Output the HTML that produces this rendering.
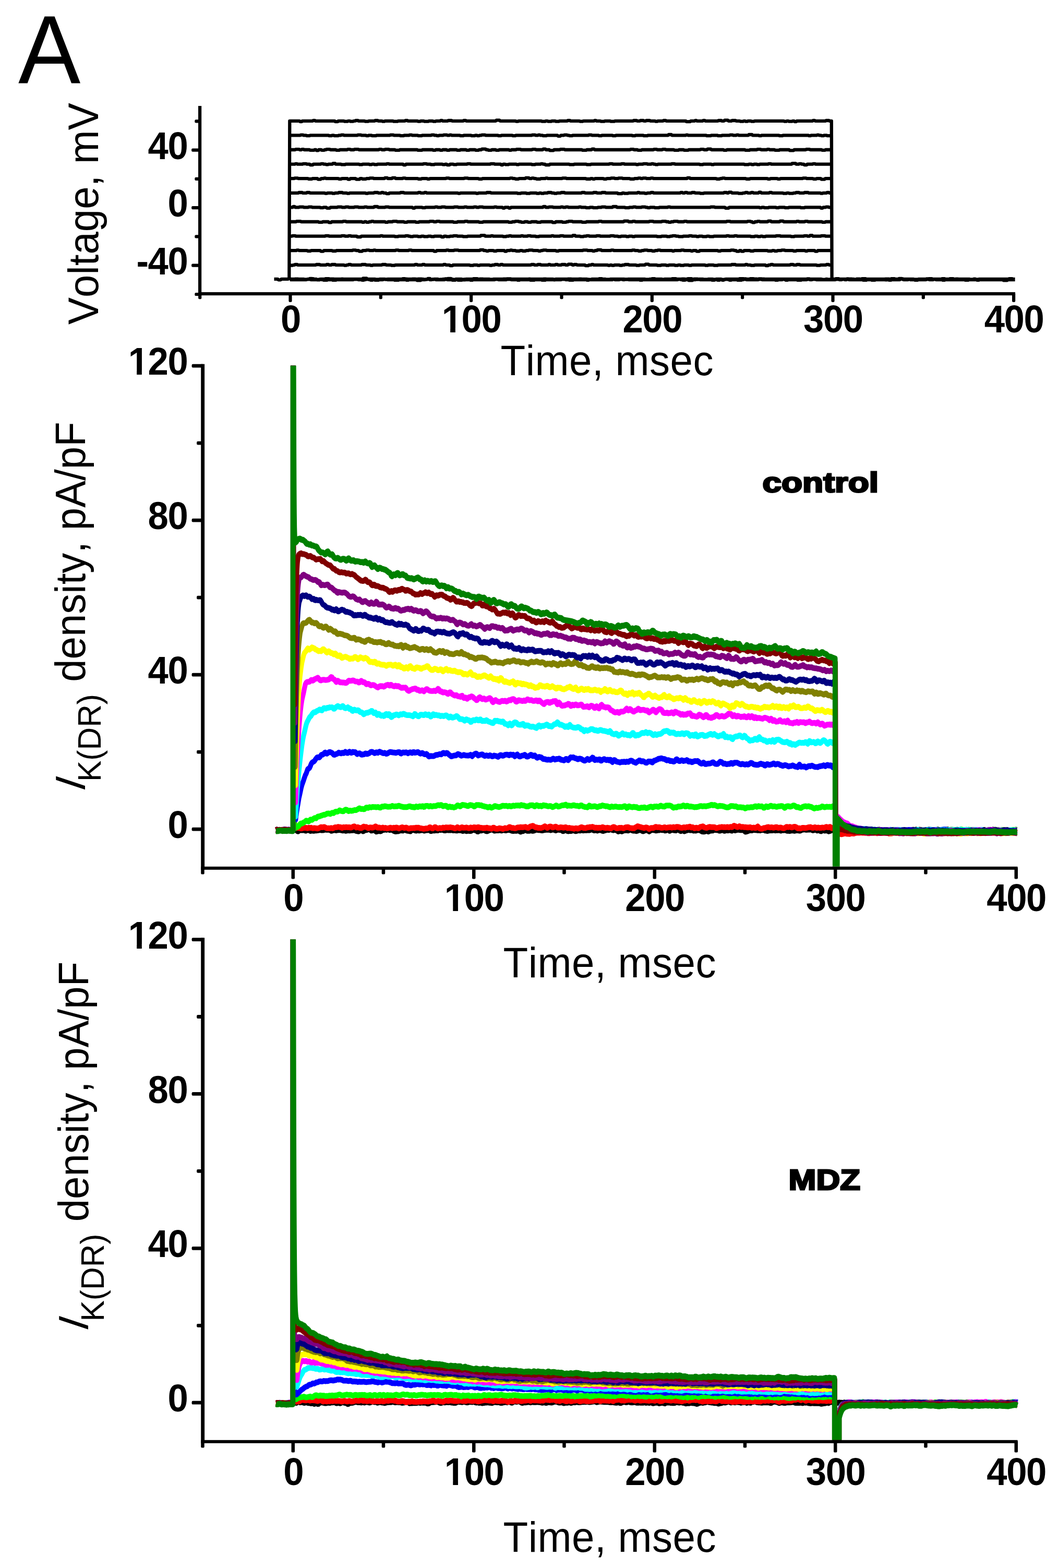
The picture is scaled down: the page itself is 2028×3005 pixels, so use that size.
<!DOCTYPE html>
<html lang="en"><head><meta charset="utf-8"><title>Figure A</title>
<style>
html,body{margin:0;padding:0;background:#fff;}
body{width:2028px;height:3005px;}
svg{display:block;}
text{font-family:"Liberation Sans",Arial,Helvetica,sans-serif;fill:#000;font-kerning:none;}
.tk text{font-weight:bold;font-size:75px;letter-spacing:-1.5px;}
.ti{font-size:78px;letter-spacing:0.55px;}
.tr{font-size:78px;}
.lg{font-weight:bold;stroke:#000;stroke-width:3px;stroke-linejoin:miter;}
</style></head><body>
<svg width="2028" height="3005" viewBox="0 0 2028 3005">
<rect width="2028" height="3005" fill="#fff"/>
<text transform="translate(35 159) scale(1 1.041)" font-size="179">A</text>
<g transform="scale(.1)"><path fill="none" stroke="#000" stroke-width="63" stroke-linejoin="round" d="M5255 5349l69 0 12 14 45 0 12-14 125 0 12-8 30 0 12 8 253 0 12 8 47 0 12-8 38 0 12-8 61 0 12 8 46 0 12 14 53 0 12-14 84 0 12-8 70 0 12 8 627 0 12-15 69 0 12 15 151 0 12 8 60 0 12-8 103 0 12 8 26 0 12-8 280 0 12-8 42 0 12 8 339 0 12 8 57 0 12-8 32 0 12 8 69 0 12-8 76 0 12 8 70 0 12-8 184 0 12 8 38 0 12-8 113 0 12 14 61 0 12-14 130 0 12-8 75 0 12 8 220 0 12 8 49 0 12-8 1146 0 12 14 27 0 12-14 601 0 12 8 66 0 12-8 131 0 12-8 51 0 12 8 57 0 12 8 67 0 12-8 272 0 12 8 44 0 12-8 326 0 12 8 65 0 12-8 35 0 12-8 51 0 12 8 125 0 12 8 27 0 12-8 134 0 12-8 72 0 12 8 93 0 12 8 57 0 12-8 30 0 12-8 72 0 12 8 58 0 12 8 47 0 12-8 80 0 12 8 73 0 12-8 90 0 12 8 39 0 12-8 98 0 12 8 60 0 12-8 254 0 12-8 70 0 12 8 111 0 12-8 63 0 12 8 1290 0 12 8 62 0 12-8 26 0 12 8 57 0 12-8 71 0 12-8 57 0 12 8 280 0 12 8 31 0 12-8 84 0 12-8 72 0 12 8 349 0 12 14 44 0 12-14 50 0 12-8 63 0 12 8 58 0 12-8 55 0 12 8 217 0 12 8 67 0 12-8 186 0 12-8 61 0 12 8 170 0 12-8 50 0 12 8 76 0 12-8 65 0 12 8 303 0 12 8 55 0 12-8 22 0 12 8 52 0 12-8 565 0 12-8 62 0 12 8 41 0M5560 5354l82 0 12-8 62 0 12 8 197 0 12-14 44 0 12 14 72 0 12 8 26 0 12-8 207 0 12-8 64 0 12 8 121 0 12-8 33 0 12 8 503 0 12 14 39 0 12-14 280 0 12 8 30 0 12-8 102 0 12 8 42 0 12-8 106 0 12-8 29 0 12 8 76 0 12-8 61 0 12 8 27 0 12-8 69 0 12 8 93 0 12-14 42 0 12 14 105 0 12 8 55 0 12-8 133 0 12-14 61 0 12 14 29 0 12 8 48 0 12-8 58 0 12 8 35 0 12-8 21 0 12 8 49 0 12-8 217 0 12-8 60 0 12 8 279 0 12 8 26 0 12-8 35 0 12-8 60 0 12 8 405 0 12-8 29 0 12 8 35 0 12 8 51 0 12-8 120 0 12-8 51 0 12 8 391 0 12-8 66 0 12 8 124 0 12-8 46 0 12 8 137 0 12 8 70 0 12-8 54 0 12 8 73 0 12-8 154 0 12 8 31 0 12-8 401 0 12 8 35 0 12-8 265 0 12 8 32 0 12-8 195 0 12 8 71 0 12-8 113 0 12 8 42 0 12-8 59 0 12-8 53 0 12 8 45 0 12 8 62 0 12-8 29 0 12-8 68 0 12 8 444 0 12 14 33 0 12-14 84 0 12 14 36 0 12-14 421 0 12-8 47 0 12 8 71 0 12-8 47 0 12 8 160 0 12 8 25 0 12-8 172 0 12 14 43 0 12-14 657 0 12 8 70 0 12-8 386 0 12-8 70 0 12 8 64 0 12-8 64 0 12 8 32 0 12-8 66 0 12 8 341 0 12-8 73 0 12 8 165 0 12-14 54 0 12 14 59 0 12 8 33 0 12-8 27 0 12 8 57 0 12-8 490 0 12 8 47 0 12-8 225 0 12-8 45 0 12 8 43 0 12 8 70 0 12-8 138 0 12-8 33 0 12 8 537 0 12 8 43 0 12-8 143 0M5560 5360l312 0 12-8 61 0 12 8 151 0 12-8 35 0 12 8 27 0 12 8 62 0 12-8 86 0 12 8 60 0 12-8 323 0 12-8 70 0 12 8 63 0 12 8 28 0 12-8 24 0 12-8 45 0 12 8 103 0 12 8 64 0 12-8 74 0 12-8 62 0 12 8 127 0 12 8 72 0 12-8 132 0 12 8 31 0 12-8 147 0 12 14 67 0 12-14 77 0 12-8 63 0 12 8 37 0 12-8 55 0 12 8 167 0 12-15 31 0 12 15 84 0 12 8 53 0 12-8 32 0 12 8 68 0 12-8 28 0 12-8 54 0 12 8 41 0 12 8 34 0 12-8 417 0 12-8 46 0 12 8 151 0 12-15 73 0 12 15 110 0 12 8 31 0 12-8 190 0 12 8 71 0 12-8 127 0 12 8 61 0 12-8 294 0 12-8 60 0 12 8 62 0 12 8 68 0 12-8 246 0 12 8 28 0 12-8 438 0 12-8 30 0 12 8 87 0 12-8 43 0 12 8 32 0 12-8 55 0 12 8 208 0 12 8 36 0 12-8 637 0 12-8 74 0 12 8 25 0 12 8 39 0 12-8 49 0 12 14 69 0 12-14 49 0 12-8 63 0 12 8 219 0 12 8 40 0 12-8 45 0 12 8 30 0 12-8 79 0 12-8 59 0 12 8 164 0 12 8 71 0 12-8 23 0 12-15 41 0 12 15 224 0 12-15 52 0 12 15 244 0 12 8 40 0 12-8 77 0 12-8 40 0 12 8 216 0 12 8 67 0 12-8 95 0 12-15 41 0 12 15 39 0 12-8 57 0 12 8 365 0 12-15 56 0 12 15 44 0 12-8 33 0 12 8 32 0 12-15 26 0 12 15 261 0 12 8 59 0 12-8 81 0 12 8 59 0 12-8 249 0 12 8 34 0 12-8 158 0 12-15 50 0 12 15 46 0 12-8 72 0 12 8 64 0 12 8 48 0 12-8 149 0 12-15 43 0 12 15 74 0 12-8 27 0 12 8 119 0 12 8 34 0 12-8 374 0 12 8 55 0 12-8 148 0 12 8 31 0 12-8 451 0 12 14 69 0 12-14 139 0M5543 5354l1-276 23 0 12 8 27 0 12-8 23 0 12-8 46 0 12 8 339 0 12-8 67 0 12 8 107 0 12-8 40 0 12 8 35 0 12-8 68 0 12 8 153 0 12 8 30 0 12-8 24 0 12-8 42 0 12 8 187 0 12-8 74 0 12 8 75 0 12 8 29 0 12-8 166 0 12-8 67 0 12 8 87 0 12 8 59 0 12-8 367 0 12-8 40 0 12 8 79 0 12-8 38 0 12 8 343 0 12-8 37 0 12 8 64 0 12 14 44 0 12-14 316 0 12 8 56 0 12-8 68 0 12 8 31 0 12-8 177 0 12 8 32 0 12-8 39 0 12-8 55 0 12 8 31 0 12-8 36 0 12 8 528 0 12-8 51 0 12 8 49 0 12-8 52 0 12 8 131 0 12-8 26 0 12 8 82 0 12-8 39 0 12 8 56 0 12-8 67 0 12 8 39 0 12-14 62 0 12 14 22 0 12-8 48 0 12 8 146 0 12 14 54 0 12-14 40 0 12-8 29 0 12 8 266 0 12 8 27 0 12-8 21 0 12 8 34 0 12-8 93 0 12 8 37 0 12-8 35 0 12-8 70 0 12 8 129 0 12 8 48 0 12-8 102 0 12-14 53 0 12 14 149 0 12 8 63 0 12-8 85 0 12 8 39 0 12-8 103 0 12 8 49 0 12-8 35 0 12 8 56 0 12-8 82 0 12 8 37 0 12-8 253 0 12 8 42 0 12-8 98 0 12 8 65 0 12-8 247 0 12-8 73 0 12 8 169 0 12-8 31 0 12 8 53 0 12 8 56 0 12-8 204 0 12 14 37 0 12-14 32 0 12-8 38 0 12 8 315 0 12-8 53 0 12 8 45 0 12-8 55 0 12 8 306 0 12 8 56 0 12-8 102 0 12-8 45 0 12 8 47 0 1 276M5543 5354l2-552 133 0 12-8 32 0 12 8 152 0 12 8 54 0 12-8 176 0 12 14 44 0 12-14 155 0 12 8 62 0 12-8 302 0 12-8 54 0 12 8 46 0 12 14 53 0 12-14 60 0 12-8 50 0 12 8 67 0 12-8 26 0 12 8 373 0 12-8 47 0 12 8 180 0 12-8 46 0 12 8 414 0 12 14 36 0 12-14 175 0 12-8 35 0 12 8 92 0 12-8 73 0 12 8 401 0 12-14 55 0 12 14 39 0 12 8 32 0 12-8 86 0 12 8 46 0 12-8 141 0 12 14 28 0 12-14 54 0 12-8 26 0 12 8 59 0 12 8 66 0 12-8 37 0 12 8 53 0 12-8 42 0 12-8 69 0 12 8 93 0 12 8 35 0 12-8 28 0 12-8 59 0 12 8 168 0 12 8 41 0 12-8 451 0 12-8 75 0 12 8 85 0 12 8 32 0 12-8 34 0 12-14 67 0 12 14 173 0 12-8 39 0 12 8 341 0 12-8 42 0 12 8 55 0 12 8 49 0 12-8 33 0 12-8 60 0 12 8 72 0 12 8 44 0 12-8 38 0 12-8 43 0 12 8 215 0 12 8 25 0 12-8 118 0 12-8 46 0 12 8 120 0 12 8 25 0 12-8 57 0 12 14 47 0 12-14 341 0 12 8 42 0 12-8 178 0 12-8 54 0 12 8 33 0 12 14 43 0 12-14 26 0 12 14 36 0 12-14 112 0 12 8 55 0 12-8 255 0 12 8 73 0 12-8 31 0 12 8 45 0 12-8 65 0 12-8 56 0 12 8 148 0 12 8 46 0 12-8 159 0 12 8 31 0 12-8 133 0 12 14 36 0 12-14 269 0 1 552M5543 5354l3-828 48 0 12-8 54 0 12 8 556 0 12-8 59 0 12 8 227 0 12-8 55 0 12 8 54 0 12-8 38 0 12 8 103 0 12 14 68 0 12-14 357 0 12-8 31 0 12 8 221 0 12 8 54 0 12-8 125 0 12-8 46 0 12 8 25 0 12 8 40 0 12-8 82 0 12 8 50 0 12-8 41 0 12 8 64 0 12-8 50 0 12 8 45 0 12-8 124 0 12 14 41 0 12-14 34 0 12 8 54 0 12-8 54 0 12-8 64 0 12 8 98 0 12 8 73 0 12-8 242 0 12-14 72 0 12 14 102 0 12-8 26 0 12 8 181 0 12 8 50 0 12-8 40 0 12-8 29 0 12 8 178 0 12-8 27 0 12 8 74 0 12-8 49 0 12 8 84 0 12 8 52 0 12-8 225 0 12-8 28 0 12 8 112 0 12-8 55 0 12 8 163 0 12-14 40 0 12 14 83 0 12 8 51 0 12-8 41 0 12-8 44 0 12 8 124 0 12-8 59 0 12 8 183 0 12-8 61 0 12 8 65 0 12 8 42 0 12-8 93 0 12 8 35 0 12-8 58 0 12 8 30 0 12-8 415 0 12 8 72 0 12-8 96 0 12 8 46 0 12-8 32 0 12-8 57 0 12 8 41 0 12 8 72 0 12-8 102 0 12-8 44 0 12 8 79 0 12 8 29 0 12-8 61 0 12 8 65 0 12-8 41 0 12 8 69 0 12-8 234 0 12-8 38 0 12 8 89 0 12-8 40 0 12 8 250 0 12 8 64 0 12-8 49 0 12 8 38 0 12-8 30 0 12 8 44 0 12-8 187 0 12-8 73 0 12 8 192 0 12 8 52 0 12-8 172 0 12-8 54 0 12 8 35 0 12-14 40 0 12 14 150 0 12-8 70 0 12 8 119 0 2 828M5543 5354l4-1104 127 0 12-8 75 0 12 8 329 0 12 8 60 0 12-8 108 0 12 14 40 0 12-14 209 0 12-8 47 0 12 8 298 0 12 8 26 0 12-8 32 0 12 8 35 0 12-8 34 0 12-8 29 0 12 8 216 0 12 8 35 0 12-8 83 0 12-8 69 0 12 8 125 0 12 8 46 0 12-8 153 0 12 8 49 0 12-8 192 0 12-8 64 0 12 8 45 0 12-8 48 0 12 8 251 0 12 8 62 0 12-8 131 0 12-8 44 0 12 8 207 0 12 8 63 0 12-8 480 0 12 8 54 0 12-8 46 0 12-8 60 0 12 8 34 0 12 8 48 0 12-8 57 0 12 8 47 0 12-8 102 0 12 8 60 0 12-8 211 0 12 14 49 0 12-14 119 0 12 8 61 0 12-8 30 0 12-8 66 0 12 8 170 0 12 8 68 0 12-8 228 0 12-8 46 0 12 8 414 0 12-14 73 0 12 14 70 0 12-8 35 0 12 8 259 0 12-8 66 0 12 8 152 0 12-8 69 0 12 8 38 0 12 8 31 0 12-8 41 0 12-8 69 0 12 8 106 0 12-8 41 0 12 8 750 0 12-8 58 0 12 8 317 0 12-8 49 0 12 8 23 0 12 14 33 0 12-14 37 0 12-8 34 0 12 8 147 0 12-14 46 0 12 14 158 0 12-14 54 0 12 14 243 0 12-8 32 0 12 8 103 0 12-8 43 0 12 8 265 0 12 8 46 0 12-8 118 0 3 1104M5543 5354l5-1380 60 0 12-14 28 0 12 14 67 0 12-8 75 0 12 8 78 0 12-8 59 0 12 8 146 0 12 8 44 0 12-8 52 0 12 14 59 0 12-14 125 0 12-8 74 0 12 8 54 0 12-8 53 0 12 8 94 0 12-8 68 0 12 8 100 0 12-8 40 0 12 8 123 0 12-14 63 0 12 14 127 0 12-8 60 0 12 8 441 0 12 14 33 0 12-14 130 0 12 8 44 0 12-8 174 0 12-8 38 0 12 8 62 0 12-8 62 0 12 8 154 0 12-8 68 0 12 8 104 0 12-8 39 0 12 8 120 0 12-8 42 0 12 8 35 0 12-8 66 0 12 8 201 0 12-8 35 0 12 8 103 0 12 14 28 0 12-14 63 0 12 14 29 0 12-14 607 0 12-14 37 0 12 14 48 0 12-8 71 0 12 8 135 0 12-8 32 0 12 8 38 0 12-8 39 0 12 8 190 0 12-8 31 0 12 8 83 0 12 8 58 0 12-8 54 0 12 8 75 0 12-8 62 0 12-8 67 0 12 8 122 0 12-14 66 0 12 14 149 0 12 8 65 0 12-8 63 0 12-8 43 0 12 8 97 0 12-8 65 0 12 8 27 0 12 8 30 0 12-8 81 0 12 8 73 0 12-8 154 0 12-8 36 0 12 8 757 0 12-8 71 0 12 8 187 0 12 14 63 0 12-14 573 0 12 8 28 0 12-8 37 0 12 8 72 0 12-8 134 0 12 8 38 0 12-8 105 0 12 8 60 0 12-8 219 0 12 8 63 0 12-8 295 0 12 14 32 0 12-14 41 0 12-8 47 0 12 8 50 0 4 1380M5543 5354l5-1656 167 0 12-8 67 0 12 8 64 0 12-8 51 0 12 8 278 0 12 8 30 0 12-8 88 0 12 8 35 0 12-8 57 0 12-8 69 0 12 8 73 0 12 8 32 0 12-8 301 0 12 8 32 0 12-8 102 0 12-8 70 0 12 8 45 0 12-8 30 0 12 8 42 0 12 14 45 0 12-14 199 0 12-8 62 0 12 8 255 0 12-8 39 0 12 8 56 0 12-8 33 0 12 8 593 0 12 8 26 0 12-8 295 0 12 8 28 0 12-8 146 0 12-8 74 0 12 8 495 0 12 8 56 0 12-8 91 0 12 8 58 0 12-8 116 0 12 8 39 0 12-8 25 0 12 8 37 0 12-8 62 0 12-8 65 0 12 8 38 0 12 8 37 0 12-8 65 0 12-8 64 0 12 8 310 0 12-8 52 0 12 8 146 0 12-8 59 0 12 8 79 0 12-8 64 0 12 8 220 0 12 14 74 0 12-14 26 0 12 8 65 0 12-8 164 0 12-8 29 0 12 8 89 0 12 8 32 0 12-8 56 0 12-8 43 0 12 8 502 0 12-8 35 0 12 8 24 0 12-8 40 0 12 8 70 0 12-8 53 0 12 8 85 0 12 8 59 0 12-8 371 0 12-8 51 0 12 8 21 0 12-14 42 0 12 14 118 0 12 8 70 0 12-8 33 0 12-8 40 0 12 8 49 0 12-8 35 0 12 8 94 0 12-14 28 0 12 14 146 0 12-8 42 0 12 8 202 0 12 8 54 0 12-8 34 0 12 8 68 0 12-8 36 0 12-8 59 0 12 8 78 0 12-8 73 0 12 8 220 0 12 8 27 0 12-8 64 0 12-8 40 0 12 8 39 0 4 1656M5543 5354l6-1932 87 0 12-8 58 0 12 8 184 0 12 8 64 0 12-8 95 0 12 14 47 0 12-14 46 0 12-8 25 0 12 8 233 0 12 8 45 0 12-8 107 0 12 14 31 0 12-14 102 0 12 14 62 0 12-14 33 0 12 8 66 0 12-8 51 0 12-8 64 0 12 8 203 0 12-14 42 0 12 14 77 0 12-14 50 0 12 14 128 0 12-8 43 0 12 8 227 0 12 8 54 0 12-8 99 0 12 8 34 0 12-8 301 0 12-8 51 0 12 8 273 0 12-8 63 0 12 8 190 0 12 8 57 0 12-8 518 0 12-8 42 0 12 8 36 0 12 8 57 0 12-8 117 0 12-14 57 0 12 14 36 0 12-8 33 0 12 8 31 0 12 8 71 0 12-8 85 0 12-8 27 0 12 8 267 0 12-8 67 0 12 8 367 0 12 8 73 0 12-8 29 0 12 8 29 0 12-8 156 0 12 8 46 0 12-8 68 0 12-8 63 0 12 8 57 0 12-8 70 0 12 8 130 0 12 8 71 0 12-8 59 0 12-8 40 0 12 8 25 0 12-8 58 0 12 8 70 0 12-8 39 0 12 8 640 0 12-14 40 0 12 14 495 0 12 8 56 0 12-8 29 0 12-8 42 0 12 8 392 0 12 8 64 0 12-8 327 0 12 8 39 0 12-8 127 0 12 8 40 0 12-8 419 0 12-8 59 0 12 8 116 0 12 8 51 0 12-8 78 0 12 14 61 0 12-14 123 0 5 1932M5543 5354l7-2208 101 0 12-8 28 0 12 8 95 0 12-8 60 0 12 8 51 0 12 14 51 0 12-14 135 0 12-8 40 0 12 8 37 0 12 8 28 0 12-8 75 0 12-14 40 0 12 14 100 0 12 8 66 0 12-8 255 0 12 8 47 0 12-8 123 0 12 8 34 0 12-8 36 0 12 8 45 0 12-8 168 0 12-8 35 0 12 8 259 0 12 14 38 0 12-14 321 0 12-8 56 0 12 8 65 0 12 8 59 0 12-8 145 0 12 8 33 0 12-8 22 0 12 14 48 0 12-14 58 0 12 8 46 0 12-8 191 0 12-8 53 0 12 8 368 0 12-8 66 0 12 8 112 0 12 14 28 0 12-14 32 0 12 8 52 0 12-8 140 0 12 8 30 0 12-8 236 0 12 8 55 0 12-8 95 0 12-8 28 0 12 8 32 0 12 14 75 0 12-14 366 0 12 8 75 0 12-8 230 0 12 8 68 0 12-8 342 0 12-8 54 0 12 8 152 0 12-8 48 0 12 8 215 0 12 8 26 0 12-8 82 0 12-8 68 0 12 8 66 0 12-8 29 0 12 8 26 0 12 8 32 0 12-8 250 0 12-8 54 0 12 8 464 0 12 8 51 0 12-8 151 0 12 8 31 0 12-8 575 0 12 8 70 0 12-8 46 0 12 8 28 0 12-8 51 0 12 8 37 0 12-8 155 0 12-8 42 0 12 8 385 0 12-14 67 0 12 14 46 0 12-8 36 0 12 8 36 0 12 14 47 0 12-14 98 0 12-8 37 0 12 8 305 0 6 2208M5543 5354l8-2484 106 0 12-8 64 0 12 8 32 0 12-8 29 0 12 8 104 0 12 8 71 0 12-8 27 0 12 14 30 0 12-14 48 0 12 8 41 0 12-8 25 0 12-8 61 0 12 8 105 0 12 8 53 0 12-8 139 0 12-8 43 0 12 8 63 0 12-8 73 0 12 8 378 0 12-8 37 0 12 8 53 0 12-8 67 0 12 8 106 0 12 8 70 0 12-8 335 0 12 8 74 0 12-8 196 0 12 8 36 0 12-8 77 0 12 8 31 0 12-8 75 0 12 8 37 0 12-8 131 0 12 8 50 0 12-8 108 0 12 8 43 0 12-8 107 0 12 8 50 0 12-8 45 0 12-14 68 0 12 14 33 0 12 8 51 0 12-8 74 0 12 8 45 0 12-8 184 0 12 8 27 0 12-8 85 0 12-8 74 0 12 8 207 0 12-8 56 0 12 8 127 0 12-14 39 0 12 14 64 0 12 14 67 0 12-14 110 0 12-8 74 0 12 8 326 0 12 8 69 0 12-8 92 0 12-14 35 0 12 14 678 0 12-8 53 0 12 8 66 0 12 8 60 0 12-8 221 0 12-8 51 0 12 8 92 0 12-8 50 0 12 8 152 0 12 8 73 0 12-8 90 0 12 8 72 0 12-8 219 0 12-8 53 0 12 8 56 0 12-14 60 0 12 14 230 0 12 8 43 0 12-8 345 0 12 8 75 0 12-8 129 0 12-8 60 0 12 8 108 0 12-8 31 0 12 8 94 0 12 8 74 0 12-8 181 0 12 14 73 0 12-14 221 0 12-8 62 0 12 8 219 0 12 8 50 0 12-8 116 0 7 2484M5543 5354l9-2760 199 0 12-8 47 0 12 8 46 0 12 8 53 0 12-8 353 0 12 8 44 0 12-8 32 0 12 8 70 0 12-8 38 0 12-8 42 0 12 8 250 0 12-8 61 0 12 8 83 0 12 8 29 0 12-8 55 0 12 8 71 0 12-8 253 0 12-8 59 0 12 8 112 0 12 8 58 0 12-8 92 0 12-8 40 0 12 8 104 0 12 8 62 0 12-8 168 0 12-8 46 0 12 8 37 0 12 8 26 0 12-8 73 0 12-8 63 0 12 8 32 0 12-8 26 0 12 8 154 0 12 8 53 0 12-8 137 0 12 8 58 0 12-8 31 0 12 8 27 0 12-8 31 0 12-8 64 0 12 8 233 0 12 8 44 0 12-8 206 0 12 8 47 0 12-8 300 0 12-8 57 0 12 8 38 0 12-8 28 0 12 8 40 0 12 8 59 0 12-8 201 0 12 14 44 0 12-14 53 0 12-8 51 0 12 8 26 0 12 8 48 0 12-8 297 0 12-8 50 0 12 8 123 0 12 8 42 0 12-8 199 0 12 8 47 0 12-8 305 0 12 8 46 0 12-8 146 0 12 8 66 0 12-8 385 0 12-14 53 0 12 14 261 0 12-8 26 0 12 8 343 0 12 8 74 0 12-8 120 0 12 8 64 0 12-8 140 0 12-8 51 0 12 8 53 0 12-8 31 0 12 8 178 0 12-14 61 0 12 14 117 0 12 8 30 0 12-8 332 0 12 8 55 0 12-8 487 0 12 8 27 0 12-8 106 0 12-8 27 0 12 8 33 0 12 8 34 0 12-8 51 0 12 8 53 0 12-8 16 0 7 2760M5543 5354l10-3036 189 0 12 14 29 0 12-14 194 0 12-8 38 0 12 8 364 0 12 14 46 0 12-14 106 0 12 8 57 0 12-8 34 0 12 8 49 0 12-8 25 0 12-8 48 0 12 8 113 0 12 8 55 0 12-8 109 0 12-8 53 0 12 8 68 0 12 8 33 0 12-8 154 0 12 8 74 0 12-8 126 0 12-8 42 0 12 8 180 0 12 8 36 0 12-8 60 0 12 8 73 0 12-8 74 0 12 8 40 0 12-8 76 0 12-8 30 0 12 8 90 0 12-8 68 0 12 8 205 0 12-8 43 0 12 8 562 0 12-14 57 0 12 14 298 0 12 8 33 0 12-8 437 0 12 8 60 0 12-8 34 0 12 8 58 0 12-8 66 0 12 8 57 0 12-8 145 0 12-8 46 0 12 8 169 0 12 8 48 0 12-8 204 0 12-8 28 0 12 8 72 0 12 8 61 0 12-8 103 0 12 8 66 0 12-8 346 0 12-8 61 0 12 8 45 0 12-8 60 0 12 8 29 0 12-8 70 0 12 8 87 0 12 8 29 0 12-8 96 0 12-8 46 0 12 8 370 0 12 14 72 0 12-14 71 0 12-8 26 0 12 8 103 0 12-8 35 0 12 8 233 0 12-8 59 0 12 8 39 0 12-14 59 0 12 14 57 0 12-8 71 0 12 8 66 0 12 8 52 0 12-8 26 0 12 8 30 0 12-8 58 0 12 8 45 0 12-8 561 0 12 8 36 0 12-8 27 0 12 8 59 0 12-8 26 0 12 14 30 0 12-14 297 0 12-8 36 0 12 8 190 0 12-8 58 0 12 8 35 0 8 3036"/></g>
<g fill="#000"><rect x="380.0" y="203.0" width="6.2" height="363.1"/><rect x="380.0" y="559.9" width="1566.0" height="6.2"/><rect x="553.4" y="561.0" width="6.2" height="18.0" rx="2.2"/><rect x="900.0" y="561.0" width="6.2" height="18.0" rx="2.2"/><rect x="1246.7" y="561.0" width="6.2" height="18.0" rx="2.2"/><rect x="1593.4" y="561.0" width="6.2" height="18.0" rx="2.2"/><rect x="1940.0" y="561.0" width="6.2" height="18.0" rx="2.2"/><rect x="380.1" y="561.0" width="6.2" height="12.2" rx="2.2"/><rect x="726.7" y="561.0" width="6.2" height="12.2" rx="2.2"/><rect x="1073.4" y="561.0" width="6.2" height="12.2" rx="2.2"/><rect x="1420.0" y="561.0" width="6.2" height="12.2" rx="2.2"/><rect x="1766.7" y="561.0" width="6.2" height="12.2" rx="2.2"/><rect x="367.1" y="505.6" width="18.0" height="6.2" rx="2.2"/><rect x="367.1" y="395.1" width="18.0" height="6.2" rx="2.2"/><rect x="367.1" y="284.6" width="18.0" height="6.2" rx="2.2"/><rect x="373.3" y="560.9" width="11.8" height="6.2" rx="2.2"/><rect x="373.3" y="450.3" width="11.8" height="6.2" rx="2.2"/><rect x="373.3" y="339.8" width="11.8" height="6.2" rx="2.2"/><rect x="373.3" y="229.3" width="11.8" height="6.2" rx="2.2"/></g>
<g class="tk"><text transform="translate(359.3 525.8) scale(0.942 1)" text-anchor="end">-40</text><text transform="translate(359.3 415.3) scale(0.942 1)" text-anchor="end">0</text><text transform="translate(359.3 304.8) scale(0.942 1)" text-anchor="end">40</text><text transform="translate(556.9 637.3) scale(0.942 1)" text-anchor="middle">0</text><text transform="translate(903.5 637.3) scale(0.942 1)" text-anchor="middle">100</text><g transform="translate(903.5 637.3) scale(0.942 1)" fill="#fff"><rect x="-56.40" y="-8.35" width="13.58" height="9.25"/><rect x="-32.53" y="-8.35" width="12.63" height="9.25"/></g><text transform="translate(1250.2 637.3) scale(0.942 1)" text-anchor="middle">200</text><text transform="translate(1596.9 637.3) scale(0.942 1)" text-anchor="middle">300</text><text transform="translate(1943.5 637.3) scale(0.942 1)" text-anchor="middle">400</text></g>
<text class="ti" transform="translate(959.5 718.8) scale(1 1.04)">Time, msec</text>
<text class="tr" transform="translate(188 622) rotate(-90) scale(1 1.04)">Voltage, mV</text>
<clipPath id="c2"><rect x="380" y="700.7" width="1640" height="960.0"/></clipPath>
<g clip-path="url(#c2)"><g transform="scale(0.085 .1)" fill="none" stroke-width="109" stroke-linejoin="round">
<path stroke="#000" d="M6224 15913l18-2 19-1 19 0 19 0 19 0 18 1 19-5 19 3 19 3 19 0 19 5 18-1 19-10 19 5 19 6 19 3 19-2 18-9 19-2 19 2 7 4 0-9336 4 0 4 3437 4 2638 4 1456 4 803 4 443 4 245 4 136 5 75 4 41 4 23 4 13 4 7 4 4 4 3 4 4 4 3 5 3 4 3 4 3 4 3 4 3 4 4 4 2 4 1 5 1 4 1 4 0 4-1 4-4 4-4 4-4 4-3 4-2 5-2 4-2 4-2 4-1 4 1 4 1 1 0 19 2 18-1 19 1 19-3 19 0 19 12 19 0 18-13 19-5 19 3 19 13 19 8 18-6 19-2 19 3 19 2 19-3 19-4 18 2 19-2 19-2 19-2 19-6 19 0 18 5 19-2 19 2 19-2 19-8 18-4 19 5 19 0 19 0 19 1 19-3 18 9 19 13 19-1 19-7 19-2 19-4 18 3 19 5 19-6 19-2 19 0 18-4 19 5 19 2 19 5 19 2 19-4 18 1 19 7 19 0 19-3 19-4 19 1 18 3 19-2 19-4 19-1 19 0 18-5 19 1 19 9 19 9 19 1 19 4 18 3 19-11 19-16 19-3 19 13 19 13 18-3 19-14 19-8 19 3 19-4 18-9 19 0 19 2 19 9 19 12 19-1 18-11 19 0 19 9 19 12 19 12 19-4 18-10 19 1 19 3 19 1 19-3 18-13 19-9 19 1 19-9 19 0 19 7 18-5 19-7 19 8 19 7 19-4 19-1 18 2 19 10 19 10 19 7 19 4 18-2 19-4 19 2 19-4 19-7 19-3 18-5 19 6 19 1 19-13 19-7 19 8 18 8 19 6 19 1 19-1 19 8 18 2 19-15 19-18 19-1 19 11 19 6 18 4 19 2 19-5 19-3 19 5 19 0 18-4 19-2 19-4 19 0 19 11 18 3 19-8 19-2 19 0 19-2 19-7 18 5 19 18 19 1 19-7 19-2 19 2 18-1 19-6 19 0 19 4 19-1 18-16 19-2 19 9 19-4 19-2 19 8 18 5 19 3 19-1 19-6 19-2 19 3 18 0 19 1 19 0 19-4 19 0 18 8 19-1 19-4 19 5 19 3 19-1 18-5 19-3 19 5 19 0 19-1 19 11 18 2 19-13 19 0 19 9 19 5 18-1 19-5 19 3 19 2 19 0 19-4 18-11 19-6 19 2 19 3 19-2 19 11 18 16 19 1 19-12 19-10 19 3 18 0 19-5 19-9 19 1 19 11 19 10 18 4 19 1 19-8 19-9 19-4 19-8 18 0 19-2 19 3 19 16 19 3 18-6 19-1 19 2 19-1 19-1 19-8 18 1 19 12 19-4 19-13 19 1 19 11 18 1 19-2 19-6 19-5 19 4 18 2 19 4 19 7 19 5 19 2 19-4 18 0 19 1 19 0 19-4 19-5 19 5 18 16 19 5 19-9 19-4 19 2 18-13 19-10 19 1 19 9 19 7 19-1 18 1 19-3 19-6 19 3 19 6 19 0 18-4 19-6 19-8 19-4 19 3 18 4 19 0 19 0 19 3 19 4 19 0 18-3 19-4 19-2 19-3 19 1 19-2 18-1 19 1 19 4 19 5 19-5 18-5 19-1 19 3 19 7 19 6 19-6 18-11 19 0 19 5 19 1 19-2 19 6 18 15 19 4 19-5 19-8 19-5 18 4 19 12 19 4 19-5 19 0 19 1 18-3 19-6 19-4 19 4 19 8 19 4 18-4 19-5 19-5 19 2 19 2 18-5 19-5 19 2 19 6 19-3 19-3 18 2 19 0 19-3 19-3 19 5 19-3 18-12 19-6 19 6 19 13 19 6 18-3 19-5 19 8 19 5 19-11 19-6 18 6 19 0 19 4 19 10 19 1 19-6 18-5 19-3 19-7 19-7 19 9 18 0 19-13 19 2 19 6 19 6 19 4 18-4 19-5 19 4 19 9 19 11 19 10 18-9 19-7 19 8 19 6 19-5 18-9 19-4 19-1 19-4 19 1 19 4 18 2 19-8 19-9 19-1 19 8 19 11 18 1 19-3 19 4 19 5 19 1 18-6 19-7 19-4 19-6 19 1 19 13 18 11 19 1 19-7 19-8 19-4 19-6 18 4 19 16 19 10 19-10 19-17 18-6 19 2 19 5 19-2 19 6 19 6 18-3 19-3 19-5 19 2 19-6 19-7 18 10 19 1 19-3 19 6 19 8 18-2 19-13 19-8 19 10 19 16 19 0 18-14 19-8 19 5 19 5 19 0 19 5 18 1 19-15 19-5 19 6 19 9 18 12 19 5 19-13 19-5 19 11 19 9 18-3 19-10 19-4 19-4 19-4 19-1 18 7 19-1 19-6 19 8 19 8 18-3 19 0 19 3 19-7 19-6 19 2 18 2 19 3 19 8 19 12 19 3 19-1 18 3 19-6 19-9 19-2 19 10 18 5 19-10 19-5 19-2 19-3 19 1 18-7 19-9 19 3 19 2 19-1 19 1 18 7 19 7 19-1 19-6 19-5 18 0 19 5 19 9 19-2 19-12 19 2 18 6 19-2 19-7 19-2 19 11 19 4 18-12 19-7 19 8 19 6 19-5 18-6 19-2 19-2 19 5 19 1 19 0 18 1 19-3 19 0 19 14 19 21 19 0 18-7 19-3 19-8 19-5 19-3 18-1 19 2 19-4 19-8 19 3 19 3 18 0 19 1 19 3 19 0 19 1 19 1 18-6 19-3 19 0 19-1 19 6 18 7 19 1 19 4 19 2 19-7 19 0 18-4 19-1 19 3 19-2 19-5 19 2 18 6 19-4 19-2 19 3 19-3 18-1 19 8 19 2 19-11 19-3 19 6 18-2 19-1 19 5 19 8 19 1 19-1 18 3 19-2 19-7 19 1 19 0 18 2 19 4 19-4 19-3 19 0 19-1 18 2 19 4 19-1 19-9 19-7 19-3 18-3 19 0 19 1 19 4 19 0 18-5 19 2 19 1 19-6 19-1 19 12 18 7 19-2 19-10 19-6 19 13 19 11 18-4 19-4 19 6 19 9 19 4 18-10 19-9 19 1 19 8 19-1 19-3 18 1 19 6 19 9 19-4 19-6 19-5 18-9 19-4 19 6 19 6 21 0 4-7 4 1 4 0 4 0 4 0 4 1 4 0 4 0 4 0 5 0 4-1 4-1 4-1 4-2 4-1 4-1 4-1 5-2 4-1 4 0 4 2 4 1 4 1 4 2 4 1 4 2 5 1 4 2 4 1 4 0 4 1 4 0 4 1 4 0 5-1 4 0 4-1 4 0 4 0 4-1 4 0 4 0 4-1 5 0 4 0 4 0 4 0 4-2 4-1 4-2 4-1 5-1 4-1 4 0 4-1 4 0 4 0 4 1 4 0 4 1 5-1 4 0 4 0 4-1 4 0 4 1 4 2 4 1 5 2 4 1 4 0 2 1 19-2 19-4 19 0 18 2 19 3 19-1 19-2 19 0 19 1 18 2 19 1 19 1 19-3 19-8 18 0 19 7 19 3 19-1 19 0 19-2 18-4 19-4 19 3 19 4 19 2 19 6 18 9 19-2 19-6 19 2 19-2 18-6 19-1 19-4 19-1 19-1 19-2 18 6 19 7 19 0 19 0 19 2 19 0 18-4 19-5 19 2 19 3 19 1 18 2 19 0 19-4 19-1 19-4 19-1 18 3 19 0 19 0 19 1 19-2 19 2 18 2 19 1 19 0 19-1 19-1 18-2 19-2 19 4 19 4 19 1 19-1 18-2 19-1 19 2 19-1 19-4 19-4 18 0 19 3 19-3 19-3 19 3 18 3 19-2 19-1 19 0 19 2 19 4 18 2 19 3 19-3 19-3 19-1 19-1 18-3 19-3 19-1 19 4 19 5 18 0 19 1 19 1 19 2 19-1 19-4 18-6 19-3 19 5 19 4 19 3 19-1 18-3 19 3 19 5 19-2 19-3 18-2 19-8 19-1 19 5 19 2 19 0 18-3 19 0 19 3 19 3 19 4 19-1 18-6 19-3 19 1 19 2 19 3 18-2 19 1 19 6 19 1 19-2 19-2 18-3 19-1 19-1 19 5 19 3 19-5 18-2 19 2 19 2 19-1 19-3 18 3 19 4 19 0 19 0 19 1 19-1 18-3 19-2 19 1 19 3 19-3 19-5 18 1 19 5 19 3 19-2 19-3 18 0 19-3 19-2 19 2 19-2 19-3 18 3 19 1 19-2 19 2 19 5 19 0 18 0 19 2 19 2 19-1 19-1 18-2 19-2 19 0 19 1 19-2 19-1 18 4 19 9 19 4 19-2 19-5 19-4 18-4 19 0 19 0 19-4 19-1 18 2"/>
<path stroke="#f00" d="M6224 15913l18 1 19 1 19 3 19-1 19-4 18 1 19 0 19 0 19-3 19-1 19 0 18 6 19 0 19-2 19-5 19 1 19 3 18 3 19 0 19-1 7-2 0-9336 4 0 4 3418 4 2637 4 1454 4 802 4 442 4 244 4 133 5 73 4 40 4 22 4 12 4 6 4 4 4 2 4 0 4 1 5 0 4 0 4 0 4 0 4 0 4 0 4 0 4-1 5-1 4-1 4-1 4 0 4 1 4 1 4 1 4 1 4 0 5 0 4 0 4 0 4 1 4 3 4 2 1 1 19 4 18-3 19-3 19-7 19-2 19 2 19-1 18 7 19 1 19-10 19 4 19 0 18-4 19 8 19 4 19-5 19 1 19 2 18 2 19 3 19 0 19-4 19-8 19-10 18-4 19 4 19-1 19-4 19-1 18 9 19 9 19 7 19 0 19-3 19 3 18-1 19-5 19 5 19 2 19-7 19-10 18-3 19 1 19-2 19-6 19 0 18 4 19-1 19 8 19 8 19-9 19-6 18 4 19 0 19-5 19 3 19 3 19-2 18-1 19 7 19-1 19-6 19-9 18-6 19-2 19 10 19 13 19-4 19-4 18 8 19 5 19 2 19 4 19-5 19-19 18-8 19 8 19 2 19-2 19 9 18 13 19 1 19-11 19-2 19 2 19 4 18-2 19-6 19-8 19-10 19 6 19 16 18 4 19-4 19 1 19 7 19 2 18-6 19-3 19 9 19 2 19-7 19 7 18 6 19-4 19-3 19-4 19-5 19 4 18 7 19-4 19-5 19 3 19-3 18-3 19 2 19 6 19 10 19-5 19-8 18-5 19-5 19 3 19 8 19 1 19-6 18-1 19 6 19 9 19 5 19-3 18-8 19 0 19 3 19-3 19-1 19 3 18-5 19-5 19 3 19-1 19 0 19 8 18 3 19 1 19 4 19 3 19 1 18-2 19-3 19-1 19 1 19-5 19-7 18-12 19 3 19 13 19 7 19-2 19-11 18-12 19 1 19 9 19 11 19 5 18-5 19-7 19 3 19 6 19-9 19-7 18 6 19 0 19-7 19-1 19 3 19-2 18 2 19-4 19-1 19 4 19 2 18 3 19 6 19 7 19-2 19-13 19-10 18 7 19 12 19 2 19-6 19-11 19-2 18 9 19 1 19 0 19 0 19-6 18 4 19 6 19 4 19-4 19-10 19 4 18 5 19-6 19-6 19 2 19 1 19 2 18-2 19-5 19 1 19 5 19 5 18 1 19 2 19 5 19-5 19 3 19 1 18-8 19 0 19 9 19 2 19-3 19 6 18 7 19-8 19-15 19 0 19 13 18 7 19 2 19 1 19-3 19-6 19-3 18 4 19 2 19 5 19 4 19-7 19-11 18 3 19 2 19-2 19-7 19-13 18-2 19 6 19 8 19 4 19-1 19 4 18 3 19 0 19-6 19-9 19-2 19 2 18-4 19-3 19 2 19 1 19-2 18-2 19-2 19-3 19 11 19 6 19 3 18-7 19-17 19-5 19-3 19-6 19 0 18 9 19 13 19 8 19-3 19 5 18 7 19-2 19 2 19 2 19-5 19-4 18-7 19-9 19-9 19 6 19 18 19 9 18-10 19-13 19-6 19 0 19 9 18 9 19-1 19-4 19-7 19-4 19 7 18 14 19 2 19-2 19-4 19-4 19 2 18 2 19 4 19-1 19-4 19-4 18 6 19 11 19-1 19-4 19 3 19 3 18 3 19 1 19 2 19 6 19-5 19-5 18 1 19 7 19-2 19-7 19-6 18-8 19-6 19 5 19 8 19 3 19 1 18 1 19-7 19-7 19 1 19-3 19-4 18 1 19-2 19-4 19 5 19 8 18 6 19-2 19-1 19 5 19 0 19-4 18 2 19 1 19-8 19-5 19 4 19 7 18 1 19 5 19-3 19-4 19 5 18 0 19 6 19 5 19-9 19-13 19-6 18-1 19 9 19 11 19 4 19 1 19-3 18-6 19 2 19-2 19-2 19 7 18 4 19-3 19-11 19-5 19 1 19-4 18 1 19 9 19 7 19 0 19 3 19-1 18 1 19 2 19-12 19-10 19-6 18-11 19 1 19 9 19 3 19 3 19 8 18 2 19 4 19 5 19-7 19-7 19 3 18 6 19 14 19 9 19-10 19-11 18 0 19 0 19 0 19-6 19-10 19-5 18 4 19 6 19-2 19-1 19 4 19 6 18 2 19-2 19-2 19-6 19 0 18 9 19 0 19-5 19-2 19-1 19-3 18 2 19 7 19-3 19-9 19 6 19 1 18-8 19-2 19 1 19 1 19 4 18 8 19 3 19 2 19-2 19-7 19-2 18 7 19-5 19-8 19 2 19 1 19-10 18 0 19 16 19 2 19-8 19 9 18 13 19-2 19-9 19 0 19 8 19 1 18-10 19-13 19-4 19-1 19-8 19 5 18 15 19 5 19 3 19 1 19-5 18-9 19-3 19 0 19 4 19 0 19-1 18 3 19-2 19 6 19 12 19 0 19-6 18-3 19-6 19-2 19-2 19-3 18 4 19 2 19-4 19 4 19 0 19-5 18 1 19 6 19 0 19-8 19-1 19 5 18-5 19-19 19-4 19 8 19 7 18 10 19 3 19-10 19-10 19 8 19 11 18-3 19-2 19 5 19 3 19-3 19 2 18 4 19 1 19 1 19-4 19-2 18 7 19 6 19-2 19-4 19 1 19 8 18-3 19-16 19-11 19 15 19 20 19 4 18 4 19 2 19-5 19-9 19-3 18 0 19-7 19-7 19-2 19-2 19 8 18 2 19-5 19 1 19 6 19 2 19-4 18-4 19-3 19 1 19 9 19 3 18-4 19-2 19 0 19 8 19 5 19 2 18-3 19-8 19-13 19-3 19 4 19 1 18-4 19-1 19 9 19 4 19-7 18-7 19-1 19 0 19 7 19 15 19 8 18-3 19-1 19 6 19-1 19-9 19-3 18 0 19 4 19 0 19-2 19-2 18-6 19-3 19-1 19-4 19 5 19 8 18 2 19-2 19-8 19 0 19 9 19 4 18-8 19 0 19 7 19-2 19 0 18-6 19 1 19 4 19-4 19-7 19-6 18 3 19 5 19 1 19-9 19 1 19 18 18 8 19-8 19-5 19 1 21 0 4 130 4 1 4 0 4 1 4 1 4 1 4 0 4-1 4 0 5 0 4-1 4-2 4-1 4-2 4-1 4 0 4-1 5 0 4-1 4-1 4-1 4-2 4-1 4-1 4 0 4 1 5 0 4 1 4 1 4 1 4 2 4 1 4 2 4-1 5-1 4-1 4-1 4-1 4-1 4-1 4 0 4-1 4-1 5 0 4-1 4-1 4-1 4-1 4-1 4-1 4-2 5 0 4-1 4 0 4 0 4 0 4 2 4 1 4 2 4 2 5 1 4 0 4 1 4 0 4 1 4 0 4 0 4 0 5 0 4 0 4 0 2 0 19 2 19-2 19-8 18-3 19 3 19 3 19-3 19-5 19-5 18-2 19 0 19 0 19 0 19-2 18-1 19 1 19 2 19-1 19 1 19 2 18-2 19 2 19 5 19 1 19-1 19-4 18-10 19-1 19 5 19 4 19 1 18-2 19 2 19 5 19-1 19-2 19-2 18-3 19 0 19 2 19 1 19 0 19-2 18 3 19 2 19-5 19 1 19 10 18 4 19-1 19-1 19-3 19-4 19-3 18-4 19-5 19-4 19 3 19 8 19 5 18-3 19-4 19-1 19-3 19 0 18 3 19-2 19 5 19 7 19-2 19-3 18-1 19-1 19 2 19 3 19-1 19 1 18 2 19-4 19-5 19-4 19-1 18 3 19 0 19 3 19 3 19-5 19-4 18 2 19 4 19 0 19-4 19-5 19 5 18 10 19-2 19-6 19 2 19 0 18 0 19 4 19 1 19-1 19-5 19-3 18 4 19 0 19-1 19 0 19-2 19-1 18 1 19 6 19 1 19 2 19 1 18-2 19-1 19-3 19-5 19-1 19 2 18 1 19 0 19 4 19 2 19-6 19-3 18 0 19-3 19-1 19 4 19 3 18-2 19 0 19 0 19-1 19 4 19 7 18 0 19-1 19-2 19-7 19-6 19 0 18 4 19 4 19 1 19-2 19-1 18-1 19-2 19 1 19 1 19-1 19 3 18 3 19 1 19-1 19 0 19-1 19-3 18 6 19 4 19-3 19-7 19-5 18 0 19 3 19 3 19 0 19 1 19 2 18-2 19-1 19-2 19 2 19 3 19-2 18-4 19-2 19-1 19 1 19 1 18 0 19 2 19 0 19-1 19-1 19 1 18 2 19 1 19-4 19-2 19 2 19 1 18 4 19 6 19 0 19-6 19-1 18 5"/>
<path stroke="#0f0" d="M6224 15903l18 6 19 2 19-4 19 2 19 3 18-2 19-4 19 0 19 7 19 0 19-3 18 0 19-4 19 3 19-3 19-1 19 1 18 1 19 2 19 3 7-5 0-9330 4 0 4 3395 4 2642 4 1459 4 807 4 445 4 244 4 135 5 73 4 41 4 23 4 13 4 7 4 4 4 2 4-3 4-4 5-4 4-4 4-1 4 0 4 0 4 0 4 0 4-3 5-2 4-3 4-2 4-3 4-2 4-3 4-3 4-2 4-6 5-6 4-6 4-7 4-5 4-4 4-4 1-1 19-10 18 5 19-9 19-14 19-4 19-16 19-13 18 2 19 10 19 4 19-17 19-20 18 3 19 4 19-13 19-14 19-10 19 2 18 3 19-18 19-15 19-1 19-3 19-6 18-7 19-3 19-9 19-5 19 2 18-6 19-8 19-10 19-1 19-3 19 4 18 7 19-13 19-11 19 4 19 3 19-15 18-12 19-2 19 1 19-2 19-10 18-13 19 3 19 10 19 1 19 4 19-3 18-17 19-10 19-1 19 6 19 17 19 5 18-11 19 0 19 6 19-2 19-3 18-6 19-5 19 3 19-2 19-10 19-7 18-12 19-7 19 12 19 5 19-5 19 3 18 5 19-3 19-17 19-13 19 1 18 7 19-5 19-11 19 3 19 1 19-6 18-1 19 1 19 0 19 1 19 3 19-1 18-4 19 5 19 8 19 0 19-12 18-9 19 4 19-2 19-9 19 1 19 4 18 4 19 3 19-1 19-1 19 0 19-6 18-10 19 4 19 7 19 1 19-4 18-1 19 2 19-7 19-4 19 4 19 6 18 5 19 4 19 4 19 3 19 0 19-2 18 1 19 1 19-8 19-7 19-2 18 3 19 9 19 4 19-5 19 10 19 2 18-14 19-5 19 7 19 4 19-7 19-8 18 4 19 4 19-9 19 0 19 15 18-4 19-15 19-2 19 0 19 2 19 10 18-4 19-8 19 8 19 4 19-5 19-4 18 2 19-1 19-4 19-10 19-5 18 3 19 3 19-7 19-1 19 14 19 9 18-3 19-3 19-3 19 3 19 18 19 9 18-9 19-6 19 8 19 4 19-3 18 6 19 5 19-5 19-6 19-13 19-15 18-2 19 8 19 11 19-1 19-18 19-10 18 3 19 0 19 3 19 3 19 6 18 6 19 3 19-8 19-12 19-1 19 4 18 2 19 10 19 11 19-2 19-14 19-12 18 1 19 1 19-2 19 6 19 1 18-1 19 12 19 3 19 2 19 9 19 0 18 2 19 8 19 5 19-7 19-7 19 12 18 8 19-6 19-6 19-12 19-10 18 3 19 7 19 3 19 4 19 5 19-5 18-4 19-6 19-10 19-1 19 2 19 1 18-1 19-1 19 7 19 3 19-8 18 0 19 9 19 0 19-9 19-6 19 4 18 2 19-7 19-1 19 2 19-4 19 4 18 3 19-11 19-4 19 8 19 2 18 0 19 5 19 9 19 4 19-5 19 5 18-7 19-13 19-2 19 0 19-2 19 5 18 14 19 3 19-12 19-11 19 4 18 13 19 3 19-8 19 1 19 9 19-5 18-14 19 0 19 7 19-2 19 3 19 9 18 2 19-1 19-5 19 0 19 12 18 10 19-4 19-6 19-8 19-12 19 0 18 11 19 9 19-3 19-3 19-7 19-7 18-4 19-1 19-1 19-8 19-5 18 16 19 11 19-8 19 1 19 2 19 0 18 1 19-5 19-6 19 1 19 6 19 3 18 2 19 0 19 3 19 7 19-5 18-14 19 1 19 13 19 8 19 3 19 7 18 0 19 1 19 6 19-14 19-21 19 5 18 14 19 1 19-2 19-1 19-4 18-1 19 7 19 7 19 4 19-5 19-11 18-4 19 2 19-9 19-6 19 6 19 3 18 3 19 5 19-3 19 2 19 8 18 7 19 5 19-9 19-7 19 6 19 3 18-3 19-3 19-1 19 4 19 2 19 4 18 2 19-6 19 3 19 1 19-4 18-4 19-8 19-2 19 12 19 23 19-4 18-23 19-6 19 8 19 5 19 4 19 3 18-9 19 1 19 8 19-5 19 1 18 13 19 6 19 1 19-1 19-7 19-2 18 2 19 0 19-7 19 4 19 8 19 2 18-2 19-9 19-8 19-5 19-3 18 3 19 11 19-3 19-13 19 1 19-2 18-1 19 6 19 3 19-6 19-13 19-6 18 11 19 5 19-2 19 7 19-7 18-13 19-2 19 1 19-1 19-2 19 2 18 6 19 8 19 18 19 11 19-7 19-5 18 4 19 0 19-13 19-6 19 4 18-1 19-3 19 0 19-11 19-9 19 8 18 13 19 1 19-14 19-1 19 10 19 7 18 0 19-3 19 4 19 2 19 2 18 8 19-2 19-4 19 3 19-5 19-4 18-5 19-6 19-2 19 5 19 3 19-4 18-2 19 2 19 3 19-4 19-4 18-2 19-5 19-3 19-10 19-2 19 9 18 0 19-6 19 4 19 10 19 7 19 6 18-2 19-7 19-1 19 3 19 0 18 3 19 4 19 5 19 8 19 5 19 1 18 2 19-3 19-5 19-13 19-8 19 4 18-1 19 1 19 6 19 0 19-3 18 10 19 11 19-2 19-1 19-1 19 1 18 5 19-2 19 2 19 11 19 8 19-6 18-13 19-3 19 3 19 1 19-5 18-4 19 3 19 1 19-6 19-8 19-6 18 0 19 12 19-5 19-10 19 5 19 3 18-2 19-1 19 11 19 16 19 1 18-15 19-13 19 4 19 11 19-5 19-9 18-8 19-5 19 8 19 8 19-3 19-3 18 4 19 7 19 1 19-6 19-6 18 1 19-1 19-4 19 0 19 6 19 14 18 16 19-4 19-21 19-6 19-2 19-1 18 7 19 4 19-4 19-6 19-9 18-5 19 3 19 10 19 17 19 4 19-6 18 6 19 11 19 2 19 2 19-11 19-12 18-4 19-4 19-4 19 1 19 7 18-4 19-4 19 6 19 7 19 0 19 8 18 11 19 8 19 6 19-8 19-9 19 4 18 2 19-4 19-5 19-1 19-8 18-13 19 2 19 8 19 7 19-2 19-8 18-1 19 4 19 0 19-3 19 1 19 6 18-7 19-10 19 9 19 4 21 0 4 366 4 1 4 2 4 1 4 1 4 1 4 1 4 1 4 1 5 1 4 0 4 0 4 0 4 0 4 0 4 0 4 0 5 0 4 0 4 1 4 1 4 1 4 1 4 1 4 0 4 0 5-1 4 0 4 2 4 2 4 3 4 2 4 3 4 1 5 0 4 1 4 0 4 1 4 1 4 1 4 1 4 1 4 3 5 3 4 3 4 3 4 3 4 3 4 2 4 3 4 2 5 0 4-1 4-1 4-1 4-1 4 0 4 1 4 1 4 0 5 1 4 1 4 1 4 0 4 1 4 0 4 1 4 0 5 1 4 0 4-1 2 0 19 0 19 1 19 1 18-1 19 2 19 3 19 4 19-3 19-3 18 1 19-2 19 2 19 9 19 4 18 0 19-2 19 1 19 1 19-2 19-2 18-1 19 2 19 0 19-3 19 0 19 3 18 2 19 0 19-4 19-1 19-1 18 1 19 2 19-1 19 0 19 6 19 4 18 1 19 0 19 1 19 0 19 3 19 3 18-1 19-5 19-2 19-1 19-3 18 2 19 1 19 1 19 3 19 0 19-2 18 3 19 5 19 2 19-2 19-1 19 0 18 0 19-1 19-1 19-2 19 0 18 1 19 4 19 4 19 3 19-2 19-1 18 2 19-1 19-2 19 0 19 6 19 1 18-5 19-1 19 4 19 0 19-5 18-6 19-3 19-2 19 1 19 2 19 2 18 0 19-3 19-2 19 0 19 0 19-2 18 1 19 0 19 2 19 2 19 0 18-1 19 0 19 2 19 0 19-3 19-2 18 5 19 4 19-1 19-2 19-1 19-2 18 2 19 1 19-6 19-2 19-1 18 1 19 1 19-8 19-2 19 3 19-1 18 0 19 1 19-3 19 1 19 4 19 3 18 0 19 0 19-2 19 1 19-3 18-7 19-3 19 2 19 5 19 3 19 5 18-4 19-7 19 4 19 0 19-3 19 3 18 3 19 1 19 2 19 1 19 1 18 1 19 1 19-1 19 1 19 5 19 7 18 1 19-3 19-3 19-5 19 0 19 3 18 1 19-1 19 3 19 0 19-5 18-1 19 2 19 2 19 2 19 0 19-2 18 2 19 2 19-4 19-4 19-3 19-5 18 2 19 5 19 1 19-6 19-5 18 4 19 5 19 1 19 1 19 0 19-2 18 0 19 1 19-3 19 0 19 0 19-5 18-2 19 1 19 1 19 0 19-2 18-1"/>
<path stroke="#00f" d="M6224 15906l18-7 19 6 19 5 19 0 19-4 18 5 19-7 19 1 19 4 19 1 19-2 18 1 19-1 19-3 19-7 19 3 19 10 18-2 19-5 19 3 7 0 0-9330 4 0 4 3238 4 2643 4 1462 4 808 4 446 4 244 4 134 5 74 4 40 4 21 4 11 4 5 4 2 4-1 4-29 4-29 5-28 4-29 4-24 4-22 4-21 4-22 4-20 4-22 5-21 4-20 4-20 4-21 4-21 4-21 4-21 4-20 4-16 5-16 4-16 4-15 4-16 4-17 4-16 1-2 19-77 18-59 19-45 19-45 19-50 19-46 19-30 18-44 19-44 19-9 19-11 19-34 18-41 19-27 19-13 19-8 19-12 19-26 18-22 19-18 19-6 19 4 19-1 19-19 18-26 19-9 19 0 19-12 19-22 18-6 19 18 19 5 19-12 19-13 19-7 18 3 19 6 19 7 19 17 19 19 19 2 18-7 19-10 19-1 19-10 19-15 18 4 19 8 19 3 19-12 19 0 19 7 18-9 19-15 19 10 19 11 19 1 19-16 18-10 19 10 19 13 19-5 19-14 18 6 19 0 19 0 19 20 19 17 19-6 18-8 19-2 19 8 19 17 19 3 19-8 18 2 19-5 19-13 19 1 19 9 18-4 19-7 19-7 19-17 19-6 19 0 18 7 19 8 19 10 19-4 19-12 19 6 18 3 19-15 19-8 19 8 19 8 18 6 19 8 19 1 19-8 19 9 19 10 18-2 19-9 19-13 19-8 19-3 19 5 18 1 19 4 19 1 19 0 19 6 18 0 19-8 19-4 19-2 19 3 19 21 18 4 19-14 19-8 19 2 19 1 19-3 18-2 19 10 19 10 19-10 19-9 18-2 19 9 19 5 19-16 19-2 19 13 18-2 19-4 19-3 19-5 19 10 19 15 18 6 19-6 19-8 19 10 19 10 18 7 19-1 19-7 19 9 19 26 19 16 18-4 19-8 19 3 19 0 19 1 19 0 18-10 19-10 19-4 19 1 19-6 18-4 19-5 19 1 19 4 19-15 19-14 18 1 19 11 19-1 19-10 19 1 19 13 18 17 19 12 19 13 19 10 19-4 18-7 19-4 19-3 19 0 19-3 19-17 18-9 19 8 19 6 19 14 19 7 19-6 18-4 19-6 19 5 19 6 19 0 18 1 19-1 19 2 19-8 19-9 19 18 18 11 19-18 19-17 19-7 19-9 19-1 18 19 19 20 19-6 19-8 19-2 18-6 19-2 19 10 19 15 19 6 19-5 18-6 19 4 19 8 19-2 19-11 19 3 18 11 19 7 19-4 19-12 19 3 18 4 19 2 19 10 19 6 19-13 19-17 18-5 19 4 19 9 19 1 19-7 19-11 18-3 19-2 19 0 19 7 19 8 18-12 19-4 19 6 19 1 19-5 19 16 18 18 19-13 19-18 19-7 19 17 19 20 18 4 19-5 19-8 19-5 19-2 18-10 19-5 19 13 19 22 19 2 19-4 18-10 19-12 19-10 19 1 19 19 19 5 18-10 19-2 19 17 19 21 19 7 18-11 19-7 19 5 19 2 19 6 19 14 18 14 19 1 19 0 19 6 19 6 19 1 18-2 19 1 19 2 19 1 19-5 18-11 19-9 19 8 19 12 19-4 19-9 18 3 19-5 19-5 19 7 19 15 19 4 18-2 19 9 19 4 19-14 19-15 18 0 19 17 19 7 19-17 19-24 19-15 18 3 19 2 19-5 19 9 19 8 19 3 18 5 19 12 19 1 19-11 19-2 18 4 19 6 19 11 19 10 19 7 19 3 18-11 19-12 19-13 19 12 19 11 19-12 18-6 19-13 19-17 19 8 19 30 18 12 19-11 19 0 19 5 19-2 19-9 18 3 19 24 19-1 19-16 19-7 19-8 18 7 19 9 19 5 19-8 19 3 18 10 19-13 19 2 19 30 19 16 19-21 18-21 19 4 19 17 19 11 19 3 19 4 18 2 19 6 19-5 19-7 19 3 18 1 19-7 19 7 19 2 19-11 19 4 18 3 19-8 19-12 19-6 19 3 19 7 18 15 19 5 19 6 19 7 19-13 18-11 19-10 19-12 19 2 19 14 19 4 18-7 19 3 19 9 19 10 19 9 19 2 18-14 19-12 19 1 19-1 19 2 18 12 19 6 19-22 19-15 19 0 19-9 18-8 19-5 19-13 19-1 19 1 19-8 18-1 19 8 19 4 19 1 19 4 18 16 19 7 19-6 19 0 19 6 19 14 18-1 19-3 19 9 19 5 19-2 19-14 18-22 19-9 19 11 19 20 19 7 18-2 19-9 19-7 19 7 19 9 19-5 18-1 19-2 19-12 19 8 19 23 19 0 18-7 19 6 19 12 19-2 19-12 18-5 19-3 19 1 19 1 19-5 19 10 18 20 19 11 19 9 19 4 19-11 19-12 18 11 19 19 19 1 19-5 19-3 18-3 19 1 19-2 19-7 19-6 19-10 18 1 19 17 19 12 19 2 19 1 19-2 18-11 19-18 19-14 19 5 19 6 18 13 19 15 19-3 19 2 19 9 19 2 18-4 19-3 19 2 19-4 19-16 19 3 18 16 19-10 19-14 19 1 19-1 18 0 19 5 19 9 19 9 19 5 19 5 18-9 19 0 19 6 19 3 19 5 19-6 18-3 19 7 19-1 19-11 19-14 18-6 19 4 19 10 19 14 19 5 19 0 18 5 19 0 19 1 19-5 19-7 19-9 18-4 19 11 19 0 19 4 19 20 18 3 19-13 19-14 19-1 19 10 19 5 18-3 19-6 19-2 19-11 19-8 19 10 18 13 19-2 19-10 19 0 19 1 18 9 19 13 19 0 19 9 19 6 19-6 18-8 19-2 19 6 19 5 19 10 19 7 18-8 19-1 19-1 19-6 19-6 18 6 19 11 19 8 19-1 19 4 19 6 18-26 19-25 19 22 19 22 19-4 19 0 18 1 19-4 19 9 19 12 19-7 18-12 19-9 19-1 19 5 19-8 19-6 18 9 19 8 19 7 19 4 19 0 19 0 18 3 19-10 19-8 19 2 19-6 18-2 19-3 19-10 19 8 19 12 19-10 18-13 19-2 19 11 19 3 19-8 19 3 18 22 19 14 19-3 19-2 21 0 4 1011 4 2 4 2 4 3 4 2 4 2 4 3 4 3 4 3 5 3 4 2 4 2 4 3 4 2 4 2 4 3 4 4 5 3 4 3 4 2 4 1 4 1 4 1 4 2 4 1 4 2 5 2 4 1 4 1 4 1 4 1 4 1 4 0 4 3 5 3 4 3 4 2 4 3 4 2 4 3 4 2 4 2 4 2 5 2 4 1 4 2 4 2 4 1 4 2 4 1 4 2 5 1 4 0 4 1 4 0 4 1 4-1 4 0 4 0 4 0 5 0 4 2 4 1 4 1 4 1 4 3 4 2 4 2 5 2 4 2 4 2 2 1 19 5 19 2 19 7 18 6 19 2 19 6 19 6 19 3 19 2 18 2 19 2 19 2 19 1 19 2 18 2 19 3 19 1 19 1 19 0 19 5 18 1 19-1 19 0 19 0 19 7 19 5 18-4 19-1 19 5 19 2 19-6 18-1 19 5 19 1 19-2 19 2 19 1 18-1 19 1 19 5 19 1 19-5 19-2 18 5 19 2 19 0 19 0 19-2 18-5 19-4 19 1 19 8 19 5 19 0 18-3 19-4 19-4 19 2 19 2 19-1 18 0 19 4 19 1 19-4 19-1 18 1 19 1 19-1 19-1 19-1 19-2 18-2 19 0 19 3 19 0 19 3 19 5 18-1 19-3 19 1 19 3 19 3 18 4 19-1 19-3 19 2 19 5 19 2 18-9 19-3 19 2 19-5 19-2 19 0 18 0 19-4 19-2 19 1 19-3 18 2 19 2 19 3 19 2 19-7 19 0 18 11 19 3 19-4 19-2 19-4 19-3 18-3 19-3 19-2 19 0 19 0 18 3 19 7 19 3 19 0 19 2 19 3 18 2 19-1 19 0 19 3 19 2 19-5 18-3 19 0 19-1 19 2 19 3 18 4 19 4 19-4 19-1 19 6 19 0 18-7 19-3 19-4 19-3 19 3 19 6 18-2 19-4 19-2 19 4 19 4 18-3 19-1 19 3 19 2 19 0 19 0 18 0 19 1 19 0 19-5 19-3 19 4 18 3 19 2 19 1 19-1 19-4 18-4 19-1 19 0 19-1 19-1 19 1 18 0 19 0 19 1 19 0 19 5 19 2 18-2 19-1 19-1 19-1 19 0 18 2 19 1 19 2 19-2 19-4 19-1 18 3 19 6 19-2 19-1 19-1 19 0 18 2 19 1 19 0 19 1 19-1 18-4"/>
<path stroke="#0ff" d="M6224 15906l18 0 19-3 19 7 19 6 19-2 18-4 19 1 19 2 19-1 19 1 19 5 18-7 19-3 19-1 19-2 19 1 19-2 18 2 19 2 19 0 7-1 0-9330 4 0 4 3158 4 2636 4 1453 4 801 4 444 4 248 4 138 5 78 4 44 4 28 4 18 4 13 4 9 4 4 4-66 4-64 5-63 4-61 4-57 4-55 4-53 4-52 4-48 4-40 5-38 4-37 4-36 4-39 4-42 4-41 4-40 4-38 4-36 5-35 4-35 4-33 4-32 4-33 4-33 1-4 19-139 18-118 19-102 19-83 19-65 19-70 19-70 18-47 19-30 19-33 19-31 19-18 18-15 19-29 19-19 19-17 19-5 19 4 18-13 19-15 19-4 19-8 19-13 19 1 18 12 19 4 19-21 19-22 19-2 18 10 19 0 19-13 19-3 19 2 19-11 18 1 19 0 19-2 19 10 19 19 19 1 18-20 19-12 19-16 19-6 19 11 18 7 19 5 19 1 19-18 19-7 19 18 18 21 19 5 19-3 19-5 19-11 19 17 18 17 19-9 19 13 19 30 19 3 18-22 19-4 19 11 19 6 19-1 19-5 18 7 19 19 19 12 19 1 19 5 19 21 18 14 19-8 19-12 19-7 19-2 18 0 19-10 19-5 19-5 19-15 19-1 18 24 19 20 19-8 19-7 19 25 19 25 18-6 19-17 19 9 19 20 19 8 18-5 19-2 19 14 19-6 19-27 19-8 18 20 19 5 19-22 19 5 19 36 19 16 18-6 19-23 19-8 19 2 19-11 18-6 19 3 19 8 19 9 19-14 19-10 18 6 19-1 19-11 19-2 19 9 19 9 18 5 19 3 19 1 19-1 19 1 18 4 19 5 19 7 19 7 19-20 19-26 18 5 19 20 19 8 19 9 19 3 19-15 18-15 19-1 19 1 19 7 19 1 18-12 19-7 19 11 19 8 19-7 19-6 18 17 19 23 19-4 19-21 19-21 19 4 18 17 19-5 19-3 19 9 19 3 18-4 19 8 19 9 19-5 19-3 19 5 18 3 19-8 19-7 19 0 19 9 19 20 18 14 19-5 19-17 19 7 19 16 18-1 19-8 19-4 19-7 19-12 19 6 18 13 19 22 19 19 19-3 19 4 19 0 18 4 19 16 19 9 19-13 19-14 18 7 19 10 19-1 19 13 19 22 19-3 18-23 19-9 19-2 19 8 19-6 19-14 18 7 19 11 19 2 19-17 19-3 18 23 19 9 19-1 19-5 19 6 19-5 18-13 19 9 19 15 19 7 19 3 19 7 18 8 19 5 19 3 19-19 19-27 18 3 19 4 19-7 19 7 19 8 19-2 18 8 19 5 19-11 19 0 19 22 19 22 18 3 19 2 19 10 19 16 19-15 18-23 19 17 19 22 19-8 19-25 19-20 18-7 19 1 19 5 19 25 19 13 19 2 18 2 19-4 19 1 19-12 19-4 18 26 19 14 19-13 19 0 19 7 19-4 18 10 19 11 19 3 19 5 19-6 19 0 18 8 19 4 19 11 19 5 19-18 18-25 19-9 19 13 19 13 19-12 19-6 18 5 19-3 19-11 19-5 19-10 19 3 18 21 19 8 19-6 19 6 19 9 18-12 19-16 19-15 19-6 19 1 19-21 18-16 19 14 19 22 19 13 19-3 19 2 18 13 19 3 19 8 19 19 19-3 18-12 19 13 19 4 19-30 19-12 19 20 18 19 19 5 19 6 19 3 19 2 19 0 18-1 19-10 19-5 19 9 19 8 18 21 19 10 19-2 19 19 19 19 19-11 18-14 19 7 19 8 19-6 19-7 19-8 18-11 19 0 19-2 19 9 19 14 18 4 19-4 19 3 19 11 19 1 19-11 18-8 19-1 19 6 19 9 19 2 19 1 18 3 19 4 19 4 19 6 19 7 18-11 19-11 19 17 19 30 19 7 19 1 18 10 19-2 19-13 19 2 19 22 19 17 18-2 19-17 19-3 19-10 19-17 18 16 19 13 19-6 19-2 19 11 19 8 18-7 19 4 19 10 19-9 19-22 19-21 18 1 19 26 19 25 19 1 19-13 18-2 19 6 19-6 19-11 19-10 19-15 18-4 19 4 19 2 19-10 19-12 19 12 18 13 19-9 19-4 19 5 19 5 18 14 19 16 19 10 19-8 19-14 19 11 18 7 19-10 19-6 19-2 19 0 19-5 18-11 19-14 19-17 19-7 19-1 18-3 19-5 19 4 19 10 19 22 19 8 18-13 19 5 19 3 19-7 19 5 19 20 18 7 19 2 19-9 19-1 19 5 18 3 19-4 19-13 19 0 19 15 19 6 18-15 19-9 19 2 19 2 19 9 19 24 18 18 19-11 19-7 19-2 19 15 18 4 19-26 19-4 19 31 19 12 19-9 18-5 19-13 19-4 19-1 19-3 19 10 18 16 19-2 19-5 19 1 19-10 18-10 19-5 19-9 19-3 19 14 19 7 18-9 19-10 19 14 19 10 19 6 19 18 18 0 19-10 19-8 19-5 19 7 18-9 19-26 19 28 19 38 19-8 19-7 18 19 19-1 19-3 19-3 19 4 19 30 18 7 19-25 19-15 19-7 19-9 18 4 19-4 19-10 19-7 19 0 19 17 18 14 19 8 19-10 19-24 19 7 19 26 18 15 19 9 19 11 19 25 19 5 18-11 19-1 19 3 19-7 19-18 19-6 18 7 19 15 19-1 19-39 19-15 19 26 18 17 19 2 19 5 19 16 19 2 18-3 19 14 19 17 19-3 19-15 19-6 18 7 19 12 19-18 19-15 19 17 19 21 18-14 19-27 19-3 19 2 19-5 18 6 19 14 19 8 19 13 19 7 19 2 18 4 19-2 19-4 19-9 19 10 19 21 18 11 19-15 19 10 19 23 19-4 18-9 19 9 19 11 19-11 19-15 19-3 18-14 19-7 19 4 19 4 19 0 19-2 18 3 19-2 19-14 19-1 19 19 18 14 19-20 19-34 19 8 19 21 19-2 18-3 19-6 19 9 19 19 19-2 19-25 18-12 19 9 19 20 19 5 19-13 18-18 19-16 19-10 19 6 19 15 19 20 18 22 19 10 19-16 19-24 19-3 19 6 18 14 19 10 19 5 19-2 21 0 4 1399 4 3 4 2 4 2 4 3 4 2 4 1 4 2 4 1 5 1 4 3 4 4 4 4 4 3 4 4 4 4 4 4 5 4 4 5 4 3 4 4 4 4 4 4 4 4 4 2 4 3 5 3 4 2 4 3 4 2 4 2 4 2 4 1 4 4 5 4 4 4 4 4 4 3 4 3 4 2 4 3 4 3 4 3 5 3 4 2 4 3 4 3 4 2 4 2 4 2 4 2 5 2 4 2 4 1 4 2 4 2 4 0 4-1 4 0 4 0 5 1 4 1 4 1 4 1 4 1 4 2 4 2 4 2 5 2 4 2 4 3 2 1 19 11 19 7 19 1 18 1 19 4 19 9 19 8 19 4 19 4 18 6 19 7 19 4 19-2 19-2 18 4 19 5 19-1 19-2 19 2 19 2 18 3 19 4 19-1 19 3 19 7 19 2 18-5 19-2 19 2 19 7 19 3 18-1 19 2 19-1 19-1 19 2 19 3 18 2 19 3 19 2 19-4 19-6 19-7 18 1 19 6 19 1 19 0 19-1 18-3 19-2 19 2 19 5 19 1 19-4 18-1 19 1 19 1 19 1 19-2 19-1 18-1 19 1 19 5 19 5 19 1 18 1 19-2 19-1 19-1 19 1 19 5 18 3 19 1 19-3 19 2 19 0 19-3 18-2 19-3 19 0 19-1 19-9 18-2 19 4 19 3 19 1 19 2 19 1 18-5 19-3 19 5 19 5 19-1 19-7 18-6 19 0 19 0 19-1 19 2 18 2 19 2 19 5 19 3 19-5 19-4 18-1 19 1 19 2 19 2 19-2 19-2 18-3 19-1 19 3 19 1 19 1 18 1 19 2 19 0 19-2 19-2 19 3 18 1 19-5 19-2 19 1 19 3 19-1 18-4 19 3 19 4 19-1 19-6 18-5 19 5 19 9 19-1 19-5 19-3 18-2 19 3 19 0 19 2 19 3 19 0 18 1 19 2 19-1 19 0 19-2 18-4 19-1 19-2 19 0 19 4 19 2 18-1 19-1 19-4 19 0 19 6 19 4 18-1 19 1 19 1 19 1 19 0 18-1 19 2 19 1 19 2 19-3 19-2 18 3 19-1 19 1 19 1 19-3 19 1 18 3 19 1 19-6 19 0 19 2 18-4 19 2 19 5 19 2 19-2 19-6 18 0 19 6 19-3 19-7 19 0 19 1 18 2 19 1 19-3 19 3 19 6 18-2"/>
<path stroke="#f0f" d="M6224 15909l18-1 19 0 19 0 19-3 19 4 18 1 19-4 19-2 19-2 19 0 19-2 18 0 19 3 19 1 19-1 19 4 19 4 18-5 19-4 19 3 7 2 0-9330 4 0 4 2897 4 2638 4 1456 4 803 4 446 4 249 4 140 5 79 4 45 4 24 4 13 4 7 4 4 4 1 4-120 4-115 5-109 4-104 4-97 4-92 4-88 4-83 4-78 4-70 5-66 4-63 4-60 4-59 4-58 4-55 4-52 4-50 4-49 5-46 4-44 4-42 4-41 4-39 4-38 1-5 19-144 18-99 19-72 19-70 19-83 19-71 19-34 18-11 19-4 19 1 19-4 19-14 18-20 19 1 19 12 19-9 19-18 19-8 18 0 19-14 19-8 19 19 19 18 19 15 18 1 19-11 19 0 19-3 19 2 18 4 19-1 19-1 19-5 19-2 19-11 18-22 19-16 19 5 19 28 19 11 19 6 18 27 19 20 19-10 19-15 19 8 18 18 19 7 19-2 19 1 19 4 19-2 18 1 19 8 19-1 19-9 19-21 19-14 18 4 19 1 19-2 19-4 19-3 18 2 19 8 19 11 19 0 19 0 19 4 18 16 19-2 19-19 19-13 19 11 19 17 18-1 19 0 19 19 19 20 19-3 18-5 19 1 19 12 19 14 19 3 19-7 18-2 19 2 19 9 19 10 19 13 19 10 18 5 19-9 19-13 19-6 19 6 18-5 19 3 19 9 19-5 19-15 19-9 18-4 19-4 19 10 19 7 19-15 19-1 18 15 19 5 19 8 19 0 19-12 18 7 19 7 19-7 19 4 19 13 19 8 18 11 19 1 19-7 19 4 19-1 19-3 18 15 19 28 19 15 19 7 19-8 18-13 19-3 19-10 19-6 19 0 19-8 18 0 19 15 19 14 19-5 19 6 19 16 18 1 19-8 19-5 19 10 19 12 18-11 19-19 19-13 19 1 19 11 19 13 18 6 19 4 19 2 19 0 19 0 19-8 18 3 19 6 19-10 19-18 19-17 18 10 19 35 19 8 19-4 19 16 19 8 18-8 19 1 19 4 19 7 19 16 19 6 18-14 19-19 19 2 19 23 19 13 18 7 19 11 19 8 19-6 19-3 19 15 18 8 19 2 19 3 19 6 19-18 19-4 18 25 19 21 19-2 19-9 19 16 18 9 19-16 19-15 19 3 19-10 19-11 18 6 19 9 19 18 19 14 19 8 19 20 18-3 19-23 19-23 19-10 19 10 18 19 19 9 19-4 19-10 19 12 19 12 18-2 19-8 19-6 19-10 19-4 19 10 18 25 19 33 19 12 19-13 19-23 18-6 19 13 19 11 19 5 19 6 19 3 18-9 19-10 19-6 19 8 19-2 19-6 18 4 19 13 19-5 19-11 19-13 18-1 19 5 19-15 19-8 19-2 19 4 18 16 19 26 19 7 19-7 19-19 19-6 18 8 19 3 19 1 19 7 19-4 18-9 19 9 19 0 19-16 19-14 19 4 18 12 19 2 19-2 19 0 19 8 19 7 18 1 19-3 19-9 19-1 19 17 18 2 19-15 19 2 19 19 19 13 19 13 18 16 19 7 19-16 19-20 19-5 19-1 18 0 19 15 19 3 19-17 19 1 18-4 19-13 19 2 19-6 19 0 19 39 18 26 19-17 19-19 19 16 19 26 19 17 18 5 19-3 19-6 19 2 19-10 18-5 19-2 19-15 19 3 19 21 19 17 18-5 19-20 19 7 19 7 19-12 19-7 18 7 19 13 19-1 19-4 19-3 18-9 19-1 19 22 19 24 19-1 19-2 18 0 19-8 19-2 19 16 19 8 19-15 18-16 19-3 19 5 19 14 19 22 18 3 19-26 19-8 19 20 19 15 19 8 18-25 19-34 19-12 19 16 19 25 19 0 18 4 19 9 19-5 19 0 19 2 18 6 19 27 19 19 19 4 19 10 19 11 18 12 19 6 19 0 19-6 19-3 19 13 18 7 19-16 19-9 19 0 19 1 18-3 19-9 19-11 19-22 19-14 19 20 18 15 19-14 19-14 19 8 19 23 19 9 18 11 19-1 19-18 19-3 19-6 18-18 19-12 19 10 19 20 19 0 19-6 18 0 19-2 19 4 19 7 19 7 19-3 18-3 19 30 19 10 19-13 19-8 18-12 19-15 19-7 19 11 19 26 19 16 18-15 19-21 19-15 19-11 19-1 19 9 18 10 19 25 19 28 19 5 19-3 18 3 19-9 19 3 19 13 19-8 19 2 18-9 19-9 19 11 19 15 19-9 19-27 18 2 19 11 19 9 19 6 19 2 18 19 19 9 19-10 19-3 19 16 19-2 18-9 19 9 19-7 19-16 19-2 19 4 18-9 19 20 19 33 19 3 19-10 18 8 19 7 19 0 19 8 19-7 19-24 18-12 19 5 19 10 19 15 19 12 19 11 18-9 19-25 19-12 19 4 19 31 18 14 19-5 19 7 19 8 19-4 19-15 18 3 19-5 19-22 19-14 19-2 19 14 18 14 19 6 19-6 19-3 19-6 18 3 19 10 19 1 19-6 19-12 19-8 18-12 19-19 19-1 19 6 19 0 19 25 18 22 19-18 19-6 19 16 19 10 18 3 19-16 19 2 19 10 19 4 19 9 18-8 19-2 19 6 19-13 19 7 19 14 18 1 19-9 19-18 19 11 19 16 18-12 19-14 19 10 19 24 19 7 19-20 18 4 19 18 19-5 19 0 19-3 19 8 18 3 19 4 19 3 19-10 19-10 18-1 19 5 19 9 19 4 19 14 19 17 18-12 19-20 19 16 19 30 19-5 19-11 18 17 19 14 19-3 19-1 19-5 18-17 19-5 19 18 19 13 19 2 19-6 18-8 19 11 19 11 19-23 19-11 19 31 18 15 19-1 19 3 19 4 19 5 18-13 19-7 19 8 19-11 19-10 19 18 18 8 19-15 19-5 19 2 19 1 19 3 18-4 19 3 19 17 19-5 19-12 18 2 19-8 19-9 19 13 19 12 19 7 18-3 19-3 19-2 19 6 19 9 19-12 18-14 19 15 19 20 19 9 19-5 18-14 19 4 19 25 19 15 19-7 19-6 18-11 19 2 19-1 19-5 19 11 19-8 18-1 19 13 19 2 19-7 21 0 4 1716 4 5 4 4 4 5 4 4 4 4 4 5 4 4 4 5 5 4 4 2 4 2 4 1 4 2 4 2 4 4 4 4 5 3 4 4 4 5 4 5 4 4 4 5 4 5 4 2 4 2 5 2 4 2 4 4 4 4 4 4 4 4 4 4 4 2 5 3 4 2 4 2 4 3 4 2 4 3 4 2 4 3 4 2 5 3 4 2 4 2 4 2 4 2 4 1 4 2 4 1 5 2 4 2 4 1 4 2 4 2 4 2 4 1 4 2 4 2 5 1 4 0 4 0 4 0 4 0 4 3 4 3 4 3 5 3 4 3 4 5 2 2 19 17 19 10 19 4 18 0 19 3 19 9 19 9 19 3 19 4 18 8 19 4 19 6 19 4 19-3 18-1 19 5 19 5 19 3 19 3 19 4 18 6 19 1 19-3 19 3 19 6 19 2 18-2 19 0 19 0 19-3 19-2 18 7 19 6 19-2 19-5 19-4 19-4 18 1 19 4 19 0 19-2 19 2 19 1 18-4 19 1 19 6 19-2 19-1 18-1 19 1 19 7 19 3 19 1 19-2 18-4 19-1 19 2 19 1 19-3 19 4 18 6 19 1 19-2 19-1 19 3 18 4 19-1 19-4 19 1 19 1 19 0 18 0 19-1 19-5 19-3 19 2 19 4 18 5 19-1 19-1 19 1 19-1 18 0 19-3 19-1 19-2 19-1 19 1 18 0 19 3 19 1 19 3 19 0 19-4 18 2 19 6 19 0 19-6 19-4 18-4 19-3 19 3 19 5 19-2 19-5 18 3 19 7 19 1 19-3 19 0 19 0 18 0 19 0 19 1 19 2 19 0 18 1 19-2 19-1 19 2 19-2 19-5 18-3 19 3 19 3 19 0 19 1 19 0 18 2 19 1 19-4 19-2 19 2 18 0 19-2 19 2 19 5 19-1 19 0 18-4 19-4 19 2 19 1 19-1 19 2 18 2 19-1 19-6 19 0 19 2 18-1 19-2 19-4 19 0 19-2 19-1 18 3 19 1 19 0 19 2 19 6 19 6 18-5 19-6 19 1 19 1 19-2 18-3 19-3 19 0 19-1 19-3 19 2 18 5 19 3 19-1 19 0 19 1 19-3 18 1 19 6 19 1 19-3 19 0 18 1 19 1 19 2 19 1 19-1 19 1 18 0 19 3 19 1 19-2 19-1 19-1 18-1 19 2 19 0 19-4 19-4 18-1"/>
<path stroke="#ff0" d="M6224 15909l18 5 19-1 19 1 19-4 19-2 18 3 19 0 19 0 19 5 19-3 19-7 18 2 19 1 19 3 19-1 19-1 19 0 18-4 19-6 19 4 7 3 0-9330 4 0 4 2604 4 2639 4 1457 4 804 4 442 4 241 4 130 5 70 4 37 4 22 4 12 4 7 4 3 4 2 4-169 4-158 5-148 4-138 4-133 4-126 4-118 4-111 4-102 4-91 5-85 4-79 4-73 4-71 4-67 4-63 4-59 4-54 4-48 5-45 4-42 4-38 4-36 4-34 4-32 1-4 19-131 18-97 19-68 19-69 19-45 19-20 19-19 18-26 19-22 19 13 19 12 19-13 18-12 19-20 19 6 19 12 19 3 19 19 18 6 19 4 19 16 19 8 19-6 19-2 18 8 19-16 19-22 19 1 19 15 18 16 19 20 19 13 19-16 19-11 19 9 18 18 19 10 19-2 19 8 19 18 19-3 18-15 19 15 19 30 19 5 19 0 18-14 19 3 19 35 19 13 19-7 19-10 18-2 19-6 19 3 19 13 19 4 19 8 18 15 19-1 19-9 19 2 19 4 18-14 19-17 19-4 19 10 19 21 19 15 18-6 19-23 19-11 19 9 19 6 19 4 18 10 19-8 19-10 19 8 19 8 18 15 19 26 19 21 19 3 19-6 19 2 18 12 19 0 19-16 19 5 19 28 19 11 18-5 19-6 19 10 19 12 19 3 18 1 19 4 19-2 19 2 19 11 19 10 18-8 19-14 19-3 19 2 19-3 19 3 18 9 19 11 19-4 19-14 19-4 18 13 19 23 19-3 19-26 19 4 19 33 18 7 19-6 19 14 19 16 19 1 19-20 18-9 19 18 19 11 19-22 19-21 18-5 19 17 19 24 19 0 19 7 19 7 18-14 19-15 19-3 19 7 19 3 19 1 18 14 19 4 19-12 19-6 19-5 18-5 19-5 19-11 19-10 19 5 19 27 18 17 19 15 19 12 19 0 19 1 19-16 18-10 19 3 19 5 19 14 19 9 18-2 19-8 19-12 19 6 19 26 19 11 18-12 19-14 19-17 19-6 19 16 19 19 18-4 19-10 19 10 19 9 19 0 18 5 19-8 19-3 19 14 19 8 19 2 18 8 19-1 19-4 19 3 19 5 19 10 18 22 19 5 19-10 19 0 19 9 18 8 19-9 19-12 19-15 19-13 19 22 18 33 19 1 19 1 19-1 19 10 19 15 18 12 19 0 19-13 19 4 19 7 18-9 19-6 19-4 19-13 19 1 19 11 18 11 19 9 19 11 19 8 19-17 19-16 18 15 19 18 19 18 19 6 19-8 18 10 19 7 19-13 19 7 19 27 19-18 18-37 19 10 19 28 19 17 19 19 19 5 18-14 19 7 19 12 19 2 19 8 18 5 19-13 19-8 19 4 19-16 19 14 18 43 19 6 19-23 19-12 19 2 19 8 18 0 19-2 19 19 19 3 19-13 18 7 19 8 19-3 19 6 19 5 19 6 18 18 19-2 19-17 19 11 19 15 19-2 18 11 19 17 19 0 19-11 19 0 18 3 19-21 19-23 19 1 19 10 19 14 18-1 19-3 19 10 19-4 19-13 19-1 18 8 19 17 19 4 19-3 19-11 18-10 19 12 19 11 19 7 19 18 19 1 18-19 19 0 19 5 19-3 19 2 19 16 18 9 19 2 19 2 19-10 19-3 18-9 19-14 19 1 19-5 19-14 19 9 18 23 19 9 19 8 19-3 19-22 19-7 18 30 19 23 19 6 19-6 19-15 18-12 19-6 19 9 19 17 19 6 19-15 18-6 19 12 19-4 19-12 19 10 19 18 18 2 19-4 19 4 19 0 19-11 18-6 19 7 19 12 19 2 19-7 19-2 18 19 19 18 19-16 19-13 19 5 19-12 18-24 19 11 19 28 19 11 19-7 18-21 19-5 19 14 19 14 19 7 19-6 18-1 19 11 19 7 19-1 19 3 19-5 18-12 19-15 19-5 19 8 19 29 18 18 19 12 19 2 19-12 19 19 19 15 18-19 19-20 19 7 19 8 19-17 19-15 18 20 19 24 19-12 19-10 19 8 18 1 19-18 19-5 19 16 19 25 19 8 18 14 19 24 19 1 19-23 19-20 19-1 18-9 19-17 19 3 19 18 19 10 18 17 19 16 19-3 19-18 19-7 19 14 18 17 19 3 19 10 19 5 19-12 19-7 18 4 19-9 19-28 19-9 19 24 18 18 19 8 19-2 19-15 19-9 19 15 18 17 19 3 19 7 19 18 19 1 19-8 18-8 19-5 19 1 19 5 19-9 18-8 19 12 19 5 19 8 19 19 19-14 18-24 19 12 19 25 19 10 19 0 19 0 18 10 19 19 19 1 19-16 19-18 18-1 19 18 19 11 19 7 19 10 19-10 18-16 19 22 19 21 19-11 19-20 19-13 18-6 19 9 19 17 19 14 19-5 18-17 19-3 19 6 19 7 19-9 19-13 18 7 19 7 19 19 19 14 19-1 19-3 18-14 19 11 19 35 19 12 19-25 18-18 19 2 19 9 19 7 19 10 19 7 18 7 19 12 19 21 19 16 19-18 19-32 18-2 19 26 19-5 19-37 19-28 18 1 19 10 19 8 19 11 19 11 19-14 18-17 19 8 19 17 19 11 19 15 19 6 18-2 19 8 19 7 19-2 19-4 18-6 19 1 19 1 19 8 19 4 19-5 18 10 19 3 19-6 19 9 19 9 19 8 18-5 19-12 19-1 19-11 19-14 18 4 19 9 19-4 19 1 19 9 19-1 18-9 19-2 19-12 19-14 19 19 19 13 18-12 19-8 19 1 19 22 19 7 18-26 19 3 19 28 19 1 19-15 19-8 18 8 19 16 19-6 19-10 19 14 19 12 18-22 19-28 19 3 19 9 19-9 18-19 19 14 19 23 19 0 19-3 19-3 18-2 19 14 19 11 19 3 19 1 19-2 18-6 19-8 19 8 19 2 19-18 18-12 19 4 19 16 19 14 19 5 19-2 18 11 19 15 19 15 19 12 19-6 19-16 18 4 19 3 19 2 19 5 19-11 18-10 19 11 19 18 19 11 19 9 19-4 18-13 19-10 19 6 19 18 19 0 19-8 18 8 19 16 19 3 19-8 21 0 4 2032 4 2 4 3 4 2 4 2 4 4 4 4 4 5 4 4 5 4 4 5 4 4 4 4 4 4 4 5 4 4 4 5 5 4 4 5 4 3 4 4 4 3 4 3 4 3 4 1 4 1 5 1 4 2 4 2 4 4 4 3 4 4 4 3 4 2 5 2 4 2 4 1 4 2 4 2 4 1 4 2 4 1 4 2 5 2 4 2 4 3 4 2 4 2 4 2 4 2 4 3 5 0 4 1 4 0 4 1 4 0 4 3 4 2 4 2 4 3 5 2 4 2 4 2 4 2 4 2 4-1 4 0 4-1 5 0 4 0 4 1 2 1 19 6 19 8 19 12 18 6 19 2 19 7 19 9 19 6 19 6 18 5 19 2 19 1 19-2 19-4 18 3 19 5 19 7 19 5 19-1 19-4 18 0 19 5 19 3 19 0 19 4 19 4 18 1 19-1 19 0 19-1 19 2 18 1 19 3 19 2 19 0 19 0 19 2 18-1 19-3 19 2 19 2 19 0 19 0 18 2 19 3 19-1 19-2 19 4 18 5 19 1 19-3 19-5 19-1 19 1 18-3 19-2 19 0 19 3 19 4 19 1 18-2 19 0 19 3 19 1 19 0 18 0 19 2 19-2 19-3 19-4 19-1 18 2 19-1 19-1 19 0 19 2 19 5 18 1 19-2 19 0 19 3 19 3 18 1 19-1 19-1 19-2 19-1 19 1 18 4 19 7 19 1 19-2 19-2 19 0 18 1 19-1 19-2 19-2 19-3 18 2 19-2 19-5 19-3 19-1 19 1 18 0 19 7 19 6 19 1 19-1 19-3 18 1 19 3 19-3 19-3 19-3 18-2 19 4 19 1 19-2 19-2 19-2 18 3 19 4 19-2 19-2 19 3 19-2 18 2 19 6 19 1 19-1 19 3 18 5 19 0 19-6 19-5 19-2 19-2 18 0 19 3 19 2 19-1 19-3 19-4 18 2 19 4 19-4 19-10 19-1 18 6 19 5 19 2 19 3 19-2 19-2 18 2 19 3 19-3 19-4 19-2 19 1 18 3 19 0 19 0 19 0 19-1 18-2 19-7 19-6 19-4 19 2 19 8 18 4 19 0 19 1 19 2 19 0 19-1 18 2 19 0 19-3 19 3 19 6 18-1 19-3 19-2 19 3 19 0 19-3 18 2 19 0 19-2 19 0 19-2 19 1 18 3 19-3 19-2 19 3 19 5 18 2"/>
<path stroke="#808000" d="M6224 15910l18 5 19 0 19-5 19 2 19 2 18-5 19-8 19 3 19 0 19-2 19-2 18 5 19 9 19-2 19-4 19 1 19-2 18 1 19-2 19-1 7 2 0-9330 4 0 4 2236 4 2639 4 1456 4 803 4 445 4 246 4 137 5 76 4 42 4 22 4 10 4 5 4-243 4-226 4-206 4-187 5-171 4-157 4-144 4-132 4-120 4-110 4-100 4-91 5-83 4-75 4-69 4-60 4-53 4-48 4-43 4-39 4-40 5-37 4-33 4-31 4-27 4-25 4-22 1-3 19-63 18-56 19-46 19-12 19 0 19-1 19-5 18-18 19-20 19-15 19-6 19 16 18 26 19 13 19-4 19 7 19 13 19-8 18-4 19 13 19 22 19 27 19 8 19-6 18-4 19 13 19 18 19 6 19-11 18-14 19-1 19 18 19 27 19 20 19-10 18-13 19 11 19 18 19 10 19 17 19 6 18-12 19 18 19 30 19 5 19-4 18-5 19 2 19 5 19 3 19 5 19 10 18 7 19 1 19 4 19 4 19 7 19 13 18 15 19 7 19 2 19 3 19 0 18-10 19 0 19 25 19 15 19-6 19-5 18 5 19 2 19 6 19 14 19 7 19 0 18 9 19 10 19-4 19-22 19-11 18 0 19-8 19 6 19 18 19 1 19 2 18 11 19 9 19 2 19-3 19 4 19 5 18-7 19-1 19 0 19-6 19 10 18 12 19-2 19 3 19 13 19 12 19 2 18-2 19-21 19-6 19 19 19 7 19 4 18 3 19-1 19 17 19 8 19-3 18 8 19 0 19-5 19 11 19-6 19-20 18-5 19 29 19 31 19-16 19-30 19-1 18 20 19 14 19-8 19 11 19 17 18-2 19-5 19-5 19-4 19-6 19-4 18 11 19 9 19 5 19 11 19 11 19 10 18-4 19-12 19-4 19-1 19 15 18 8 19-10 19-10 19 7 19 17 19 1 18-13 19-11 19 18 19 14 19 6 19 26 18 3 19 3 19 4 19-8 19-11 18-12 19-8 19 8 19 16 19-6 19-17 18 22 19 20 19-12 19-6 19 1 19 8 18 16 19 10 19-4 19 3 19 5 18 2 19-1 19-8 19-11 19-5 19-3 18 8 19 7 19 1 19-15 19-20 19 15 18 28 19 5 19-7 19 9 19 10 18 5 19 0 19 15 19 22 19-7 19 0 18 11 19 4 19 7 19 14 19 6 19-3 18-13 19-12 19 3 19-2 19 0 18-2 19-2 19 7 19 2 19 4 19 8 18 6 19 14 19 17 19 9 19 7 19 16 18 13 19-9 19-5 19 4 19-12 18 1 19 11 19 7 19 2 19-2 19-2 18 6 19 2 19 3 19 8 19-12 19-16 18-1 19-2 19-12 19-5 19 13 18 5 19-13 19-2 19-4 19-11 19-2 18 8 19 14 19 6 19-3 19-6 19-1 18 13 19 14 19-5 19-4 19 0 18 0 19 8 19 8 19-1 19 4 19 13 18-16 19-12 19 0 19-15 19 10 19 6 18-3 19-1 19-10 19-8 19 5 18 14 19 4 19 6 19 1 19-11 19-2 18 8 19 6 19 16 19 18 19-7 19-12 18 3 19-3 19-2 19 16 19 7 18-18 19-19 19 8 19 17 19-5 19 9 18 23 19 0 19-21 19-17 19-8 19 10 18 16 19-6 19-8 19 2 19 6 18-10 19-30 19-6 19 26 19 13 19 5 18 3 19-6 19 0 19-22 19-29 19-3 18 25 19 27 19 16 19 12 19 0 18-9 19-1 19 22 19 11 19-7 19 6 18 9 19 15 19 3 19 2 19 4 19-7 18-13 19-14 19-3 19 16 19 9 18-5 19 16 19-3 19-14 19 0 19 22 18 6 19-8 19-5 19 4 19 0 19-5 18 3 19 0 19-7 19 4 19 12 18-3 19 1 19 18 19 1 19-2 19 25 18 25 19-2 19 7 19 1 19 1 19 5 18-16 19-5 19 14 19 1 19-7 18 4 19 5 19 8 19 1 19-13 19 5 18 18 19 5 19 7 19 4 19-10 19 1 18 10 19 5 19 5 19 9 19 2 18-3 19-13 19-1 19 16 19-7 19-13 18 3 19 4 19 2 19 9 19 10 19 5 18 11 19 16 19 4 19-10 19 1 18-4 19-8 19-8 19-6 19-3 19 10 18 15 19 12 19 0 19-1 19 1 19-4 18-5 19 4 19 4 19-7 19 5 18 12 19-5 19-11 19 1 19 11 19 14 18 12 19-7 19-15 19-2 19 1 19-4 18 2 19-11 19-5 19 8 19 3 18 4 19 24 19 19 19-7 19-3 19 2 18-2 19 12 19 13 19-3 19-15 19-7 18 4 19 2 19-6 19 1 19 12 18-3 19-10 19-8 19-8 19 11 19 7 18-9 19-7 19-8 19-4 19 3 19 5 18 11 19 8 19-8 19 10 19 14 18-2 19-10 19-12 19 3 19 0 19-8 18 10 19 32 19 13 19-12 19 6 19 33 18 1 19 0 19 18 19-10 19-23 18-6 19 1 19 5 19 8 19-4 19-4 18 13 19 17 19 7 19-13 19-10 19 25 18 20 19-28 19-19 19 1 19 1 18 6 19 1 19-20 19-6 19 10 19-5 18-9 19-7 19-8 19 14 19 23 19-1 18 10 19 24 19 13 19 3 19-6 18 2 19 10 19 1 19-5 19-7 19-2 18 15 19 19 19 19 19 18 19 2 19-1 18-14 19-24 19-1 19-2 19-13 18-12 19-5 19 12 19 4 19-15 19-3 18 20 19 19 19 17 19 6 19-4 19 20 18 9 19 11 19 5 19-16 19-2 18-3 19 4 19 16 19 15 19 12 19-13 18-21 19-13 19-1 19 2 19 6 19 0 18-1 19 11 19 15 19-8 19-16 18 11 19 10 19 6 19-9 19-13 19 14 18-2 19-4 19 18 19 2 19-17 19 4 18 13 19 3 19 5 19 4 19-8 18-11 19-1 19 9 19 1 19-2 19-5 18 0 19 30 19 17 19-8 19-19 19 6 18 24 19-1 19-15 19-1 19 9 18 4 19 4 19 14 19-5 19-17 19-1 18 16 19 16 19 5 19 1 19 1 19 8 18 15 19 5 19-10 19-12 21 0 4 2359 4 3 4 3 4 4 4 3 4 3 4 4 4 3 4 3 5 3 4 4 4 3 4 3 4 3 4 3 4 2 4 2 5 1 4 2 4 2 4 1 4 1 4 2 4 1 4 3 4 4 5 3 4 3 4 3 4 3 4 3 4 3 4 3 4 2 5 3 4 3 4 2 4 3 4 5 4 4 4 4 4 4 4 2 5 3 4 2 4 2 4 2 4-1 4 0 4-1 4 0 5 2 4 3 4 3 4 4 4 3 4 3 4 2 4 3 4 3 5 1 4 1 4 0 4 0 4 0 4 1 4 1 4 1 5 1 4 1 4 3 2 2 19 10 19 5 19 4 18 1 19 1 19 4 19 7 19 4 19-1 18 1 19 3 19 4 19 2 19 1 18 2 19 2 19 4 19 7 19-3 19-5 18 2 19 0 19 1 19 3 19 0 19 2 18 5 19 2 19 0 19 1 19 1 18 0 19 0 19 3 19 4 19 2 19-3 18 1 19 5 19 4 19-1 19 0 19 0 18 1 19 1 19-3 19-6 19-7 18 3 19 11 19 5 19-3 19-3 19-1 18-2 19-2 19 2 19-1 19 2 19 3 18 1 19-3 19-7 19-2 19 4 18 5 19 1 19 3 19-1 19-2 19 3 18 1 19 0 19 3 19 0 19 0 19-1 18-7 19 0 19 1 19 2 19 2 18-4 19-3 19-2 19-3 19 2 19 7 18 2 19-4 19-3 19-2 19-4 19 0 18 6 19 5 19-1 19-1 19 4 18 3 19-4 19-6 19-1 19-2 19-1 18 1 19 2 19-4 19-5 19 1 19 4 18 1 19-1 19 2 19 3 19 0 18 2 19 4 19 0 19 1 19-2 19-5 18-2 19-2 19 2 19 1 19 3 19 4 18-1 19-4 19-7 19-5 19 0 18 5 19 3 19-1 19 0 19 5 19 6 18 3 19 1 19-4 19-3 19-2 19 2 18 3 19 1 19 0 19-1 19-1 18 0 19-4 19-5 19 4 19 7 19 0 18-1 19 4 19 3 19-1 19-5 19-5 18-1 19 0 19-1 19-1 19 0 18 5 19 8 19 4 19-4 19-8 19-3 18 3 19 0 19-3 19 2 19 1 19-1 18 2 19 0 19-6 19 1 19 4 18 2 19-1 19-5 19-5 19 0 19 4 18 0 19 1 19 4 19 4 19 1 19-2 18-3 19-2 19 3 19 2 19-6 18 1"/>
<path stroke="#000080" d="M6224 15914l18-4 19-6 19 2 19 5 19-1 18-1 19 5 19-4 19-9 19-4 19 5 18 3 19 4 19-1 19 3 19-2 19-1 18-4 19-1 19 1 7 3 0-9330 4 0 4 1734 4 2637 4 1455 4 801 4 445 4 250 4 139 5 80 4 45 4 26 4 16 4-322 4-293 4-260 4-235 4-207 5-183 4-162 4-141 4-124 4-109 4-97 4-85 4-77 5-69 4-61 4-54 4-45 4-36 4-32 4-28 4-24 4-17 5-14 4-11 4-9 4-10 4-12 4-11 1-2 19-35 18-18 19-12 19 4 19 10 19-10 19-6 18 18 19 13 19-5 19-1 19 10 18 21 19 18 19-3 19-5 19 24 19 6 18-12 19 7 19 5 19 2 19-6 19 2 18 22 19 31 19 28 19 10 19 8 18 13 19 19 19 12 19 2 19 5 19 2 18 5 19 13 19 13 19-5 19 13 19 7 18-14 19-12 19 14 19 27 19 3 18-12 19-7 19-11 19-6 19 8 19 4 18 12 19 16 19 5 19-5 19 9 19 5 18 0 19 10 19 7 19 7 19 17 18 19 19 0 19-10 19 8 19-3 19-9 18 7 19-1 19-8 19 7 19 10 19 8 18-7 19-18 19 4 19 22 19 7 18 4 19 18 19 4 19-6 19 11 19 3 18 2 19 12 19-2 19-20 19-1 19 27 18 11 19-15 19-3 19 18 19 11 18-8 19 2 19 20 19 14 19 10 19 0 18-1 19 7 19 4 19 4 19 0 19-14 18-6 19 16 19 12 19 8 19 11 18 2 19 10 19-14 19-16 19 19 19 0 18-12 19 13 19 7 19-1 19 3 19-10 18 7 19 8 19 6 19 33 19 23 18 6 19 10 19 11 19 5 19 12 19-8 18-28 19 4 19 25 19 13 19 1 19-9 18-3 19 6 19-20 19-25 19 2 18 13 19 6 19 10 19 1 19-9 19 5 18 26 19 14 19 0 19 10 19 1 19 7 18 13 19-15 19-24 19 1 19-4 18 7 19 5 19-7 19 10 19 6 19-8 18-7 19 12 19 10 19 5 19 6 19 1 18 3 19 2 19-8 19-9 19-6 18-8 19 2 19 10 19 19 19 24 19 21 18 9 19-28 19-29 19 0 19 5 19-13 18-5 19 17 19 15 19 1 19-9 18 5 19 19 19 25 19 10 19-9 19-1 18 13 19 9 19 2 19 8 19 3 19-5 18 4 19 6 19 20 19 32 19 19 18 2 19 5 19-3 19-16 19 1 19 10 18-2 19-2 19 5 19 11 19-3 19-23 18-14 19-5 19 6 19 21 19 3 18-10 19-7 19 11 19 14 19 17 19 28 18 19 19-15 19-14 19 11 19 8 19 3 18-9 19-20 19 4 19 31 19 15 18-9 19-12 19-9 19 22 19 32 19 12 18-3 19-2 19 12 19 0 19-11 19-13 18 12 19 31 19 7 19-19 19-7 18 15 19 5 19-3 19 7 19 2 19-21 18 2 19 12 19-5 19-1 19-6 19 4 18 22 19 10 19 0 19-4 19-3 18 0 19-3 19 0 19-1 19 4 19 15 18 13 19-1 19-5 19-1 19 5 19-6 18-18 19 9 19 18 19-17 19-11 18 13 19 13 19 20 19 4 19-13 19 0 18 2 19-5 19 6 19 21 19 22 19-10 18-14 19 5 19 11 19 17 19 13 18-5 19-12 19-16 19-3 19 4 19 7 18-2 19-4 19 5 19-2 19 7 19 22 18 17 19 1 19-3 19 1 19 15 18 9 19-22 19-19 19-12 19 4 19 2 18-6 19 9 19 14 19-8 19-23 19 7 18 22 19-13 19-15 19 14 19 17 18 4 19-11 19-8 19 15 19 30 19 14 18 7 19 12 19 8 19-4 19 4 19-2 18-27 19-5 19 6 19 6 19 16 18 9 19 0 19-4 19 5 19-7 19-15 18 0 19-1 19-15 19-26 19 1 19 8 18 2 19 13 19 5 19 8 19 10 18-9 19-20 19-3 19 12 19 8 19-6 18-6 19 1 19 8 19 17 19 5 19-15 18-8 19 1 19 1 19 23 19 35 18 12 19-4 19 4 19-8 19-5 19 9 18-6 19-4 19 12 19 20 19 15 19-3 18-13 19-15 19-9 19-10 19 7 18 19 19 12 19 9 19 1 19-7 19-12 18-24 19-4 19 18 19-4 19-14 19 1 18 13 19 8 19 13 19 16 19 15 18-5 19-16 19-7 19-6 19-8 19-1 18 3 19-8 19-7 19 13 19 26 19-4 18-30 19 3 19 24 19 10 19-1 18-5 19-2 19 10 19 14 19-4 19-8 18 24 19 14 19-8 19-13 19-2 19 10 18-1 19-7 19-11 19-2 19 11 18 9 19 16 19 0 19-22 19-5 19 13 18 1 19 5 19-5 19-10 19 24 19 21 18-7 19-10 19 0 19 22 19 21 18-5 19-19 19-9 19 13 19 6 19-7 18-1 19 7 19-6 19-3 19 1 19-6 18 13 19 29 19 2 19-11 19-2 18 8 19 13 19 13 19 4 19-9 19 7 18 1 19-8 19 8 19 15 19 5 19 7 18 10 19-7 19 6 19 13 19 3 18-2 19 6 19 27 19 10 19-17 19-6 18-7 19-15 19-5 19-4 19-1 19 10 18 13 19 10 19 0 19 0 19 13 18 3 19-10 19-10 19-6 19 2 19 8 18-4 19-9 19 3 19 5 19-1 19-12 18 21 19 34 19-1 19-16 19 2 18 14 19 8 19-10 19-12 19 8 19 18 18 3 19-11 19-3 19 3 19 7 19 0 18-9 19 10 19 2 19-11 19-10 18-6 19 10 19 14 19 17 19 12 19-6 18 10 19 16 19 1 19 0 19-8 19-15 18-6 19 12 19 7 19-4 19 5 18 13 19 5 19 10 19 5 19-12 19-10 18-11 19-10 19-2 19 2 19 5 19-4 18-6 19 13 19 7 19-10 19 10 18 14 19 1 19 1 19-3 19-2 19-1 18-10 19-20 19-14 19 10 19 27 19 20 18-9 19-15 19-1 19 6 19 7 18 9 19 2 19-14 19-3 19 23 19 24 18-1 19-16 19 7 19 12 19-12 19 8 18 16 19-14 19-26 19-11 21 0 4 2655 4 3 4 3 4 3 4 3 4 3 4 2 4 2 4 1 5 2 4 3 4 3 4 3 4 3 4 4 4 4 4 5 5 4 4 5 4 2 4 2 4 2 4 2 4 1 4 0 4 1 5 0 4 1 4 1 4 1 4 1 4 1 4 0 4 3 5 2 4 2 4 3 4 2 4 3 4 3 4 2 4 3 4 1 5 1 4 2 4 1 4 1 4 1 4 2 4 1 4 2 5 1 4 2 4 2 4 2 4 2 4 1 4 2 4 1 4 1 5 1 4 1 4 2 4 1 4 1 4 0 4 0 4 0 5 0 4 0 4 1 2 0 19 1 19 5 19 10 18 5 19 4 19 5 19 1 19 5 19 5 18 2 19 1 19 1 19 3 19 2 18-1 19 1 19 4 19 6 19 1 19-5 18-4 19 1 19 3 19 2 19 2 19 0 18-1 19 2 19 4 19 2 19 1 18 1 19 3 19 0 19-1 19 1 19 2 18 1 19-2 19 0 19 4 19 0 19-3 18-1 19 2 19-1 19 3 19 7 18 3 19-6 19-7 19 4 19 7 19-1 18-1 19 1 19 0 19 1 19 2 19-3 18-1 19 1 19-1 19-2 19 0 18-1 19-2 19-1 19 1 19 3 19 2 18 1 19 3 19-2 19-3 19 2 19 1 18-1 19 1 19 1 19-2 19 0 18 3 19 3 19-1 19-4 19-1 19-1 18-1 19-3 19 0 19 1 19 2 19 3 18-2 19-5 19 1 19 3 19-2 18-2 19-1 19-1 19 9 19 4 19-3 18-2 19 0 19-1 19-2 19 5 19 1 18-7 19-2 19 6 19 1 19-3 18 3 19 2 19 0 19 4 19 6 19-2 18-2 19 0 19-1 19-3 19-4 19-3 18 0 19 1 19 1 19 1 19 0 18 1 19 1 19 2 19 3 19-3 19-2 18 3 19 2 19-1 19 0 19-3 19-1 18-2 19-1 19 3 19 2 19-1 18-2 19-3 19 0 19 3 19 1 19-4 18 0 19 5 19 4 19-3 19-8 19-3 18 4 19 5 19 1 19 1 19 0 18-1 19-1 19-2 19-2 19 0 19 0 18 1 19 0 19-2 19 0 19 0 19 1 18 4 19 4 19 0 19-1 19-2 18-9 19-4 19 4 19 6 19 0 19-4 18-3 19 5 19 4 19 0 19 2 19 1 18-3 19 0 19 7 19-1 19-6 18-2"/>
<path stroke="#800080" d="M6224 15906l18 5 19-1 19-6 19 1 19 3 18 7 19-6 19-7 19 2 19 0 19-7 18 3 19 0 19 7 19 1 19-3 19 4 18 3 19-1 19 2 7-6 0-9330 4 0 4 1435 4 2633 4 1450 4 798 4 439 4 244 4 134 5 73 4 40 4 29 4-361 4-327 4-284 4-249 4-220 4-191 5-166 4-143 4-123 4-105 4-91 4-79 4-68 4-60 5-51 4-45 4-39 4-34 4-30 4-26 4-22 4-20 4-15 5-12 4-11 4-9 4-5 4 0 4 1 1 0 19-1 18-20 19-23 19-11 19 9 19 13 19 8 18 10 19 4 19 6 19 18 19 13 18 4 19 5 19 11 19 3 19-2 19-1 18 6 19 17 19 18 19-5 19 8 19 34 18 26 19-4 19-9 19 8 19 4 18-2 19-7 19-6 19 1 19 20 19 28 18 8 19-2 19 11 19 19 19 14 19 16 18 7 19 6 19 25 19 9 19-20 18 4 19 6 19 3 19 5 19-4 19-3 18 0 19 6 19 13 19 10 19 18 19 21 18 9 19 6 19 0 19-6 19-4 18 5 19 14 19 19 19 19 19 2 19 9 18-2 19-5 19 17 19 17 19 16 19 2 18-13 19-9 19-2 19 16 19 14 18 6 19 15 19 8 19-19 19-12 19 13 18 13 19 4 19 0 19-21 19-23 19 14 18 30 19 14 19 1 19-5 19 3 18-5 19 4 19 9 19 13 19 26 19 11 18-3 19-7 19-12 19 5 19 20 19 13 18-1 19 6 19 2 19-13 19-6 18 14 19 4 19-5 19 8 19 19 19 13 18 3 19-7 19-10 19 5 19-4 19-15 18-3 19 2 19-9 19 4 19 14 18-4 19-13 19 12 19 22 19 6 19-9 18-3 19 4 19 12 19 7 19 1 19-1 18-9 19 6 19 27 19 15 19-9 18-12 19-17 19-2 19 11 19 18 19 20 18 23 19 16 19 6 19 6 19-2 19 3 18 10 19 17 19 12 19-6 19-5 18 5 19-1 19-10 19 4 19 13 19 1 18-8 19 4 19 5 19-7 19 1 19 9 18 4 19 13 19 9 19-3 19-4 18-1 19 15 19 12 19 12 19 32 19 17 18-18 19-17 19-2 19 4 19 8 19 15 18 12 19-6 19-5 19 11 19 14 18 6 19 4 19 1 19-10 19-15 19-9 18 17 19 19 19-4 19-4 19 10 19 10 18-6 19-7 19-9 19-10 19 3 18 17 19 15 19 9 19 20 19 15 19-15 18-18 19-4 19 4 19 10 19 7 19-21 18-17 19-2 19 2 19 10 19 3 18-4 19 7 19 17 19-1 19-7 19 10 18 9 19-7 19-5 19 13 19 23 19 19 18-1 19-6 19 4 19-5 19-17 18-4 19-8 19-1 19 26 19 14 19-9 18-6 19-3 19-6 19-3 19 2 19 4 18-8 19-13 19-2 19 5 19 10 18 17 19 9 19-2 19-4 19 6 19 21 18 15 19-9 19-21 19 6 19 7 19 8 18 16 19 9 19-5 19 1 19 12 18-3 19 3 19 10 19 9 19 3 19-9 18-10 19-3 19 1 19 0 19-5 19-9 18 4 19 27 19 9 19-6 19 6 18-15 19-6 19 6 19 7 19-2 19-3 18 16 19 11 19 0 19-5 19 1 19 10 18 2 19 5 19 12 19 3 19-2 18 6 19 13 19 9 19-2 19 2 19 4 18-17 19-9 19 7 19-4 19 7 19 19 18 0 19-2 19 13 19 9 19-16 18 6 19 24 19 1 19-9 19-2 19 9 18 3 19 4 19 17 19 3 19-5 19 0 18 5 19 4 19-10 19-5 19 26 18 11 19-18 19-15 19 4 19 8 19 7 18 4 19 8 19-2 19-5 19 2 19-20 18-19 19 13 19 14 19-9 19-8 18-12 19 4 19 13 19 1 19 14 19 22 18-1 19-22 19-22 19-3 19 11 19 11 18 23 19 18 19 1 19 4 19 14 18 4 19-27 19-6 19 32 19 28 19 6 18-22 19-6 19 24 19 10 19-6 19-2 18-16 19-6 19 9 19-5 19-13 18 4 19 10 19 1 19 6 19 10 19 9 18 7 19 4 19-2 19 11 19 8 19-2 18 1 19-6 19 0 19-6 19-4 18 7 19-2 19 7 19 21 19 14 19-4 18-2 19 2 19-7 19 9 19 26 19-3 18-8 19 20 19 15 19-1 19-4 18-2 19-8 19 12 19 18 19 4 19-8 18-4 19 2 19 1 19-4 19-16 19-9 18 9 19 6 19-7 19-8 19 6 18 11 19 18 19 12 19 6 19 11 19-1 18-1 19-9 19-36 19-21 19 4 19 16 18 21 19 0 19-8 19 12 19 5 18-14 19-3 19 23 19 18 19 9 19 9 18-5 19-3 19 9 19 5 19 4 19-4 18-26 19-12 19-2 19-13 19-7 18 1 19 5 19-2 19-1 19 3 19 1 18 3 19 4 19 18 19 7 19 0 19 8 18 2 19 4 19 4 19-15 19-17 18 6 19 2 19 9 19 12 19 14 19 7 18-27 19-23 19 11 19 29 19 24 19-1 18-3 19 7 19-3 19-19 19-16 18 6 19 20 19 23 19 17 19 11 19 9 18-4 19-23 19-11 19 0 19 13 19 20 18-13 19-19 19 0 19-1 19-2 18-4 19 0 19-13 19 9 19 33 19 12 18-4 19-4 19-1 19-6 19 0 19 2 18-10 19-8 19 14 19 19 19 18 18 1 19-11 19 12 19 9 19-5 19 0 18 15 19 12 19-7 19-5 19 24 19 14 18-4 19-2 19-3 19 2 19-7 18-13 19-25 19-13 19 13 19 12 19 9 18-4 19-13 19 17 19 18 19 3 19-7 18 7 19 22 19 12 19 3 19 0 18-10 19-23 19-9 19 20 19 19 19 1 18-1 19-5 19-8 19-4 19-4 19-13 18 3 19 26 19 2 19 0 19 15 18-4 19-7 19 11 19 0 19-6 19 4 18 11 19 4 19 0 19 5 19-1 19 4 18 5 19 0 19 5 19 3 19 5 18 10 19 9 19-6 19-9 19 15 19 17 18-5 19-8 19 7 19 3 19-7 19-8 18 4 19 15 19-5 19-13 21 0 4 2933 4 2 4 3 4 2 4 2 4 3 4 2 4 3 4 2 5 3 4 2 4 3 4 3 4 2 4 2 4 1 4 1 5 1 4 1 4 3 4 3 4 4 4 4 4 3 4 1 4 1 5 2 4 1 4 1 4 1 4 2 4 1 4 1 4 2 5 2 4 3 4 2 4 1 4 1 4 1 4 1 4 1 4 1 5 2 4 1 4 2 4 1 4 2 4 1 4 2 4 2 5 2 4 2 4 2 4 3 4 2 4 1 4 2 4 1 4 1 5 1 4 0 4 0 4 1 4 0 4 1 4 1 4 1 5 1 4 1 4 0 2 0 19 4 19 4 19 7 18 5 19 2 19 2 19 6 19 3 19-3 18-2 19 3 19 2 19-3 19 0 18 9 19 6 19-3 19-1 19 2 19 5 18 6 19 2 19 2 19 1 19-1 19 1 18 3 19 1 19-1 19-4 19-3 18-2 19 2 19 2 19 1 19 3 19 3 18 2 19-2 19-4 19 0 19-2 19 0 18 4 19 2 19 1 19 1 19-2 18-3 19-1 19 2 19-2 19-3 19 1 18 0 19 3 19 2 19-5 19-2 19 8 18 7 19-1 19-3 19 2 19 5 18 1 19-10 19-7 19 5 19 5 19 0 18-1 19 2 19 2 19-2 19 0 19 2 18 0 19 2 19 1 19-5 19-8 18-4 19 2 19 5 19 1 19-3 19 2 18 1 19-2 19 1 19 6 19 3 19 1 18 1 19 0 19-1 19 0 19-2 18-3 19 2 19 1 19-2 19-2 19 5 18 6 19-1 19-6 19-3 19 4 19 3 18 0 19-2 19-6 19-1 19 1 18-4 19-5 19 1 19 6 19 3 19-1 18-1 19 0 19-4 19-5 19 2 19 5 18 3 19 1 19 0 19 0 19-3 18-2 19 1 19 0 19 0 19 1 19-2 18-4 19-8 19-6 19 2 19 8 19 7 18-3 19-4 19 2 19 4 19 4 18-1 19-5 19-2 19 6 19 4 19-4 18-4 19 0 19 0 19 2 19 3 19-1 18-3 19-3 19 3 19 6 19 0 18-3 19 0 19 0 19 0 19-6 19-1 18 4 19 0 19 1 19 8 19 4 19-8 18-5 19 7 19 3 19-2 19-2 18-5 19-9 19-6 19 5 19 8 19 4 18 1 19 0 19-4 19-6 19-3 19 2 18 5 19 2 19-1 19 4 19 4 18 1"/>
<path stroke="#800000" d="M6224 15907l18-10 19 8 19 4 19-7 19 2 18 0 19 3 19 0 19-2 19 0 19-2 18 2 19 2 19-3 19 2 19-3 19 9 18 3 19-3 19 1 7-6 0-9330 4 0 4 1098 4 2634 4 1452 4 800 4 441 4 247 4 136 5 76 4 42 4-429 4-387 4-330 4-281 4-238 4-201 4-171 5-143 4-121 4-105 4-89 4-76 4-64 4-54 4-42 5-36 4-30 4-24 4-19 4-13 4-11 4-8 4-6 4-4 5-3 4-1 4-1 4-1 4-4 4-3 1-1 19-5 18 14 19 4 19-4 19 6 19 8 19 2 18 14 19 15 19 2 19-7 19-3 18 10 19 17 19 5 19 0 19 11 19 18 18 11 19-6 19-5 19 3 19-4 19-3 18 20 19 28 19-2 19-5 19 18 18 18 19 11 19 10 19 12 19 9 19 2 18 5 19 19 19 20 19 20 19 9 19-1 18 19 19 16 19 1 19 8 19 16 18 7 19 0 19-5 19 3 19 6 19 0 18-2 19 7 19 14 19-2 19-4 19 1 18 12 19 7 19-5 19-5 19 13 18 4 19 7 19 22 19 15 19 12 19 12 18 12 19 12 19 15 19 9 19 2 19 3 18-3 19-11 19-14 19 11 19 28 18 12 19-2 19 3 19 15 19 27 19 17 18 0 19-15 19 4 19 20 19 5 19-3 18 3 19 8 19 11 19 7 19 2 18 5 19-4 19 7 19 14 19 2 19 7 18 9 19 15 19 23 19 9 19-15 19-6 18 16 19 0 19-21 19-9 19 1 18 8 19 3 19-17 19-5 19 8 19-5 18-18 19-6 19 12 19 7 19 5 19 19 18-2 19-17 19 4 19 11 19 9 18 5 19 2 19 19 19 17 19 2 19 10 18 12 19-4 19 1 19-2 19 1 19-12 18-16 19 13 19 9 19-14 19-7 18-3 19-15 19 9 19 14 19-9 19-8 18 18 19 16 19-8 19 3 19 19 19 18 18 19 19-11 19-20 19 3 19 6 18-6 19-13 19 1 19-3 19 1 19 15 18 13 19 2 19 9 19 19 19 7 19 5 18 4 19 9 19 17 19-8 19-23 18-10 19 10 19 25 19 22 19 19 19 0 18-9 19 3 19 12 19-4 19 3 19 7 18-1 19 13 19 1 19 1 19-5 18 2 19 10 19 15 19 19 19 9 19 11 18-8 19-34 19-14 19-1 19-4 19-12 18-2 19 14 19 6 19-6 19 5 18 20 19 24 19 0 19-23 19 7 19 23 18 11 19-6 19 1 19 22 19 15 19 2 18 13 19 11 19-8 19-9 19 15 18 22 19 27 19 28 19 5 19-2 19 5 18-2 19-9 19-8 19-8 19 4 19 3 18-11 19 6 19 18 19-1 19-10 18 24 19 20 19-21 19-16 19 12 19 30 18 35 19 7 19-10 19-21 19-20 19-2 18 6 19 16 19-1 19-7 19 7 18-2 19-2 19 19 19 22 19 7 19 0 18 5 19 5 19 13 19 18 19 12 19-5 18-7 19 20 19 17 19 3 19-11 18-19 19 6 19 10 19 3 19-1 19-14 18 8 19 12 19-23 19-12 19 16 19 5 18 5 19 12 19 7 19-2 19-17 18-10 19 18 19 29 19 10 19 9 19 23 18 4 19 9 19 9 19-4 19 8 19 12 18 0 19-4 19-3 19-18 19-5 18-14 19-28 19 3 19 32 19 18 19 13 18 18 19-3 19-13 19-10 19-9 19 8 18 9 19 6 19-1 19-2 19 9 18 19 19 5 19-21 19 0 19 16 19-2 18 2 19 7 19 2 19-3 19-5 19 10 18 12 19-22 19-10 19 16 19 19 18 7 19-8 19-7 19 2 19 10 19-1 18-18 19-19 19 9 19 8 19 3 19 30 18 11 19 2 19 6 19-12 19-25 18-2 19 21 19 27 19 6 19-15 19-15 18-10 19 11 19 6 19-1 19 14 19 15 18 7 19-1 19 8 19 5 19 8 18 2 19-3 19 8 19 15 19 8 19-8 18-6 19 3 19-18 19-14 19 5 19 4 18 9 19 11 19-5 19-7 19 9 18 21 19 7 19-5 19-5 19 3 19 2 18-6 19-6 19 16 19 14 19 11 19 4 18-2 19-7 19-11 19 12 19 10 18-4 19-4 19 13 19 5 19-6 19 1 18 12 19 10 19 3 19 11 19 15 19-1 18 5 19 4 19-14 19-8 19 15 18-4 19-15 19 1 19 7 19 1 19-7 18-4 19-9 19 2 19 10 19 8 19 0 18-15 19 4 19 34 19 19 19-12 18-25 19-15 19 12 19 21 19 3 19-4 18-4 19-4 19 22 19 32 19 12 19-16 18-15 19 1 19 5 19 7 19 22 18 8 19-1 19 7 19 1 19-16 19-17 18-2 19 12 19 17 19 33 19 14 19-20 18-14 19 4 19 21 19 4 19-12 18-9 19-7 19-5 19 4 19 4 19-3 18 21 19 13 19-11 19-19 19-6 19 10 18 4 19 1 19 2 19-2 19-4 18 11 19 15 19-8 19-11 19 7 19 13 18 6 19 1 19 11 19 6 19-20 19-16 18 1 19 7 19-1 19 8 19 6 18-5 19 14 19 20 19 5 19-11 19-12 18-7 19 3 19 4 19 1 19 5 19 9 18 13 19 7 19-8 19-16 19 3 18 8 19 3 19 6 19 11 19-6 19-21 18-2 19 10 19 6 19 25 19 19 19-20 18-25 19 8 19 17 19 9 19-2 18-1 19 10 19 18 19-2 19-12 19 4 18 0 19-12 19-12 19-2 19 10 19 5 18 8 19 4 19-5 19-16 19-25 18-7 19 25 19 40 19 28 19 7 19-8 18-3 19 8 19-1 19-22 19-13 19 10 18 30 19 29 19-11 19-31 19-12 18 26 19 25 19-2 19-16 19 14 19 20 18-24 19-12 19 9 19 15 19 15 19-8 18-13 19-4 19 9 19 8 19 7 18 14 19 1 19-14 19-7 19 13 19-13 18-15 19 6 19 15 19 10 19 18 19 20 18 5 19 6 19-10 19-8 19-6 18-10 19 7 19 9 19-1 19 3 19 13 18-1 19 0 19 24 19 15 19-11 19-7 18 13 19 9 19-8 19-12 21 0 4 3160 4 1 4 2 4 1 4 1 4 1 4 3 4 2 4 2 5 2 4 4 4 4 4 4 4 3 4 3 4 0 4 1 5 0 4 0 4 0 4-1 4-1 4 0 4-1 4 2 4 2 5 2 4 2 4 0 4 1 4 0 4 0 4 1 4 0 5 0 4 0 4 0 4 1 4 1 4 1 4 1 4 1 4 1 5 1 4 1 4 1 4 1 4 1 4 2 4 1 4 2 5 0 4 0 4 0 4 0 4 0 4 1 4 0 4 1 4 1 5 1 4 2 4 2 4 1 4 2 4 0 4 0 4 0 5 0 4 0 4 1 2 0 19-1 19-1 19 5 18 4 19 1 19 6 19 4 19 0 19-2 18-1 19 3 19 0 19-2 19-1 18 1 19 3 19 2 19-3 19-2 19-2 18 0 19 6 19 6 19 2 19-4 19-2 18 6 19 5 19-2 19-2 19-3 18-3 19 3 19 4 19-2 19 1 19 4 18 3 19 1 19-1 19-4 19-2 19-2 18-1 19 6 19 4 19 1 19-4 18-4 19-1 19 0 19-1 19-1 19-2 18 1 19 7 19 3 19-3 19 1 19 1 18-3 19 0 19 2 19-2 19 0 18 4 19 0 19-2 19 4 19 3 19 1 18-1 19 0 19 0 19 3 19 1 19-1 18-1 19-6 19-6 19 0 19 4 18 0 19 0 19 1 19-1 19 1 19 2 18-1 19-3 19 1 19 2 19 1 19-3 18 1 19 2 19-1 19-3 19 1 18 3 19-1 19-3 19 1 19 1 19 0 18 2 19 6 19 2 19-5 19-4 19 1 18 0 19-3 19-2 19 5 19 1 18 0 19 7 19 2 19-3 19-2 19 2 18 3 19-1 19-1 19 0 19-2 19-2 18 4 19 0 19-9 19-9 19 2 18 3 19-3 19-4 19-2 19-1 19 0 18 6 19 7 19 0 19-3 19 1 19 1 18 0 19 2 19 1 19 0 19 0 18-5 19-6 19-1 19 4 19 3 19 1 18 4 19 4 19-1 19 0 19-1 19-2 18 2 19 1 19-2 19-4 19-2 18 0 19 3 19-1 19-2 19 0 19-1 18-2 19-3 19 0 19 7 19 6 19-3 18-3 19 3 19 3 19 3 19-4 18-3 19 0 19 0 19 3 19 1 19-1 18-1 19-2 19-5 19-2 19 0 19-2 18-2 19 0 19 1 19 4 19 0 18-3"/>
<path stroke="#008000" stroke-width="114" d="M6224 15927l18 2 19-3 19-1 19-6 19-2 18 2 19 3 19 3 19-4 19 1 19 0 18-1 19 5 19-5 19-2 19-1 19 3 18 4 19-1 19 3 7-3 0-9347 4 0 4 0 4 0 4 842 4 1232 4 748 4 445 4 260 5 147 4 78 4 43 4 21 4 6 4-1 4-3 4-4 4-3 5-4 4-2 4-7 4-9 4-8 4-8 4-6 4-3 5-3 4-3 4-2 4-1 4-2 4-1 4-1 4 0 4-2 5-1 4-1 4-2 4 1 4 1 4 2 1 1 19 14 18 6 19-3 19 12 19 13 19 13 19 27 18 15 19-4 19 12 19 7 19-9 18 14 19 10 19-3 19 9 19 8 19 4 18 0 19 13 19 32 19 26 19 16 19 16 18 13 19-1 19 2 19 9 19 15 18 11 19-19 19-30 19-8 19 25 19 27 18 11 19-3 19-5 19 23 19 29 19 16 18 10 19 2 19-6 19-4 19 13 18 11 19 10 19 2 19-12 19-7 19 0 18 6 19 16 19 14 19-8 19-28 19-9 18 16 19 21 19 9 19 0 19-9 18 0 19 19 19 6 19-5 19-3 19 5 18 0 19 5 19 9 19 1 19-5 19 8 18 8 19-19 19-6 19 20 19 11 18 6 19 2 19-10 19 11 19 43 19 24 18-11 19-19 19-2 19 25 19 13 19 17 18 15 19-14 19-11 19 4 19 11 18 9 19 1 19 5 19 8 19 2 19 13 18 10 19 14 19 14 19 5 19 22 19 35 18 11 19-15 19-21 19 2 19 13 18-16 19-24 19-2 19 32 19 14 19-7 18-4 19-11 19 0 19 17 19 6 19 1 18 18 19 25 19 7 19-3 19 8 18 4 19-8 19 3 19 14 19 6 19-7 18-7 19-8 19-8 19-5 19 11 19 24 18 1 19 4 19 28 19 7 19-13 18-10 19 16 19 9 19-12 19 0 19 9 18 5 19-9 19-3 19 13 19 6 19-6 18-9 19 1 19 23 19 29 19 17 18 18 19 6 19-9 19-5 19 3 19 10 18-6 19 3 19 24 19 21 19-6 19-17 18 18 19 12 19-5 19 2 19 7 18 11 19 20 19 11 19-3 19 14 19 12 18-3 19-4 19 9 19 18 19 21 19-7 18-8 19 9 19 9 19 6 19 8 18-3 19-5 19 6 19 13 19 9 19 3 18 11 19-3 19 1 19 3 19 12 19 25 18-14 19-30 19-3 19 8 19 8 18 3 19 6 19 3 19-9 19 14 19 23 18 13 19 11 19-10 19-7 19 31 19 28 18-9 19-25 19-17 19-7 19 20 18 32 19 14 19-3 19-8 19-10 19 0 18 11 19 6 19 3 19 14 19 6 19-2 18-1 19 12 19 26 19 14 19-7 18-24 19-17 19-4 19 18 19 16 19-2 18 0 19 19 19 24 19 9 19 6 19-2 18-19 19-19 19-8 19 8 19 21 18 8 19-10 19 0 19 7 19 6 19 7 18 14 19 19 19-1 19 6 19 16 19 8 18 1 19-2 19 10 19 6 19-9 18-10 19 7 19 18 19 20 19 1 19-21 18-3 19 15 19-5 19-12 19-8 19 8 18 18 19 16 19 7 19-1 19 8 18 9 19-8 19-15 19-2 19 21 19 27 18 12 19-1 19 3 19 6 19-3 19 8 18 16 19 11 19 5 19 0 19 3 18 2 19 6 19 0 19 4 19 4 19 1 18 3 19 7 19 5 19 4 19 10 19 7 18 4 19 2 19-1 19-6 19-6 18-5 19-17 19-18 19 3 19 10 19 5 18 10 19 31 19 14 19-25 19-6 19 3 18-16 19 6 19 17 19 24 19 11 18-11 19-14 19 2 19 12 19-5 19-14 18 13 19 10 19-13 19 11 19 10 19-12 18-2 19 0 19 9 19 11 19 14 18 14 19-4 19-14 19 4 19 9 19 6 18 11 19 2 19-5 19-6 19-21 19-10 18 18 19 9 19-10 19-9 19-3 18 1 19-4 19-7 19-3 19 0 19 11 18 18 19 25 19 19 19 8 19-10 19-6 18 13 19 3 19-14 19-7 19 8 18-2 19 12 19 40 19 14 19 7 19 29 18 2 19-25 19-3 19 12 19-2 19-8 18-5 19 1 19 3 19 4 19-4 18-18 19-17 19 4 19 23 19 15 19 3 18 10 19 10 19-2 19 6 19 17 19 12 18-6 19-16 19 1 19-3 19 0 18 11 19 5 19 13 19-4 19-23 19-13 18 3 19 15 19-6 19-9 19 2 19 3 18 4 19 19 19 20 19 0 19-7 18 9 19 18 19-9 19-25 19-4 19 5 18 9 19 6 19 7 19-1 19-16 19 7 18 14 19-1 19 0 19-2 19-16 18 0 19 14 19-4 19 2 19 14 19 4 18 7 19 9 19 6 19 7 19 1 19 7 18 16 19 9 19-9 19-13 19 10 18 29 19-1 19-7 19 19 19-1 19-26 18-20 19 0 19 4 19-7 19-2 19 14 18 22 19 13 19-6 19-22 19 4 18 32 19 27 19 9 19-6 19-23 19-7 18 12 19 7 19-3 19 7 19 8 19-3 18-9 19 2 19-5 19-5 19 5 18 10 19 9 19-8 19-5 19 26 19 36 18 13 19-2 19-1 19 5 19-4 19-29 18-24 19 14 19 18 19 6 19-3 18-13 19 6 19 17 19 1 19 2 19 10 18-8 19-2 19 6 19-19 19-11 19 0 18-6 19 5 19 22 19 3 19-12 18 7 19 15 19 15 19 0 19-12 19-11 18 6 19 10 19-8 19-12 19-6 19-13 18-8 19 20 19 24 19 9 19-3 18-7 19-1 19 6 19 14 19 7 19-13 18-9 19 1 19-2 19-7 19 9 19 33 18 17 19-1 19-5 19 21 19 29 18-8 19-24 19 2 19 16 19 5 19 7 18 2 19-14 19-6 19-5 19-11 19-9 18 2 19 9 19 15 19 10 19-5 18-9 19 1 19 8 19 2 19-4 19-2 18 7 19 11 19-2 19-22 19-13 19 20 18 27 19 2 19-2 19-5 19-20 18-9 19 4 19 13 19 12 19 3 19 6 18 15 19 20 19 6 19 5 19 7 19 1 18 10 19 6 19 5 19 8 13 0 0 4419 49 0 0-1359 4 5 4 4 4 4 4 5 4 3 4 4 5 3 4 3 4 3 4 4 4 4 4 4 4 4 4 4 4 5 5 4 4 5 4 4 4 4 4 3 4 3 4 3 4 4 5 5 4 4 4 5 4 5 4 3 4 3 4 3 4 2 4 3 5 2 4 2 4 2 4 2 4 2 4 2 4 2 4 2 5 2 4 3 4 3 4 4 4 3 4 3 4 3 4 2 4 2 5 3 4 1 4 1 4 0 4 1 4 1 4 1 4 1 5 2 4 1 4 1 4 2 4 1 4 2 4 1 4 4 4 3 5 3 4 3 4 3 4 2 4 3 2 1 19 7 18 6 19 4 19 3 19 1 19 3 19 11 18 7 19-1 19-1 19-2 19 3 19 7 18 2 19-4 19-1 19 2 19-1 18 3 19 9 19-1 19-9 19-5 19 2 18 4 19 4 19-1 19-5 19 1 19 5 18 1 19-5 19-9 19 0 19 4 18 5 19 6 19 4 19 2 19-1 19-7 18 0 19 6 19-1 19-3 19 2 19-2 18-4 19 3 19 0 19-1 19 1 18 4 19 4 19-1 19-4 19-2 19 3 18 7 19-1 19-4 19-1 19 2 19 0 18 3 19 3 19-3 19-1 19 1 18 0 19 1 19 1 19 0 19-2 19-3 18-3 19-1 19 0 19 0 19-1 19-1 18 1 19 0 19 1 19-1 19-2 18-2 19 1 19 5 19-3 19-8 19 0 18 6 19 7 19 6 19 5 19-7 19-8 18 1 19-1 19-2 19 1 19 3 18-2 19-5 19 0 19 0 19 2 19 2 18-5 19 0 19 6 19 0 19-4 19-1 18 3 19 1 19 0 19-2 19 3 18 3 19-5 19-5 19 4 19 6 19 2 18 0 19-1 19-1 19-2 19 1 19 5 18 0 19 2 19 3 19-3 19-3 18-1 19-3 19-2 19-3 19 0 19 6 18-1 19-4 19 2 19-2 19-2 19 3 18 2 19-3 19-3 19 3 19 1 18-2 19 1 19 1 19-2 19 1 19 2 18 0 19 0 19 2 19 1 19 2 19 0 18 3 19-1 19-7 19-2 19 0 18-5 19-1 19 4 19 4 19 3 19 1 18-2 19-1 19-1 19 3 19 4 19 0 18-1 19 7 19 2 19-5 19-2 18 2 19 2 19 1 19-6 19-1 19 1 18-3 19 1 19 0 19 2 19 1 19-1"/>
</g></g>
<g fill="#000"><rect x="385.2" y="697.7" width="6.9" height="969.1"/><rect x="385.2" y="1660.8" width="1565.3" height="6.0"/><rect x="558.5" y="1661.8" width="6.5" height="22.8" rx="2.2"/><rect x="905.0" y="1661.8" width="6.5" height="22.8" rx="2.2"/><rect x="1251.5" y="1661.8" width="6.5" height="22.8" rx="2.2"/><rect x="1598.0" y="1661.8" width="6.5" height="22.8" rx="2.2"/><rect x="1944.5" y="1661.8" width="6.5" height="22.8" rx="2.2"/><rect x="385.2" y="1661.8" width="6.5" height="13.8" rx="2.2"/><rect x="731.7" y="1661.8" width="6.5" height="13.8" rx="2.2"/><rect x="1078.2" y="1661.8" width="6.5" height="13.8" rx="2.2"/><rect x="1424.7" y="1661.8" width="6.5" height="13.8" rx="2.2"/><rect x="1771.2" y="1661.8" width="6.5" height="13.8" rx="2.2"/><rect x="367.6" y="1585.7" width="23.0" height="6.8" rx="2.2"/><rect x="367.6" y="1289.7" width="23.0" height="6.8" rx="2.2"/><rect x="367.6" y="993.7" width="23.0" height="6.8" rx="2.2"/><rect x="367.6" y="697.7" width="23.0" height="6.8" rx="2.2"/><rect x="377.1" y="1437.7" width="13.5" height="6.8" rx="2.2"/><rect x="377.1" y="1141.7" width="13.5" height="6.8" rx="2.2"/><rect x="377.1" y="845.7" width="13.5" height="6.8" rx="2.2"/></g>
<g class="tk"><text transform="translate(359.3 1606.2) scale(0.942 1)" text-anchor="end">0</text><text transform="translate(359.3 1310.2) scale(0.942 1)" text-anchor="end">40</text><text transform="translate(359.3 1014.2) scale(0.942 1)" text-anchor="end">80</text><text transform="translate(359.3 718.2) scale(0.942 1)" text-anchor="end">120</text><g transform="translate(359.3 718.2) scale(0.942 1)" fill="#fff"><rect x="-116.72" y="-8.35" width="13.58" height="9.25"/><rect x="-92.85" y="-8.35" width="12.63" height="9.25"/></g><text transform="translate(562.1 1746.3) scale(0.942 1)" text-anchor="middle">0</text><text transform="translate(908.6 1746.3) scale(0.942 1)" text-anchor="middle">100</text><g transform="translate(908.6 1746.3) scale(0.942 1)" fill="#fff"><rect x="-56.40" y="-8.35" width="13.58" height="9.25"/><rect x="-32.53" y="-8.35" width="12.63" height="9.25"/></g><text transform="translate(1255.1 1746.3) scale(0.942 1)" text-anchor="middle">200</text><text transform="translate(1601.6 1746.3) scale(0.942 1)" text-anchor="middle">300</text><text transform="translate(1948.1 1746.3) scale(0.942 1)" text-anchor="middle">400</text></g>
<text class="ti" transform="translate(964.5 1873.2) scale(1 1.04)">Time, msec</text>
<g id="yt2" transform="translate(163.3 1520.5) rotate(-90) scale(1 1.04)"><text class="tr" transform="skewX(-19)" x="0" y="0">I</text><text class="tr" style="font-size:60.5px" x="22.5" y="28.5">K(DR)</text><text class="tr" x="213.7" y="0">density, pA/pF</text></g>
<text id="lg2" class="lg" font-size="53.5" x="1461.5" y="943.4" textLength="222.5" lengthAdjust="spacingAndGlyphs">control</text>
<clipPath id="c3"><rect x="380" y="1800.2" width="1640" height="959.5"/></clipPath>
<g clip-path="url(#c3)"><g transform="scale(0.085 .1)" fill="none" stroke-width="109" stroke-linejoin="round">
<path stroke="#000" d="M6224 26895l18 0 19 0 19-9 19-3 19 7 18 2 19 1 19 1 19 0 19-4 19-3 18 5 19 1 19 2 19 5 19-5 19-1 18 2 19 4 24-7 0-9321 3 0 4 3512 4 2297 5 1386 4 837 4 504 4 305 4 183 4 111 4 67 4 42 5 26 4 17 4 11 4 7 4 4 4 2 4 2 4 1 4-1 5-3 4-2 4-3 4-3 4-2 4-2 4-3 4-2 5-1 4-1 4 0 4-1 4-1 4 3 4 3 4 3 4 3 5 2 4 1 4 1 19-3 19-1 19 1 19 8 19 4 18-7 19-3 19 5 19 5 19 2 18 1 19 3 19 3 19-2 19-1 19 7 18 7 19-7 19-12 19 5 19 15 19-2 18-13 19-13 19-4 19 4 19 2 18 3 19 4 19 3 19-1 19-3 19-4 18-1 19 3 19 1 19-5 19-5 19 2 18-2 19-3 19 7 19 10 19 2 18-7 19-3 19 8 19 3 19-7 19-8 18-5 19 5 19 7 19-1 19 3 19 13 18 9 19-4 19-11 19-11 19 0 18 2 19-2 19-6 19-8 19-2 19 0 18 2 19 6 19 0 19-3 19 4 19 4 18-3 19-3 19 3 19 3 19-6 18-4 19-2 19 4 19 5 19 4 19-2 18-11 19-6 19-1 19 6 19 4 19-5 18 2 19 12 19 3 19-8 19-2 18-1 19 3 19 5 19 0 19 1 19 7 18-2 19-6 19-3 19-2 19-1 19-1 18 0 19 0 19-5 19-5 19 3 18 7 19 4 19-3 19-4 19 3 19 2 18-2 19 3 19 5 19 4 19-2 19-3 18-2 19-5 19-5 19 0 19 3 18 11 19 12 19-3 19-3 19 2 19-3 18 2 19-1 19-1 19 2 19-3 19-8 18-2 19 8 19 1 19-6 19 1 18 3 19 1 19-3 19 1 19 5 19 8 18 3 19-2 19-7 19-11 19-7 19 3 18 0 19-6 19 2 19-1 19-4 18-3 19 6 19 8 19 6 19 5 19 0 18-8 19-7 19 4 19 2 19-1 19-3 18-4 19 5 19 0 19-8 19 6 18 7 19 1 19 2 19 2 19 1 19 0 18-6 19-13 19-5 19 4 19 3 19-1 18 4 19 2 19-7 19-4 19 3 18 5 19 5 19 3 19-3 19-7 19-2 18 0 19 2 19 2 19-4 19-2 19 4 18 8 19 4 19-3 19 0 19 7 18-1 19-5 19 5 19 7 19-3 19-2 18-3 19-4 19 2 19-3 19-2 19 5 18 2 19 0 19 3 19 2 19-8 18-11 19 2 19 1 19 1 19 4 19-2 18-2 19 7 19 5 19 2 19-2 19-7 18-1 19-3 19-5 19 3 19 5 18-7 19-6 19 2 19 9 19 8 19 0 18-12 19-9 19-4 19 2 19 5 19-2 18-6 19-1 19 4 19 12 19 9 18 6 19-4 19-5 19-1 19 1 19-2 18-2 19-2 19-3 19 4 19 5 19-5 18-6 19 4 19 2 19 0 19 0 18-2 19 0 19 0 19 1 19 2 19 2 18 4 19 4 19-3 19-5 19 2 19 8 18 0 19-6 19-5 19 0 19 2 18 0 19 3 19-2 19-6 19-6 19-4 18 1 19 0 19 4 19 8 19 6 19 0 18-3 19-2 19 4 19 7 19 4 18-6 19-5 19 3 19 1 19-3 19-9 18 0 19 13 19 0 19-9 19-4 19 3 18 2 19-6 19-3 19 1 19 4 18 3 19-1 19-1 19-4 19-1 19 0 18-3 19 0 19 3 19-4 19-3 19 3 18 5 19 1 19-2 19-3 19-4 18-1 19-3 19-3 19 7 19 10 19-1 18-5 19-2 19-4 19 0 19 3 19-1 18 4 19 2 19-2 19 3 19 0 18-1 19 0 19 3 19 4 19-2 19 2 18-1 19-1 19 6 19 2 19 1 19 1 18-2 19-5 19 0 19 10 19 2 18-7 19-7 19-5 19-5 19 3 19 8 18 0 19-3 19-7 19 0 19 9 19 3 18 0 19 1 19-3 19-6 19 1 18 8 19 5 19 1 19-1 19-3 19 0 18 3 19-1 19 1 19 0 19-5 19 0 18 7 19-1 19-5 19 1 19 7 18-4 19-10 19 7 19 11 19 3 19-4 18-6 19-1 19 0 19-1 19 7 19 6 18-3 19-6 19 0 19-2 19 1 18 9 19 3 19-11 19-6 19 0 19 0 18 0 19 2 19 4 19 0 19 1 19 2 18 0 19-3 19-8 19-7 19 0 18 8 19 3 19-4 19-2 19 0 19 6 18 3 19-3 19 10 19 7 19-4 19-4 18 1 19 1 19-6 19-2 19 2 18 1 19 3 19 0 19 3 19 5 19 6 18-1 19-9 19-7 19-4 19-4 19 1 18 5 19-3 19-7 19 2 19-4 18-9 19-1 19 5 19 4 19 3 19 1 18 3 19 0 19 3 19 6 19 0 19-3 18 1 19 7 19 7 19-2 19-9 18 0 19-2 19-9 19-4 19 3 19 2 18-2 19-5 19-6 19-5 19 1 19 10 18 8 19-5 19-6 19 0 19 6 18 2 19-6 19-4 19 3 19 3 19 0 18 3 19 7 19-4 19-8 19 3 19-1 18-6 19 8 19 9 19-4 19-10 18-1 19 13 19 0 19-15 19-5 19 4 18-6 19-4 19 7 19 10 19 2 19 1 18 2 19-2 19 4 19 2 19-3 18-1 19 0 19-2 19 0 19 1 19 0 18 1 19 1 19 6 19 2 19-6 19-11 18-5 19-2 19-1 19 4 19 3 18 3 19 9 19 6 19-6 19-5 19-1 18 1 19 6 19 2 19 1 19-4 19-7 18 3 19 1 19-3 19 1 19-1 18-3 19-4 19-1 19 10 19 8 19-1 18-1 19 1 19 1 19-1 19-1 19-2 18 4 19 4 19-6 19-5 19 3 18 0 19-2 19 5 19 5 19 1 19 4 18-1 19-4 19 0 19 2 19 1 19-2 18 1 19 1 19 0 19-1 19 0 18 5 19 6 19-1 19-4 19-3 19-2 18-1 19-5 19-9 19 4 19 8 19-10 18-10 19-3 19 2 19 6 19 4 18 0 12 0 4 2 4-1 4 0 4-1 4-1 4 0 4 0 5 0 4 1 4 0 4 1 4 2 4 1 4 2 4 1 5-1 4-1 4-1 4-1 4-1 4-1 4 0 4-1 4 0 5 0 4 1 4 0 4 0 4 1 4 0 4 1 4 0 5 0 4 1 4 0 4 0 4 0 4 0 4 1 4 0 4 1 5 0 4 0 4 0 4-1 4 0 4-1 4-1 4-1 5-1 4-2 4 1 4 1 4 0 4 1 4 2 4 2 4 2 5 2 4 2 4 0 4 0 4 0 4-1 4 0 4-1 5-1 4-1 4 0 4-1 4 1 2 0 19 2 19-1 19-3 19-3 18 5 19 5 19 1 19 2 19-3 19-5 18-3 19-2 19-1 19 3 19 0 19 0 18 0 19-2 19 3 19 6 19 3 18-5 19-7 19-2 19 5 19 5 19-3 18-4 19 1 19 6 19-1 19-3 19 0 18 0 19-3 19-1 19-1 19-2 18 5 19 4 19-1 19-1 19 3 19 1 18-4 19-2 19 1 19 3 19-3 19-4 18 6 19 6 19 0 19-1 19 0 18 6 19-1 19-6 19-2 19 1 19 1 18 1 19-3 19-4 19-2 19 2 19-1 18 0 19 0 19 0 19 2 19 4 18-2 19-6 19 3 19 3 19-1 19 4 18 3 19-1 19-3 19 1 19 4 19-4 18-4 19-2 19 1 19 0 19-2 18-2 19 3 19 2 19 0 19 1 19 0 18 1 19-1 19-2 19-2 19-5 19 2 18 6 19 4 19 6 19 2 19-9 18-3 19 1 19 1 19 0 19 2 19 4 18-1 19-2 19-3 19-1 19 0 19 6 18 5 19-4 19-5 19-1 19 0 18-1 19 0 19 2 19-1 19-4 19-2 18-3 19 1 19 3 19-3 19 0 19-2 18 0 19 3 19 3 19 3 19 4 18-6 19-6 19 3 19 5 19 2 19-3 18-1 19 7 19-1 19-8 19-2 19 3 18 8 19 3 19-3 19-1 19-3 18-5 19-1 19 4 19-1 19-3 19-1 18-2 19-1 19-1 19 1 19 3 19 1 18-1 19 2 19 3 19 0 19 0 18 0 19 0 19 1 19 0 19-2 19 0 18-3 19-3 19 3 19 3 19 3 19 3 18-3 19-3 19-1 19 0 19 2 18-3 19-1 19-2 19-2 19 2 19 3 18-1 19 1 19 0 19-2 19 0 19 3"/>
<path stroke="#f00" d="M6224 26901l18-2 19-2 19 1 19-2 19-4 18 1 19-1 19 4 19-3 19-5 19 5 18 6 19-3 19-3 19 4 19-2 19 1 18-4 19-1 24 2 0-9321 3 0 4 3497 4 2297 5 1387 4 837 4 505 4 304 4 183 4 110 4 67 4 40 5 24 4 15 4 8 4 6 4 4 4 3 4 2 4 2 4 0 5-2 4-1 4-2 4-2 4 1 4 0 4 1 4 0 5 1 4 0 4 0 4 0 4 1 4-1 4-1 4-1 4-1 5-2 4-2 4-3 19-14 19-6 19 2 19 2 19 2 18 4 19 0 19-5 19-3 19-1 18 9 19 4 19-5 19-2 19 0 19 2 18 0 19 2 19 3 19 5 19 2 19-5 18-4 19-2 19-5 19 5 19 19 18 2 19-17 19-1 19 14 19 3 19-8 18-2 19 6 19-2 19-8 19 4 19 4 18-4 19-5 19 1 19 6 19-2 18-3 19 2 19 1 19 3 19 5 19 4 18-4 19-8 19-3 19 3 19 5 19 4 18-1 19-8 19-2 19 7 19 6 18 0 19-1 19-5 19-5 19-4 19-4 18 2 19 3 19 0 19-1 19-8 19-5 18 7 19 7 19 2 19-4 19 1 18 5 19 2 19-1 19-4 19-4 19 6 18 2 19 4 19 5 19-5 19-1 19 0 18 0 19 3 19-2 19-1 19 3 18-5 19-7 19 5 19 9 19-2 19-6 18-3 19-5 19-3 19 8 19-1 19-8 18-3 19 3 19 0 19-2 19 5 18 3 19-2 19 3 19 10 19 4 19-2 18 3 19-2 19-6 19-4 19 2 19 3 18 5 19 11 19 6 19-5 19-10 18 1 19 4 19-1 19-7 19-4 19 7 18 4 19-1 19 3 19 2 19-4 19-1 18 1 19-4 19-2 19 4 19-1 18-7 19 1 19 1 19 2 19 0 19 0 18 1 19-1 19-6 19-2 19-1 19-5 18-2 19 0 19 4 19 11 19 3 18-9 19-4 19 0 19 4 19 6 19-2 18 4 19 7 19-7 19-11 19-5 19 0 18 0 19 4 19 1 19-7 19-3 18 3 19 1 19 3 19 5 19-1 19 0 18 1 19-1 19 0 19-2 19-4 19-4 18 3 19 6 19 2 19-3 19 0 18 3 19-3 19-6 19-2 19 1 19 3 18 3 19 1 19 2 19 0 19-1 19-5 18-4 19 6 19 9 19 4 19-3 18-2 19-4 19-7 19-1 19-3 19-4 18-3 19 0 19 3 19 2 19 1 19 2 18 3 19-2 19 1 19 6 19 7 18-3 19-9 19-5 19 6 19 4 19 0 18 2 19 2 19-3 19-5 19 0 19 3 18-1 19-1 19 1 19 4 19 11 18 7 19-5 19-10 19-6 19 5 19 4 18 0 19-3 19-10 19-2 19 7 19 4 18-3 19-2 19 1 19 2 19 3 18-2 19-4 19-3 19-1 19-1 19-2 18-3 19-6 19 1 19 10 19 7 19-7 18-10 19 0 19 5 19 0 19 1 18 0 19-1 19 4 19-1 19 3 19 2 18-8 19 2 19 4 19-7 19-6 19-7 18 3 19 5 19-1 19 2 19 3 18-3 19-3 19 2 19-4 19-2 19 6 18 9 19 9 19-6 19-4 19 8 19 5 18-9 19-9 19 0 19 2 19 4 18 8 19 5 19 2 19-2 19-10 19-2 18 7 19 8 19 0 19-7 19-5 19-3 18 2 19-3 19-6 19 4 19 5 18 6 19 9 19-3 19-5 19-3 19-2 18 0 19-1 19 6 19 3 19 0 19 0 18 0 19-2 19-3 19-1 19 2 18-1 19-11 19-1 19 2 19-1 19-4 18-3 19 8 19 14 19 1 19-9 19-7 18 3 19 1 19-2 19 3 19 2 18-3 19 3 19 3 19-9 19-7 19 6 18 11 19 6 19-9 19-13 19-2 19 0 18-1 19-5 19-1 19 3 19 8 18 7 19-3 19 0 19 6 19-3 19-9 18-2 19 1 19-4 19-3 19 5 19 1 18-4 19 2 19 4 19 6 19 6 18-3 19-8 19 0 19-2 19 0 19 12 18 1 19-5 19 0 19-1 19-3 19 0 18 3 19 3 19 0 19 2 19 2 18-3 19-3 19-1 19-3 19 1 19 7 18 2 19-9 19-4 19 4 19 3 19 7 18 8 19-1 19-2 19-2 19-8 18-12 19-1 19 3 19 2 19 1 19 2 18 1 19 3 19 4 19-3 19-7 19 0 18 5 19 3 19 1 19-1 19 1 18 4 19 2 19 1 19 2 19 5 19-4 18-11 19 0 19 2 19-4 19-5 19 1 18 3 19 7 19-2 19-12 19-4 18 3 19-1 19-2 19 4 19 3 19-4 18-3 19 7 19 10 19 6 19-3 19 4 18 10 19-4 19-9 19 4 19-1 18-2 19 5 19-2 19-3 19 5 19 1 18-5 19-4 19 4 19 2 19 1 19 5 18-4 19-8 19-7 19-5 19-3 18 10 19 10 19 0 19-2 19 0 19 3 18-1 19 0 19 2 19 0 19-3 19-1 18 7 19 9 19 1 19-4 19 0 18 0 19 2 19-4 19-9 19 1 19 3 18-3 19-1 19 5 19 7 19 2 19-2 18-1 19-2 19-7 19-2 19 8 18 1 19-8 19-5 19 6 19 5 19-2 18-2 19-1 19 2 19 1 19 0 19 2 18 0 19 2 19-4 19-10 19-3 18-3 19 2 19 5 19-6 19-5 19 4 18 5 19-3 19-13 19-1 19 11 19 1 18-3 19-3 19 3 19 6 19 5 18 5 19 6 19 6 19-7 19-12 19-1 18 0 19-1 19 2 19 2 19 0 19-4 18-7 19 1 19 3 19 1 19 3 18-3 19-7 19-8 19-2 19 2 19-3 18-5 19-3 19-1 19 6 19 10 19 4 18-9 19-6 19 4 19 6 19 11 18 3 19-6 19-4 19-4 19 1 19 5 18 6 19 3 19-1 19-2 19 0 19 0 18 2 19 1 19 5 19 0 19-4 18-5 19-2 19 5 19 0 19 1 19-1 18 0 19 6 19 0 19-4 19-3 19 1 18 6 19-6 19-6 19-1 19 5 18 4 12 0 0 1181 70 0 0-886 4-20 4-19 4-17 4-16 4-13 4-12 4-11 4-9 5-9 4-7 4-6 4-5 4-5 4-5 4-6 4-6 5-5 4-4 4-5 4-4 4-4 4-4 4-3 4-2 4-2 5-2 4-2 4-1 4-1 4-2 4-1 4-1 4-2 5-3 4-3 4-2 4-2 4 0 4-1 4 0 4 0 4 0 5 0 4-1 4 0 4 0 4-2 4-2 4-1 4-2 5 0 4 1 4 1 4 1 4 1 4-1 4 0 4 0 4-1 5 0 4 0 4-1 4 0 4-1 4 0 4 0 4 0 5 0 4 0 4-2 4-1 2 0 18 0 19 4 19-1 19-4 19 1 19-3 18-5 19-2 19 5 19 4 19 1 19-2 18-2 19 2 19 2 19-4 19-1 18 0 19 1 19 0 19-5 19 3 19 0 18-3 19-3 19-1 19 3 19 1 19-1 18-1 19 1 19 4 19-1 19 0 18-2 19 1 19 5 19 4 19 2 19-5 18-1 19 2 19-1 19 0 19 0 19 1 18-2 19-5 19-7 19-3 19 1 18 0 19-4 19 2 19 8 19 4 19-2 18-2 19 4 19 6 19 4 19-1 19-6 18-2 19-3 19-2 19 4 19 2 18 0 19 2 19 6 19 3 19 0 19 1 18 1 19-2 19-4 19-2 19-1 19 1 18 4 19 3 19-7 19-6 19 0 18 4 19 1 19-2 19-2 19-2 19 6 18 3 19-3 19-2 19-3 19-3 19 3 18 6 19-1 19-3 19 2 19 1 18-1 19-1 19-1 19-3 19 0 19 4 18 4 19-4 19-5 19-1 19 3 19 1 18-6 19 1 19 10 19 5 19-3 18-6 19-1 19 4 19 2 19 2 19-2 18-5 19 0 19 3 19 0 19 1 19 5 18-2 19-3 19 1 19-1 19-4 18-4 19-2 19 1 19 4 19 6 19 7 18 1 19-3 19 0 19-1 19 0 19 0 18-8 19-2 19 3 19 4 19 4 18 1 19-2 19 1 19 1 19-1 19 4 18 1 19-4 19-1 19 2 19 0 19-1 18-3 19-3 19-2 19 0 19 0 18-2 19 3 19 6 19-1 19-2 19 0 18-2 19 0 19 2 19 4 19 2 19-1 18-4 19-3 19 2 19 4 19 2 18-3 19 2 19 1 19-2 19-4 19 0 18 2 19-6 19-3 19 0 19 1 19 3"/>
<path stroke="#0f0" d="M6224 26905l18-1 19-3 19-4 19-2 19-1 18 8 19 1 19 3 19-8 19-5 19 7 18 0 19-3 19-2 19-4 19 0 19 6 18-2 19-3 24 1 0-9321 3 0 4 3443 4 2298 5 1387 4 838 4 505 4 304 4 183 4 110 4 66 4 43 5 26 4 17 4 11 4 7 4 3 4 2 4 0 4 1 4-2 5-3 4-3 4-3 4-4 4-2 4-2 4-2 4-2 5-1 4 0 4-1 4-1 4 0 4-2 4-1 4-2 4-2 5-1 4 0 4 0 19-5 19-2 19-1 19-7 19 1 18 8 19 5 19-2 19-5 19-2 18-5 19-4 19 6 19 6 19-2 19-11 18-11 19-10 19-3 19 4 19 5 19 5 18-3 19-7 19 3 19 3 19-1 18-1 19 3 19 6 19 1 19-5 19 3 18-4 19-5 19 5 19-3 19-6 19 3 18 7 19-4 19-6 19 1 19-1 18-6 19-6 19-4 19 3 19 11 19 4 18-2 19-1 19-3 19-3 19-5 19-3 18 6 19 2 19-1 19-1 19 3 18 6 19 5 19-3 19-8 19-4 19 1 18 5 19 4 19-4 19-2 19 0 19-2 18-2 19 3 19 2 19-4 19 5 18 9 19-1 19-2 19-1 19-7 19 0 18 8 19 5 19-2 19-7 19-6 19 2 18 8 19 2 19-1 19-5 19-8 18 1 19 9 19 5 19-10 19-5 19 8 18 7 19-1 19-8 19-3 19 5 19 0 18 1 19 0 19 3 19 3 19-4 18-5 19-6 19-3 19 4 19 6 19 2 18 1 19-1 19-6 19-6 19-6 19 1 18 7 19 1 19-2 19-2 19 1 18 7 19 5 19-1 19-3 19 3 19 2 18-6 19 0 19 9 19 3 19-4 19-4 18-4 19-1 19-1 19-3 19-1 18 2 19 3 19 2 19-1 19 5 19 5 18-5 19-3 19 0 19-6 19 1 19 6 18 0 19-4 19-1 19 2 19 1 18 0 19-5 19 2 19 4 19 2 19 8 18 6 19-8 19-10 19-3 19-2 19 3 18 4 19 0 19-3 19-3 19-2 18 0 19 3 19 8 19-2 19-3 19 0 18-2 19 7 19 4 19-1 19 2 19 12 18 7 19-12 19-13 19 5 19 7 18-1 19-4 19 0 19-3 19-1 19 11 18 7 19-5 19-6 19 3 19 4 19-7 18 1 19 7 19-4 19-7 19 1 18 4 19 3 19 3 19-6 19-7 19-9 18-1 19 6 19 5 19-2 19-5 19-2 18 0 19 5 19 8 19-1 19-4 18-1 19-5 19-2 19 2 19 2 19 3 18-4 19-6 19-1 19-4 19 3 19 11 18 0 19-1 19 6 19 1 19 0 18 0 19-4 19-3 19 5 19-1 19-3 18-5 19-1 19 1 19 1 19 5 19 0 18-1 19 4 19 4 19 3 19 0 18 1 19 2 19-2 19-3 19 1 19 1 18-1 19 1 19 0 19-3 19 0 19 2 18 6 19 1 19-4 19 2 19 3 18-1 19-4 19-2 19 4 19 2 19-8 18-4 19 2 19 0 19 0 19-3 19-1 18 0 19-5 19-7 19-4 19 5 18 10 19 6 19 2 19-4 19 3 19 4 18-2 19 1 19 0 19 0 19-3 19-2 18 2 19 2 19 3 19-3 19-4 18-4 19 2 19 3 19-5 19 2 19 1 18 2 19 7 19 0 19-5 19-3 19 7 18 8 19-4 19-6 19 1 19 2 18-3 19-3 19 2 19 0 19-1 19-2 18-2 19 1 19-1 19 2 19 1 19-4 18 7 19 9 19 0 19-4 19-1 18-3 19-9 19-2 19 4 19-1 19-4 18-1 19-2 19 1 19 7 19 1 19-2 18 1 19-4 19 2 19 9 19-1 18-4 19 0 19 3 19 4 19 1 19-1 18-3 19-1 19 2 19 4 19-4 19-8 18-5 19 0 19 1 19-1 19-5 18-2 19 5 19 2 19 1 19 3 19 5 18 2 19-6 19-7 19-1 19 8 19 11 18 4 19-4 19-5 19 2 19 6 18-1 19-6 19-6 19-1 19 11 19 1 18-1 19-2 19-5 19 8 19 4 19 1 18 3 19 0 19-7 19-13 19-1 18 7 19 4 19 7 19 3 19-5 19-1 18-3 19-6 19 2 19 4 19-2 19-5 18-1 19 5 19 6 19 3 19-4 18-6 19 1 19 3 19 3 19 1 19-4 18-2 19 1 19 5 19 4 19-3 19-5 18-2 19-9 19-4 19 5 19 9 18-1 19 4 19 9 19 0 19 1 19 4 18 4 19-6 19-9 19-1 19 12 19 11 18-7 19-8 19 1 19 1 19 3 18-1 19-5 19-7 19-3 19-1 19 1 18 6 19 9 19 0 19-11 19-7 19 1 18-1 19-2 19 2 19 4 19-2 18-7 19 0 19 2 19-2 19 1 19 5 18-3 19-1 19 7 19 6 19 5 19 0 18-9 19-12 19 2 19 12 19-1 18-4 19-2 19-4 19 1 19 8 19 5 18-3 19-5 19 1 19 7 19 3 19-2 18 2 19-1 19-5 19 1 19-4 18-9 19 5 19 6 19-2 19 1 19-4 18 1 19-1 19-1 19 3 19 2 19 3 18-2 19 6 19 4 19 1 19-1 18-8 19-6 19 5 19 14 19 3 19-12 18-9 19 2 19 7 19 2 19-4 19-4 18 6 19 6 19-8 19-2 19 6 18 1 19 0 19 0 19-4 19-5 19-4 18-1 19 7 19 11 19 3 19-5 19-4 18 9 19 6 19-5 19-3 19-1 18 4 19 6 19-9 19-10 19 6 19 6 18-3 19-5 19 0 19 3 19 8 19 5 18 3 19 2 19 1 19-2 19-3 18-3 19-1 19-2 19 0 19 4 19-2 18-12 19-7 19 4 19 7 19 7 19-4 18-6 19 4 19 8 19-1 19-10 18-7 19 5 19 4 19-3 19 4 19 3 18-2 19-1 19 7 19-2 19-13 19 0 18 7 19-1 19-4 19-2 19 1 18 0 19 0 19 4 19 4 19-1 19-1 18-2 19-2 19-3 19-6 19-1 19 4 18 2 19 0 19-1 19 1 19 1 18 8 12 0 0 1251 74 0 0-880 4-22 4-20 4-19 4-16 4-16 4-15 4-13 5-12 4-11 4-11 4-10 4-10 4-8 4-8 4-7 4-7 5-6 4-6 4-4 4-4 4-3 4-3 4-3 4-2 5-2 4-1 4-1 4-1 4-1 4-1 4-1 4-1 4-2 5-1 4-2 4-1 4-1 4-2 4-1 4-1 4-1 5 0 4 1 4 1 4 1 4 0 4 0 4-1 4 0 4-1 5 0 4-2 4-1 4-1 4 0 4-1 4-1 4-1 5-1 4-1 4-2 4-1 4-1 4-1 4 1 4 2 4 2 5 2 4 1 4-1 4-1 2-1 19 0 18 3 19 0 19-2 19-4 19-3 18 3 19 3 19-1 19-1 19-1 19-2 18-4 19-6 19 4 19 5 19 4 19 4 18-1 19 0 19 0 19 0 19-5 18-5 19 1 19 4 19-1 19 0 19 1 18 5 19 2 19-5 19-4 19 1 19 5 18 1 19-1 19-2 19 3 19-1 18-1 19 2 19 0 19 1 19-2 19-2 18-5 19-2 19 1 19 1 19 0 19 2 18 3 19-2 19-1 19 3 19 3 18-1 19-4 19-1 19-1 19 2 19 4 18-3 19-2 19 2 19-1 19 0 19 2 18-1 19 1 19 0 19 0 19 0 18-5 19-3 19 2 19 4 19 1 19-1 18-3 19 2 19 2 19-1 19 2 19 1 18-4 19 0 19 3 19 0 19-2 18 1 19 3 19-3 19 2 19 6 19 1 18 1 19-7 19-8 19-1 19 4 19 4 18-1 19-4 19 0 19 1 19 0 18 1 19 1 19 1 19 1 19 1 19 2 18 2 19 0 19-2 19-6 19-2 19-1 18 3 19 9 19 3 19-4 19-5 18-5 19-2 19 3 19 0 19 1 19 4 18 0 19-4 19 0 19 1 19 1 19 0 18 4 19 4 19-1 19-6 19-1 18 5 19 3 19 2 19 1 19-4 19-5 18-1 19 3 19 0 19 1 19 2 19 3 18 4 19-1 19-1 19-2 19-7 18-5 19 3 19 2 19 0 19-2 19 0 18 1 19 0 19 1 19-1 19-2 19 2 18-1 19 0 19 2 19-1 19 2 18 4 19 2 19-2 19-2 19-4 19 4 18 3 19 1 19 1 19-2 19-3 19-1 18 1 19-2 19-5 19-5 19-5 18 0 19 5 19-1 19-3 19 2 19 6"/>
<path stroke="#00f" d="M6224 26889l18 1 19 4 19-2 19-3 19-6 18 7 19 1 19-2 19-2 19 3 19 0 18-5 19 2 19 0 19-2 19-4 19 5 18 0 19-4 24 11 0-9321 3 0 4 3359 4 2296 5 1385 4 836 4 505 4 303 4 184 4 110 4 66 4 42 5 26 4 17 4 10 4 7 4 4 4 3 4 2 4 1 4-1 5-3 4-2 4-3 4-6 4-3 4-3 4-2 4-3 5-3 4-4 4-4 4-4 4-4 4-3 4-3 4-3 4-2 5-4 4-3 4-4 19-17 19-14 19-9 19-12 19-16 18-9 19-8 19-5 19-9 19-17 18-7 19-1 19-5 19-8 19-12 19 0 18 4 19-8 19-13 19-3 19-2 19-9 18-7 19-2 19 1 19 3 19-2 18-9 19 1 19 5 19-4 19 0 19 2 18-6 19-7 19-3 19 0 19-2 19 6 18 1 19-9 19 1 19-2 19-10 18-2 19 5 19-2 19-2 19 5 19 3 18 9 19 6 19 1 19 0 19-2 19 3 18 3 19 3 19-4 19-4 19 4 18 9 19 5 19-4 19 0 19 4 19-2 18 4 19 5 19-3 19-2 19 3 19-2 18 3 19-2 19-2 19 2 19 4 18 1 19 0 19-3 19-2 19-1 19 0 18-3 19-6 19-1 19 5 19 6 19 3 18 1 19 5 19 5 19-5 19-8 18 0 19 6 19 7 19-4 19-5 19-6 18-2 19 1 19 2 19-5 19 2 19 12 18 2 19 5 19 9 19 1 19-2 18 4 19 1 19-6 19-2 19 9 19 3 18-4 19 1 19 2 19-2 19 1 19 9 18 12 19 5 19 4 19-2 19-2 18 0 19 3 19 8 19 0 19-5 19-8 18-2 19 4 19-3 19-6 19-4 19-2 18 6 19 4 19-1 19-5 19 0 18 6 19-2 19-2 19 4 19 9 19 2 18-3 19 1 19 0 19 6 19 3 19-12 18-3 19 8 19-1 19-3 19 6 18 8 19 2 19-8 19-7 19-1 19 5 18 5 19 0 19 2 19-1 19 1 19 8 18-4 19-14 19-6 19 5 19 7 18 1 19 7 19 3 19-4 19 1 19-1 18 6 19 11 19 7 19 5 19-1 19-3 18-3 19 0 19 6 19 2 19-4 18 1 19-2 19-3 19 7 19-5 19-9 18-1 19 0 19 1 19 5 19 8 19 6 18 1 19-5 19-4 19 3 19 8 18 7 19 1 19-1 19-3 19-3 19 3 18-1 19-5 19 0 19 3 19-5 19-9 18 0 19 12 19 8 19-4 19 4 18 5 19-7 19-10 19 2 19 10 19 4 18-1 19-3 19 1 19 7 19 1 19-4 18-2 19-6 19-6 19 4 19 12 18 5 19-8 19-8 19 3 19 9 19 3 18-6 19-3 19 7 19 4 19-2 19 8 18 3 19-8 19 0 19 4 19 2 18 2 19 3 19 0 19-6 19-2 19 4 18 2 19 1 19 0 19-3 19 0 19 4 18-3 19-7 19 5 19 8 19 0 18-1 19 0 19 7 19 3 19-2 19 4 18-1 19-2 19 2 19-4 19-2 19 0 18-2 19-2 19-7 19 0 19 9 18 8 19 4 19-7 19-8 19-1 19-2 18 9 19 10 19-5 19-6 19 1 19-3 18-1 19 4 19 5 19 5 19 1 18-6 19-6 19 5 19 8 19 0 19-6 18 3 19 7 19-3 19-11 19-4 19 2 18 2 19 5 19 7 19 3 19-8 18-10 19-4 19 5 19-1 19 0 19 7 18 7 19 4 19-1 19-4 19-8 19 0 18 8 19 7 19-1 19 0 19-1 18-7 19-2 19 5 19 5 19 3 19-8 18-7 19 3 19 7 19 1 19-3 19 3 18 1 19 1 19 6 19 2 19 0 18-1 19-3 19 1 19 5 19-2 19 1 18 7 19 3 19-5 19-5 19 9 19 5 18-5 19-5 19-7 19 1 19 1 18-4 19 0 19 1 19 1 19 1 19 3 18 5 19-6 19-6 19 9 19 8 19-2 18-2 19 6 19 3 19-5 19 2 18 3 19-6 19-2 19 1 19-2 19 2 18 4 19 1 19-3 19-5 19-1 19 5 18 3 19 1 19-3 19-1 19 4 18 2 19-6 19-7 19 7 19 7 19-3 18-6 19-4 19 1 19 5 19 0 19-4 18-1 19 1 19 6 19 6 19 4 18 8 19 4 19-3 19-3 19-4 19 1 18-2 19-5 19-1 19 2 19 5 19 5 18-2 19-7 19-2 19 3 19 5 18 1 19 1 19 1 19-4 19-1 19 5 18 3 19-2 19-3 19-6 19-2 19-7 18-1 19 11 19 7 19-7 19-4 18 0 19 4 19 2 19-7 19 1 19 11 18 5 19-1 19-5 19-9 19-2 19 1 18-1 19-4 19-2 19 4 19 5 18 1 19 0 19-2 19 2 19 2 19 5 18 7 19 3 19 1 19-6 19-4 19 6 18 3 19 2 19-1 19-5 19-5 18 1 19-1 19-7 19-4 19 2 19 2 18 5 19 6 19 2 19 1 19 7 19-3 18-2 19 2 19-5 19-4 19 3 18 5 19 0 19 5 19 5 19-6 19-6 18-1 19 1 19 4 19 3 19 0 19-4 18-4 19 3 19 5 19 1 19 3 18 5 19 3 19-5 19-3 19 3 19 0 18-7 19-4 19 5 19 8 19 4 19-1 18-6 19-5 19-5 19-3 19-1 18 5 19 9 19 9 19 3 19-9 19-7 18 0 19-6 19-1 19 7 19 10 19 6 18-8 19-8 19 6 19 5 19-8 18-5 19 0 19 2 19 8 19 0 19-9 18-9 19-2 19 4 19 7 19 3 19 0 18 4 19 1 19 1 19 0 19-9 18-9 19 6 19 8 19-2 19 3 19 3 18-1 19-2 19 1 19-1 19-1 19 3 18 10 19 1 19-8 19 3 19 9 18-4 19-6 19-1 19 8 19 12 19-4 18-10 19-3 19 5 19 1 19 2 19 2 18-3 19-1 19-3 19-6 19-1 18 5 19 6 19-5 19-7 19 3 19 3 18-4 19-4 19 2 19 11 19-6 19-10 18 2 19 3 19 10 19 4 19-9 18-7 12 0 0 1314 78 0 0-879 4-21 4-19 4-17 4-16 4-16 4-16 5-15 4-14 4-13 4-11 4-10 4-9 4-9 4-8 4-7 5-6 4-7 4-5 4-3 4-2 4-1 4-1 4-1 5-1 4 0 4 0 4 0 4-2 4-4 4-3 4-4 4-4 5-1 4 0 4-1 4-1 4 0 4 0 4 1 4 0 5 0 4-2 4-3 4-2 4-3 4-2 4-2 4-1 4-1 5-1 4-1 4 0 4-1 4-1 4 0 4 2 4 1 5 2 4 1 4 2 4 0 4 1 4 0 4 1 4-1 4 0 5 0 4-1 4 0 4-1 4 0 2-1 19-1 18 2 19-1 19-2 19 0 19-1 19 0 18 2 19 2 19-3 19 0 19-1 19-6 18 1 19 3 19 2 19 2 19 1 18-6 19-9 19 1 19 7 19 2 19-2 18 4 19 3 19 4 19 1 19-5 19-5 18 0 19 5 19 1 19-2 19 0 18 1 19 3 19 0 19 0 19 1 19-1 18 3 19 2 19-1 19-6 19 1 19 1 18-3 19 2 19-4 19-3 19 0 18-5 19-2 19 4 19 4 19 0 19-1 18 4 19 0 19-3 19-2 19-2 19-3 18 1 19 2 19-1 19 0 19 2 18 3 19 0 19-4 19-1 19 0 19 0 18 1 19 2 19 5 19 1 19-5 19 0 18 5 19 1 19-1 19-2 19-1 18-3 19-4 19-1 19 0 19 4 19 2 18 4 19 1 19-4 19 0 19 0 19 1 18 1 19 0 19-1 19 2 19 7 18-1 19-7 19 0 19 4 19 1 19-3 18-3 19-3 19-2 19 3 19 4 19 2 18-4 19-2 19 1 19-6 19-5 18 6 19 1 19 0 19 2 19-2 19-2 18 1 19 1 19 1 19 1 19 2 19 2 18 0 19 1 19-1 19-2 19-1 18-1 19-3 19-3 19-2 19 0 19 1 18 1 19 5 19 4 19-1 19-4 19-4 18-1 19-3 19 4 19 0 19-2 18 3 19 1 19 3 19-1 19-5 19-1 18 2 19 3 19 2 19 0 19-1 19-1 18 2 19 2 19 2 19 1 19 1 18 0 19-1 19-3 19 1 19 4 19 0 18 0 19-2 19-1 19 1 19-1 19-2 18 0 19 5 19 6 19-1 19-3 18 1 19 0 19-7 19-5 19 0 19-1 18-3 19-3 19-1 19 2 19 5"/>
<path stroke="#0ff" d="M6224 26893l18 4 19 5 19-2 19-4 19-7 18 2 19 7 19 4 19-4 19 0 19-6 18-5 19 6 19 0 19-5 19 5 19 2 18-3 19 5 24-4 0-9321 3 0 4 3213 4 2297 5 1386 4 837 4 506 4 307 4 186 4 113 4 69 4 40 5 25 4 15 4 9 4 4 4-1 4-2 4-3 4-3 4 0 5 1 4 1 4 0 4-14 4-12 4-10 4-11 4-10 5-11 4-11 4-12 4-10 4-11 4-11 4-11 4-10 4-10 5-10 4-9 4-9 0-1 19-29 19-25 19-33 19-27 19-20 18-6 19-4 19-12 19-12 19-4 18-1 19-4 19 1 19 3 19 5 19 0 18 1 19 9 19 4 19-4 19 0 19 9 18 9 19-1 19-5 19-4 19-3 18 6 19 7 19-3 19-4 19 4 19 6 18 5 19 4 19 4 19 5 19-1 19 0 18 0 19 5 19 13 19 8 19 0 18-1 19-1 19 1 19 6 19-2 19 0 18 2 19-3 19 1 19 6 19 4 19 5 18 6 19 2 19-8 19 1 19 7 18-2 19 2 19 1 19 2 19 5 19 7 18-1 19-6 19 2 19 6 19 6 19 4 18 3 19-1 19-3 19 4 19 2 18-2 19 3 19 1 19-1 19-2 19 5 18 7 19 2 19 2 19 0 19-2 19-2 18 1 19 6 19 7 19 4 19 5 18 8 19-1 19-1 19 2 19-6 19-8 18-6 19-2 19 4 19 8 19 2 19-3 18-3 19-2 19-4 19 1 19 8 18 7 19 7 19 3 19-1 19-6 19-5 18-2 19 0 19 9 19 7 19 0 19 1 18 4 19 11 19 5 19-8 19 0 18 7 19 6 19 3 19 0 19-1 19 5 18 2 19-5 19-3 19 8 19 0 19-1 18 3 19 1 19-1 19 5 19 0 18-1 19 5 19 4 19 1 19-2 19-4 18-7 19 1 19 1 19 1 19 6 19-2 18-4 19 3 19 3 19 5 19 6 18 0 19-2 19 5 19 2 19 0 19 1 18 1 19-1 19-4 19-3 19 4 19 0 18-1 19 3 19 1 19 3 19 6 18 4 19 4 19 0 19 0 19 2 19 0 18-3 19-6 19-1 19 6 19 7 19 4 18-3 19 4 19 10 19 11 19 4 18-3 19-1 19-1 19 4 19 4 19-6 18-1 19 4 19 1 19-1 19-1 19 3 18 0 19-7 19-7 19 6 19 6 18-3 19 1 19 7 19 3 19-1 19 4 18 2 19 1 19 0 19-3 19 2 19 4 18 2 19-2 19 4 19 9 19 1 18 2 19 2 19 0 19 0 19 0 19-1 18-2 19 1 19 3 19 3 19 3 19 0 18-6 19 2 19-1 19-3 19 4 18 7 19 3 19-5 19 1 19 4 19-4 18-2 19 4 19 2 19 1 19 2 19-2 18 1 19-2 19 0 19 5 19-1 18 0 19 7 19 9 19 4 19 3 19-1 18-2 19-3 19-2 19-5 19-3 19 1 18 3 19 3 19-2 19-3 19-4 18 3 19 9 19-1 19-10 19-5 19-1 18 0 19 0 19 3 19 0 19 2 19 3 18 2 19 2 19-3 19-4 19-1 18 4 19 0 19-5 19 0 19 9 19 12 18 3 19-6 19-8 19-2 19 6 19 2 18-3 19-3 19 1 19 8 19-2 18-4 19 3 19-2 19-2 19 7 19 2 18-4 19 1 19 0 19-1 19 2 19 2 18-2 19-1 19 4 19-7 19-7 18 9 19 7 19 0 19 2 19 0 19 0 18 8 19 8 19 3 19-1 19 0 19 1 18 3 19 0 19-12 19-3 19 12 18 6 19-3 19-8 19-3 19 7 19 6 18-3 19-8 19-10 19-1 19 7 19 4 18 4 19 2 19 1 19 0 19-1 18-3 19-6 19 0 19 6 19 2 19-6 18-1 19 4 19-1 19 4 19 2 19-7 18-4 19 1 19 6 19 8 19 2 18-2 19-2 19-2 19-2 19 4 19 2 18 4 19 6 19-4 19-7 19 0 19 2 18 2 19 3 19 6 19 6 19 0 18 3 19-7 19-8 19-3 19-1 19 1 18 4 19 2 19-5 19-2 19 2 19 4 18-1 19-7 19-3 19 2 19 6 18 11 19 11 19 3 19-5 19-6 19-2 18-4 19-2 19-1 19 1 19 3 19 2 18-5 19-1 19 3 19-3 19-5 18-1 19-1 19-2 19 0 19 5 19 9 18 4 19-6 19-6 19 3 19 8 19 4 18-2 19-2 19 7 19-2 19-7 18 5 19 7 19 0 19 2 19 2 19-4 18-7 19-3 19-1 19-3 19 2 19 3 18 2 19 0 19 1 19 5 19 2 18 0 19-5 19-3 19 4 19 4 19 1 18-3 19-2 19 3 19 3 19 1 19-1 18 5 19 8 19-6 19-8 19 0 18 5 19 8 19 4 19-1 19 3 19-1 18-10 19-8 19 2 19 1 19-3 19 3 18 1 19-4 19-2 19 6 19 7 18-5 19-8 19 1 19 4 19 2 19 4 18 5 19-1 19-4 19 2 19-1 19-3 18 4 19 7 19-3 19-8 19-7 18-2 19 5 19 8 19-5 19-1 19 4 18 3 19 6 19 2 19-2 19 0 19-2 18 0 19 1 19-3 19-1 19 1 18-2 19 4 19 1 19-5 19 6 19 7 18-5 19-4 19 5 19 4 19-4 19-6 18-3 19 3 19 6 19 0 19 0 18-1 19-2 19 2 19 5 19 1 19 1 18 4 19-2 19-7 19-3 19 5 19 5 18-4 19-5 19 1 19 0 19-3 18 0 19 6 19 6 19-2 19-3 19-5 18-11 19-6 19-2 19 4 19 5 19 1 18 2 19 0 19 0 19 5 19-3 18-1 19 3 19 4 19 3 19-10 19 3 18 14 19 1 19 3 19 1 19-7 19-6 18 3 19 1 19-1 19 0 19 2 18 7 19-6 19-9 19 8 19 12 19 8 18 0 19-10 19 0 19 8 19 1 19-2 18 1 19 0 19-4 19-6 19 3 18 0 19-6 19-2 19-3 19-8 19-5 18 3 19 7 19 6 19 2 19-4 19-1 18 2 19-3 19-1 19 2 19 9 18 7 12 0 0 1331 82 0 0-882 4-23 4-22 4-19 4-18 4-16 4-15 5-14 4-13 4-12 4-10 4-8 4-8 4-8 4-6 5-6 4-5 4-4 4-4 4-3 4-2 4-2 4-1 4-2 5-5 4-5 4-5 4-4 4-3 4-2 4-1 4-2 5-1 4-1 4-1 4-1 4-1 4-1 4 0 4 0 4 0 5 0 4 0 4 0 4 0 4 0 4 0 4 0 4 0 5-1 4 0 4-1 4-1 4-2 4-1 4-1 4 0 4 1 5 0 4 0 4 0 4-1 4-1 4-1 4-1 4-1 5-1 4-1 4-1 4 0 4 0 4 0 2 1 19 1 19 1 18 0 19 0 19-1 19-1 19 1 18 4 19 3 19-3 19-5 19 0 19 2 18 2 19 1 19-1 19-3 19 0 19 3 18 3 19 0 19-4 19 0 19 6 18-2 19-4 19 2 19 0 19-4 19-1 18 2 19 2 19-1 19 2 19 4 19-2 18-5 19 2 19 0 19-1 19 1 18 3 19 0 19-3 19-3 19 3 19 2 18-1 19-1 19 1 19 1 19-1 19-3 18 0 19-1 19 2 19 3 19 4 18 0 19-1 19 1 19 3 19 2 19-4 18 0 19 3 19-1 19-2 19 3 19 0 18-2 19 4 19 1 19-1 19 1 18 1 19 0 19-4 19-7 19-4 19 9 18 3 19 0 19 3 19-3 19-4 19 0 18-1 19 0 19 1 19-4 19-2 18 1 19 2 19-1 19 1 19 3 19 0 18 4 19 1 19-1 19 2 19 0 19 3 18 1 19-4 19-4 19-2 19 0 18-2 19 0 19 5 19 5 19-5 19-6 18 0 19 4 19 0 19-1 19 4 19 3 18-6 19 0 19 5 19 0 19-4 18-1 19 0 19 3 19 4 19-3 19-4 18 3 19 5 19-7 19-4 19 1 19 0 18 1 19-7 19-5 19 3 19 2 18 2 19 0 19 0 19 3 19-3 19-6 18 5 19 3 19-1 19-5 19-7 19 2 18 4 19-1 19 1 19 2 19-3 18-3 19-1 19 3 19 3 19-1 19 0 18 3 19 2 19 1 19 7 19 4 19-2 18-6 19-3 19-1 19 0 19 1 18 1 19-3 19-2 19 1 19 3 19 0 18 0 19 5 19 3 19-2 19-3 19 3 18 1 19 1 19 2 19-6 19-6 18 1 19 3 19-1 19-6"/>
<path stroke="#f0f" d="M6224 26893l18 4 19 2 19 2 19 0 19-3 18-1 19 1 19 4 19-7 19-4 19 4 18-2 19-1 19 0 19-11 19-1 19 7 18 0 19 2 24 4 0-9321 3 0 4 3075 4 2294 5 1384 4 834 4 503 4 305 4 183 4 111 4 67 4 42 5 25 4 16 4 10 4 7 4 6 4 3 4 4 4 2 4 2 5 2 4 1 4-2 4-32 4-30 4-27 4-25 4-22 5-23 4-22 4-21 4-19 4-17 4-14 4-13 4-11 4-11 5-9 4-9 4-8 0-1 19-24 19-17 19-11 19 3 19 5 18-1 19-5 19 6 19 9 19-1 18-2 19 10 19 8 19 2 19-5 19-9 18 10 19 11 19-2 19-1 19 0 19 0 18 0 19 3 19 7 19 4 19-1 18 2 19 12 19 10 19 3 19-2 19-1 18 2 19-3 19-4 19 9 19 15 19 3 18-4 19-2 19 7 19 13 19 6 18 2 19-1 19-4 19 3 19 9 19 4 18 0 19-6 19-1 19 10 19 9 19 3 18 4 19 1 19-2 19-3 19 3 18 8 19 0 19-5 19-2 19 2 19 1 18 1 19 8 19 4 19-4 19 0 19 9 18 15 19 9 19 7 19-3 19-2 18-3 19 4 19 2 19-2 19 9 19 9 18 4 19-2 19 0 19 9 19 8 19-1 18-8 19 1 19 7 19 5 19 3 18 7 19 2 19-8 19 2 19 6 19-2 18 3 19 3 19 2 19 3 19 5 19 3 18 3 19 2 19 0 19-3 19 1 18 4 19-2 19-3 19-3 19 2 19 3 18 0 19 0 19 5 19 4 19 9 19 7 18-5 19 0 19 2 19-4 19-1 18-1 19-1 19 4 19 8 19 4 19 3 18 0 19-6 19-10 19 0 19 7 19 13 18 4 19-5 19-1 19-1 19 10 18 6 19-3 19-4 19 1 19 6 19 2 18 3 19 5 19-1 19-4 19 4 19 8 18 0 19-9 19-5 19 3 19 8 18-2 19 1 19 2 19-5 19 3 19 4 18-2 19 2 19 7 19 4 19 3 19-1 18-7 19 0 19-1 19-3 19 6 18 12 19 4 19 3 19 2 19 2 19 2 18-3 19-8 19-1 19 4 19 9 19 3 18-6 19-1 19 5 19 2 19-8 18 0 19 0 19 0 19 9 19 5 19 2 18-5 19 1 19 12 19 5 19-7 19-7 18 4 19 13 19 5 19-7 19-6 18 2 19 6 19 0 19 4 19 10 19 5 18-2 19-4 19-1 19 1 19-7 19 2 18 11 19 5 19-1 19-8 19-8 18 5 19 12 19 1 19-8 19-9 19 3 18 4 19-9 19-5 19 8 19 9 19 6 18 0 19-7 19-5 19-5 19-1 18 3 19 1 19 6 19 6 19-2 19-5 18-4 19 0 19 8 19 5 19 2 19-4 18-6 19 2 19 7 19 4 19-2 18 2 19 2 19 2 19 0 19-1 19 2 18 3 19 2 19 3 19-1 19-3 19 5 18 4 19-2 19-5 19 2 19-1 18 0 19 3 19 0 19 1 19 1 19 3 18 0 19-8 19-7 19 2 19 6 19 2 18-2 19-4 19 5 19 6 19-2 18-2 19 1 19 4 19 0 19-13 19-9 18-1 19-6 19-3 19 6 19 6 19-2 18-1 19 6 19-2 19 2 19 11 18 5 19 4 19-1 19-3 19 2 19 4 18 2 19-1 19 0 19 4 19-4 19-10 18-1 19 6 19 7 19 3 19-8 18-2 19 4 19 4 19-2 19-2 19 5 18 4 19 4 19-1 19-3 19-2 19 5 18 5 19-3 19-4 19 1 19 0 18 5 19 6 19 1 19 1 19 3 19 1 18-7 19-2 19 4 19 7 19 9 19 1 18-3 19-5 19-1 19 2 19-5 18-11 19-2 19 3 19 3 19 3 19-1 18-1 19 5 19 6 19 3 19 0 19 0 18-3 19-3 19 4 19 6 19-1 18-3 19 2 19-1 19-1 19-1 19-4 18 1 19 3 19 3 19 3 19-1 19 0 18 4 19 9 19 2 19-4 19-1 18-1 19 3 19 3 19-4 19-4 19 0 18-5 19-5 19 4 19 5 19 2 19 4 18 5 19 2 19-1 19-7 19-9 18 0 19 7 19 9 19 0 19-8 19-2 18 3 19-1 19 1 19 6 19-1 19-7 18-6 19 0 19 4 19 8 19 1 18-4 19-2 19-8 19-5 19 5 19 8 18 4 19-1 19 3 19-1 19-3 19 0 18 7 19 7 19-4 19-5 19 1 18 8 19 3 19-9 19-15 19-3 19 6 18 8 19 2 19 0 19 8 19 1 19-10 18-4 19 5 19 4 19 1 19 0 18-2 19-4 19-5 19-1 19 1 19 4 18 5 19 0 19 6 19-2 19-2 19 0 18-4 19 2 19 6 19-1 19-2 18 5 19 4 19-7 19-8 19 2 19 10 18-4 19-11 19 4 19 7 19 1 19 0 18 4 19 7 19 0 19-5 19-3 18 1 19 1 19 0 19 2 19 1 19-3 18-9 19-3 19 10 19 7 19-5 19-6 18-3 19-4 19-5 19 2 19 3 18-3 19 2 19 9 19 3 19-1 19-6 18 2 19 7 19 1 19-2 19-1 19-5 18 4 19 12 19 4 19-11 19-11 18 5 19 5 19-7 19-6 19 8 19 6 18-1 19 6 19 6 19-5 19-2 19 6 18 0 19-7 19-6 19 9 19 10 18 1 19-3 19-6 19-3 19 2 19-4 18 0 19 5 19 0 19-2 19-2 19 1 18 4 19 2 19 0 19 0 19 3 18-1 19 0 19 6 19 0 19-1 19 2 18-4 19-3 19 2 19-1 19-1 19 3 18 6 19 2 19 1 19 3 19-2 18-2 19 1 19-3 19-5 19 1 19 3 18 2 19-10 19-11 19-1 19 1 19 2 18 0 19 4 19-2 19 1 19 11 18 4 19-2 19 1 19 6 19-3 19-10 18-3 19-1 19 1 19 1 19 3 19 3 18-5 19-1 19 0 19-3 19 3 18 12 19 4 19-5 19-1 19 3 19-8 18-10 19-2 19 5 19 3 19 1 19-1 18 1 19 6 19 2 19 0 19-1 18-7 12 0 0 1405 82 0 0-882 4-22 4-20 4-18 4-16 4-16 4-14 5-14 4-12 4-11 4-10 4-10 4-8 4-8 4-7 5-7 4-6 4-5 4-5 4-5 4-5 4-5 4-4 4-4 5-3 4-2 4-3 4-2 4-2 4-1 4-2 4-2 5-1 4-1 4-1 4-1 4-1 4-1 4 0 4 0 4 0 5-1 4 0 4-1 4 0 4-1 4 0 4-1 4 0 5-1 4 0 4-2 4-3 4-3 4-3 4-2 4 0 4 0 5 0 4 0 4 1 4 0 4 1 4 0 4 1 4 0 5 0 4-1 4 0 4 1 4 2 4 1 2 1 19 3 19-1 18-1 19 1 19-1 19-1 19 1 18 2 19 0 19 1 19 3 19 2 19-3 18-8 19-2 19 3 19 4 19 1 19-2 18-4 19-3 19 1 19 0 19 0 18 0 19-1 19 0 19 2 19-2 19-2 18-2 19 4 19 6 19 0 19-3 19 0 18 4 19 7 19 5 19 0 19-4 18-2 19-1 19 2 19 3 19-3 19-9 18-2 19 1 19 3 19 0 19-4 19-1 18 1 19 0 19 0 19-1 19 1 18 2 19 0 19 2 19-4 19-5 19 0 18 3 19 1 19 1 19 3 19 7 19 0 18-9 19-7 19-3 19 0 19 3 18 1 19 1 19 0 19 2 19 2 19 2 18 1 19 3 19-2 19 0 19 4 19 1 18 1 19-1 19-4 19 0 19 2 18-4 19-7 19 0 19 5 19 2 19 0 18 0 19 5 19 4 19-7 19-5 19 1 18 1 19 1 19 1 19-2 19-1 18 2 19-1 19 0 19 1 19 1 19-3 18 1 19 1 19 0 19 0 19-1 19-1 18-2 19 1 19 2 19-3 19-3 18 7 19 3 19-1 19 1 19 2 19-2 18-1 19 1 19-3 19 4 19 2 19-1 18-3 19-6 19-4 19 2 19 5 18 5 19-1 19-4 19-3 19-1 19-3 18 0 19 1 19 0 19 2 19 0 19-4 18-1 19 4 19-1 19-3 19-5 18-1 19 9 19 10 19 3 19 3 19-1 18-3 19-4 19-3 19-5 19-1 19 4 18 0 19-6 19 0 19 7 19 2 18-9 19-3 19 4 19 2 19 7 19 4 18-1 19 1 19-1 19-5 19-1 19 4 18 2 19-1 19 1 19 4 19 0 18-3 19-4 19-6 19-3"/>
<path stroke="#ff0" d="M6224 26887l18 5 19 1 19-5 19-3 19 2 18 0 19 3 19 0 19-3 19 0 19 0 18 3 19-1 19-1 19-2 19 4 19 6 18 0 19-5 24 2 0-9321 3 0 4 2877 4 2296 5 1385 4 835 4 505 4 304 4 184 4 111 4 67 4 41 5 26 4 16 4 10 4 7 4 5 4 4 4 4 4 3 4 1 5 0 4 0 4-2 4-31 4-30 4-27 4-24 4-22 5-20 4-19 4-17 4-16 4-14 4-10 4-8 4-8 4-7 5-6 4-5 4-4 0-1 19-14 19-5 19-3 19-6 19-1 18 3 19-2 19-3 19 10 19 16 18 6 19-3 19-3 19 6 19 7 19 4 18 5 19 9 19 8 19 2 19 2 19 8 18 9 19 11 19 9 19 2 19 0 18 2 19 7 19 6 19 6 19 6 19-4 18-2 19 10 19 8 19-5 19-4 19 11 18 10 19 1 19-3 19 5 19 12 18 7 19-1 19 4 19 9 19 5 19-3 18-7 19 4 19 10 19 5 19 2 19-1 18-4 19-1 19 13 19 9 19-2 18 4 19 8 19 6 19 4 19 0 19-4 18-3 19 6 19 9 19 3 19 2 19 1 18 5 19 3 19 11 19 13 19 2 18-4 19-1 19 0 19 3 19 6 19 5 18 1 19 7 19 6 19-7 19 3 19 10 18 1 19-9 19 2 19 10 19 2 18 0 19 3 19 2 19 2 19 3 19-3 18-1 19 7 19 4 19 4 19 3 19-3 18-4 19 6 19 9 19 0 19-4 18 1 19 6 19 4 19-2 19-3 19 0 18 1 19 5 19 8 19-4 19-3 19-3 18 2 19 4 19-6 19-4 19 9 18 9 19 6 19 3 19 2 19 8 19 7 18 0 19 5 19 3 19-5 19 1 19 3 18-3 19 0 19-3 19-2 19 9 18 7 19-5 19-6 19-1 19 0 19 7 18 5 19 2 19 4 19 3 19 0 19-3 18-3 19-3 19 3 19 4 19 10 18 5 19-4 19-2 19 1 19 6 19 4 18-1 19-1 19 0 19 9 19 3 19-7 18 2 19 5 19 0 19-11 19-11 18-5 19 1 19 3 19 1 19 2 19 8 18 4 19-4 19-3 19 5 19 2 19 1 18 2 19 5 19 8 19 0 19-6 18 9 19 8 19-2 19 2 19 4 19 0 18-3 19 1 19-1 19-3 19 10 19 7 18-3 19-5 19-9 19-8 19 5 18 8 19 2 19-1 19-4 19-2 19 3 18 8 19 2 19 1 19-3 19-3 19-3 18-2 19 4 19 5 19-1 19-1 18 3 19 8 19 5 19 8 19 8 19-2 18-5 19-2 19 4 19 10 19 1 19-8 18-2 19 2 19-3 19 1 19 0 18 0 19 1 19 0 19-5 19 4 19 2 18-5 19 5 19 4 19-8 19-2 19 2 18 4 19 9 19 5 19-3 19 3 18 1 19-8 19-3 19 7 19 2 19 0 18 2 19-5 19-2 19 4 19 1 19 3 18 0 19-5 19-5 19 7 19 8 18-3 19-3 19 2 19 5 19 0 19-6 18-4 19 5 19 6 19 4 19 3 19-3 18 4 19 3 19-5 19-5 19-2 18 6 19 12 19 9 19 1 19-7 19-10 18 1 19 3 19-1 19-3 19-5 19-1 18-3 19-3 19 3 19 2 19 2 18 8 19 2 19-5 19-2 19 2 19 7 18 9 19 7 19-6 19-8 19-1 19-5 18-5 19 7 19 10 19-2 19-2 18 1 19-2 19 6 19 11 19 4 19-4 18-3 19-3 19-4 19-2 19 6 19 9 18 2 19-6 19-7 19-4 19 1 18 5 19 4 19-2 19-8 19-1 19 8 18-1 19-1 19 2 19-3 19 1 19 7 18 5 19-5 19-8 19-2 19 2 18 9 19 11 19 6 19 1 19-7 19-6 18-2 19 0 19 7 19 4 19-4 19-6 18 4 19 2 19-4 19-3 19-6 18 0 19 14 19 6 19-5 19 0 19 1 18-1 19 1 19 0 19-2 19 0 19-2 18 0 19 6 19 3 19 4 19 1 18-2 19 0 19 2 19 5 19 5 19-6 18-9 19-3 19-2 19 3 19 2 19-2 18 5 19 2 19-8 19-2 19 2 18-2 19-1 19 2 19 5 19 8 19 2 18 1 19 0 19-3 19-3 19 2 19 5 18 3 19 0 19-1 19 0 19 2 18-6 19-7 19 7 19 14 19 6 19 0 18-4 19-7 19-3 19 3 19 1 19-4 18-2 19 13 19 13 19 0 19-6 18-10 19-4 19 4 19 2 19 0 19-7 18-3 19 5 19 2 19-3 19-6 19-7 18 2 19 6 19 0 19 0 19 3 18 6 19 1 19-8 19-2 19 8 19 0 18-7 19 2 19 7 19 2 19 0 19 1 18 7 19 1 19-9 19-3 19 2 18 3 19 0 19 2 19 3 19 1 19 2 18-1 19-4 19-1 19-2 19-6 19-7 18-4 19 3 19 7 19 0 19 0 18-1 19 1 19 0 19 0 19 4 19 4 18 1 19-10 19-4 19 4 19 2 19-1 18 0 19-3 19-2 19-1 19-1 18 5 19 2 19 1 19 5 19-1 19-4 18 1 19-1 19-5 19-1 19-3 19 0 18 7 19 3 19 3 19 3 19 4 18 6 19 0 19-3 19-5 19 1 19 5 18-5 19-7 19-1 19 9 19 13 19 4 18-4 19-7 19-3 19 3 19-1 18-3 19 1 19 5 19 0 19-3 19 2 18 6 19-1 19-6 19 2 19 2 19 1 18 7 19 4 19-2 19 0 19-5 18-4 19 4 19 5 19 3 19 0 19-1 18 2 19 2 19 2 19 0 19 2 19 2 18-4 19-2 19 2 19-2 19-6 18-2 19 4 19 8 19 4 19-2 19-2 18 2 19 3 19 1 19-1 19-2 19-7 18-8 19 5 19 7 19-4 19-10 18 4 19 9 19 2 19 3 19 0 19 1 18 4 19-4 19-7 19-5 19 8 19 6 18-10 19-1 19 4 19 3 19 3 18-1 19-1 19 6 19 5 19-8 19-6 18 3 19 7 19 2 19-3 19-7 19-4 18 2 19 2 19-1 19-5 19-3 18 4 12 0 0 1420 86 0 0-880 4-22 4-20 4-18 4-16 4-15 5-14 4-13 4-12 4-11 4-10 4-10 4-9 4-8 4-8 5-7 4-6 4-7 4-5 4-5 4-4 4-3 4-3 5-3 4-2 4-1 4-1 4-2 4-1 4-1 4-1 4-1 5 0 4-2 4-2 4-2 4-2 4-1 4 0 4-1 5 0 4-1 4 0 4 0 4-1 4 0 4-1 4 0 4 0 5-1 4 0 4-1 4-1 4-1 4-1 4-1 4-1 5 0 4-1 4 0 4 0 4 2 4 1 4 2 4 1 4 1 5 1 4 1 4 0 4 0 4 0 4-1 2 0 19-6 19-1 18 1 19-2 19 0 19 2 19 1 19-1 18 1 19 3 19-2 19-6 19-3 18 5 19 2 19-6 19 2 19 4 19 2 18 5 19 3 19-1 19 1 19-1 19-6 18-5 19 0 19 0 19-5 19-2 18 1 19 1 19 2 19 2 19 0 19 1 18 3 19 1 19-7 19 0 19 2 19-3 18 1 19 4 19 3 19-1 19-1 18 2 19 7 19 1 19-8 19-3 19 3 18 3 19 4 19-3 19-3 19 4 19 2 18 0 19 2 19-1 19-3 19-3 18-2 19 1 19-3 19-3 19 1 19 0 18-1 19 3 19-3 19 0 19-1 19 0 18 0 19-2 19-4 19-1 19 4 18 3 19 6 19-1 19-3 19-3 19-3 18 2 19 6 19 2 19-7 19 0 19 1 18-2 19 6 19 5 19-2 19-5 18-1 19-1 19-1 19 1 19 1 19 2 18 2 19 1 19-2 19-1 19 0 19-1 18 3 19 2 19 2 19 3 19 0 18 4 19 0 19-3 19 2 19 2 19 0 18-2 19-4 19 0 19-3 19-5 19 0 18 3 19 0 19-2 19 1 19 5 18 5 19-2 19-4 19 0 19 0 19-3 18-5 19-1 19 3 19 3 19 2 19 0 18 1 19 3 19 2 19 1 19-2 18-3 19 0 19 0 19-2 19-1 19 4 18 3 19 3 19-2 19-6 19 1 19 1 18-4 19 2 19 1 19-5 19-4 18 3 19-1 19-2 19 5 19-1 19-5 18-4 19-2 19 4 19 6 19 3 19 1 18 1 19 5 19 2 19-4 19-2 18-1 19-1 19 0 19-3 19-4 19-2 18 4 19 4 19 1 19 6 19-1 19-5 18-1 19 1 19 0"/>
<path stroke="#808000" d="M6224 26886l23 8 24 0 23-4 24-3 23 1 24 4 23-3 24 5 23 0 24 2 23 1 24-6 23 8 24 0 23-9 29 3 0-9321 3 0 4 2710 4 2295 5 1385 4 835 4 504 4 303 4 184 4 112 4 67 4 41 5 24 4 15 4 9 4 5 4 3 4 1 4 1 4 1 4-1 5 0 4 0 4-4 4-34 4-30 4-26 4-23 4-20 5-17 4-14 4-11 4-9 4-7 4-6 4-5 4-6 4-6 5-5 4-5 4-4 0-1 24-2 23-2 24 6 24 10 23 5 24 4 23 11 24 4 23 5 24 9 23 12 24 5 23 9 24 3 23 3 24-2 23 0 24 8 23 16 24 1 24-1 23 9 24 11 23 3 24 6 23 11 24 4 23 3 24 8 23 7 24 8 23-6 24 3 23 5 24 15 23 10 24-5 24 1 23 4 24-7 23 5 24 10 23 7 24 18 23 16 24-4 23 11 24 5 23-4 24 2 23 9 24 2 23 5 24 4 24 4 23 5 24 6 23-2 24 16 23-6 24-1 23 8 24 4 23 0 24-4 23 10 24 14 23 0 24 1 23-4 24 14 24 13 23-1 24 1 23 6 24-1 23 4 24-5 23 2 24 3 23 4 24 6 23 3 24 4 23-1 24 9 23 3 24 13 24 3 23-2 24-3 23 4 24 12 23 1 24-3 23 2 24 13 23-3 24 4 23-9 24 2 23 4 24 2 23 4 24-2 24-3 23 3 24 14 23-5 24-10 23 2 24 8 23 13 24 12 23-2 24-4 23-5 24-4 23 12 24 3 23-2 24 13 24-1 23 3 24 2 23 6 24 7 23-1 24-5 23-4 24 12 23 9 24-5 23-1 24 1 23 7 24 2 23-2 24-1 24-2 23-9 24 2 23-1 24 1 23-8 24 9 23 10 24 3 23 6 24 6 23 8 24 4 23-4 24 2 23-3 24 3 24 1 23 0 24-7 23 12 24-3 23 3 24 5 23 10 24 4 23-1 24-3 23-8 24 8 23 7 24 11 23 4 24-3 24-4 23-3 24-3 23-4 24 12 23 9 24-8 23-2 24 6 23 7 24 3 23-15 24-5 23 1 24 12 23-1 24 3 24 14 23 4 24 0 23-5 24-7 23 6 24 8 23 4 24 1 23 1 24-12 23-18 24 3 23 9 24 15 23-5 24 8 24 11 23 4 24 7 23 1 24-13 23 2 24-4 23 4 24-2 23 4 24-6 23-9 24-1 23 6 24 9 23 5 24-9 24 6 23 5 24 7 23 1 24-14 23 5 24 7 23 4 24-4 23-11 24-4 23 1 24-8 23 0 24 8 23 2 24 1 24 4 23 6 24 9 23-3 24 3 23 5 24-1 23-7 24-4 23-1 24 5 23 5 24-6 23-3 24 11 23-1 24-4 24 6 23 0 24 3 23 2 24-1 23-4 24 17 23-3 24-2 23-6 24 4 23 3 24-13 23 3 24-2 23-5 24 7 24 3 23 3 24 7 23-3 24-12 23-4 24-5 23-6 24 11 23 8 24-2 23-3 24 0 23 8 24 7 23-5 24 7 24 2 23 1 24 5 23-2 24-13 23 8 24 12 23 1 24-6 23 7 24 0 23-4 24 0 23-6 24 6 23-4 24-4 24 8 23-9 24 6 23 10 24-1 23 3 24-7 23-10 24 8 23-6 24-2 23-1 24-1 23-3 24 4 23-6 24-2 24-2 23 6 24 14 23-6 24-1 23 5 24 3 23 0 24 1 23 1 24-3 23-4 24-3 23 4 24 2 23-1 24-7 24 5 23-3 24 0 23 5 24-8 23-3 24 9 23 4 24 1 23-10 24-8 23 16 24 6 23 0 24-2 23 1 24 8 24-11 23 0 24 9 23-2 24 6 23 3 24-12 23 2 24 7 23 1 24-8 23-4 24 12 23 3 24 15 23-1 24-1 24-1 23 0 24 6 23-1 24-5 23-4 24 4 23-3 24-3 23-3 24 6 23 9 24-6 23-8 24-1 23 6 24 0 24 0 23 2 24-11 23-4 24 0 23-1 24-3 23 3 24 11 23 9 24 11 23-7 24-15 23-1 24 6 23-7 24-2 24-1 23 2 24-2 23 7 24-4 23-12 24 2 23 4 24 7 23-4 24-3 23-1 24 6 23 6 24 3 23 2 24-3 24-8 23-3 24 8 23-3 24-4 23 10 24 4 23-2 24-4 23 0 24 4 23-12 24-2 23 17 24 1 23-9 24-7 24 0 23-1 24 8 23 2 24-6 23 13 24 5 23-8 24 3 23 1 24-16 23-1 24 2 23 4 24 9 23 1 24 0 24 3 23 3 24-7 23 2 24 2 23-4 24 1 23 1 24 3 23 8 24-2 23-12 24-2 23 8 24-6 23 2 24 18 24-4 23-5 24 3 23-12 24-4 23 0 24 9 23 0 24-7 23 1 24 11 23-8 24 6 23 6 24-6 23-4 24-3 24-6 23 10 24 6 23-16 24 5 23 7 24-9 23 1 24 11 23 4 24 1 23-2 24 0 23 8 24-3 23 1 12 0 0 1463 90 0 0-870 4-21 4-20 4-18 4-16 5-14 4-14 4-15 4-13 4-12 4-12 4-10 4-9 4-7 5-7 4-6 4-6 4-5 4-4 4-4 4-4 4-3 5-3 4-2 4-4 4-3 4-2 4-3 4-2 4-2 4-2 5-2 4-2 4-2 4-2 4-2 4-2 4-2 4-2 5-1 4-2 4 0 4 0 4 0 4 0 4 0 4 1 4 0 5 1 4 0 4 1 4 0 4 0 4 0 4-1 4 0 5 0 4-1 4 1 4 0 4 1 4 1 4 0 4 1 4 0 5 0 4 1 4 0 4 0 4 0 4-2 4-1 2 0 24-1 23 0 24-6 23-2 24 3 23 3 24 3 23 3 24-1 23-4 24-1 23 5 24-4 23-2 24-1 24-6 23-1 24 3 23 2 24-2 23-1 24 2 23 3 24 1 23-5 24-1 23 1 24-3 23 1 24 1 23 0 24 1 24 0 23 1 24 3 23 0 24 1 23-4 24-7 23 2 24 4 23 0 24-3 23 2 24 6 23 1 24-4 23-1 24 0 24-1 23 1 24-2 23 1 24-1 23-5 24 1 23 2 24-4 23 2 24 4 23-3 24-4 23 1 24 3 23-1 24-2 24 3 23 3 24-1 23-2 24 2 23 4 24 6 23-1 24-6 23-2 24-1 23 2 24 1 23-1 24-5 23-3 24 0 24 1 23-3 24 2 23 4 24-1 23-5 24-1 23 4 24 3 23 0 24-4 23-3 24 4 23-2 24 0 23 3 24 0 24 4 23 8 24-4 23-5 24 2 23 0 24-1 23-2 24-3 23-3 24 2 23 7 24 4 23 0 24-3 23-3 24 4 24 1 23-1 24-3 23-1 24 0 23 0 24 1 23 0 24 1 23 0 24 0 23-1 24 1 23 1 24-4 23-1 24 1 24 1 23-1 24-6 23 2 24 8 23 0 24-6 23-2 24 1 23-1 24 2 23 3 24-1 23-3 24-3 23 0 24 1 24 4 23 2 24 0 23 3 24 6 23-2 24-8"/>
<path stroke="#000080" d="M6224 26886l23 0 24 2 23 0 24 9 23-1 24-6 23 4 24 3 23-6 24 1 23-4 24-1 23 5 24-2 23 1 29 2 0-9321 3 0 4 2483 4 2296 5 1385 4 836 4 504 4 305 4 186 4 114 4 69 4 44 5 27 4 16 4 10 4 7 4 4 4 3 4 2 4-2 4-2 5-3 4-4 4-5 4-25 4-18 4-14 4-12 4-9 5-8 4-7 4-5 4-5 4-3 4-3 4-2 4-1 4-1 5 0 4 0 4 1 24 5 23 13 24 1 24 8 23 16 24 13 23 16 24 0 23 13 24 12 23-1 24 8 23 16 24 15 23 5 24 6 23-3 24 6 23 2 24-5 24 18 23 16 24 17 23 2 24-3 23 8 24-6 23 7 24 13 23 10 24-1 23 9 24 4 23 4 24 5 23 0 24-4 24 8 23 16 24 6 23 5 24-5 23 3 24 5 23 7 24 11 23-7 24 10 23 14 24-6 23 4 24 14 23-5 24-2 24 17 23 12 24-4 23-9 24-4 23 10 24 10 23 4 24 1 23 5 24 7 23 8 24 6 23-3 24-4 23 5 24 4 24 3 23 16 24 7 23-4 24 6 23 1 24 16 23-4 24 4 23 1 24-3 23 0 24 5 23-2 24 3 23-2 24 14 24 6 23 3 24-3 23-2 24 11 23 7 24 3 23 6 24-2 23 11 24-1 23-11 24 3 23 2 24 0 23-2 24 1 24 0 23 5 24 16 23 0 24 6 23 1 24 6 23-3 24-10 23 5 24 6 23 7 24 14 23-10 24 6 23 10 24 1 24-5 23-4 24 3 23 12 24 5 23-3 24 1 23 1 24 3 23 17 24 0 23-10 24 2 23 9 24 9 23 3 24-7 24-5 23-4 24 16 23 2 24 2 23-5 24-9 23 11 24 7 23 1 24 2 23 11 24-2 23 0 24 2 23 2 24-3 24-4 23-2 24 7 23 10 24 9 23-7 24-6 23 1 24-4 23 5 24-2 23-7 24 0 23 12 24 4 23 6 24 17 24 0 23-7 24 14 23 12 24 2 23-15 24 0 23-1 24-2 23 0 24 7 23-7 24-1 23-1 24 9 23 7 24-8 24 4 23 5 24 2 23 0 24 7 23 1 24 6 23 8 24-3 23-12 24-5 23 9 24-6 23 1 24 5 23-3 24 0 24 10 23 8 24-12 23-7 24 14 23 11 24-12 23-1 24 2 23-7 24 3 23 4 24-4 23-4 24 1 23-3 24 2 24-12 23 5 24 0 23 10 24 16 23-4 24 0 23 0 24-12 23 8 24 0 23 3 24-4 23 6 24 9 23 7 24-3 24 1 23 1 24-3 23 3 24 15 23-8 24-4 23 6 24 2 23 1 24 9 23-8 24-6 23 5 24-5 23 1 24 4 24-3 23 5 24 0 23-9 24 2 23 9 24 2 23-7 24-1 23-2 24 9 23-2 24-3 23-7 24 2 23 5 24-1 24 8 23-4 24-1 23 12 24 2 23 3 24 3 23 1 24-1 23-9 24-3 23-2 24 6 23 1 24-7 23 4 24 12 24 3 23 5 24-8 23-11 24 2 23 8 24 6 23 9 24-8 23-14 24 6 23 17 24 2 23-10 24-12 23-1 24-3 24 6 23 7 24-5 23-6 24 2 23 0 24 16 23 0 24-2 23 4 24 3 23 3 24 2 23 1 24 12 23-7 24-2 24-10 23-1 24 3 23 0 24-3 23 7 24-4 23-1 24 2 23-6 24 5 23-1 24-6 23 1 24 3 23 7 24 9 24 4 23 5 24-5 23 4 24 3 23-8 24-1 23 0 24 1 23 8 24-9 23-12 24-7 23 15 24 5 23-3 24 0 24 0 23 6 24-4 23-2 24-1 23-1 24 7 23 2 24 3 23-13 24-3 23-2 24-1 23-5 24 8 23 12 24-5 24-2 23-2 24-1 23 0 24 8 23-3 24-11 23 12 24-3 23-1 24 0 23 15 24-3 23-5 24-3 23-3 24 8 24 2 23 3 24-9 23-5 24-4 23 1 24 5 23-3 24-5 23 7 24 9 23 3 24 1 23-1 24 5 23 7 24 1 24-15 23-1 24 6 23 5 24-1 23 0 24-3 23-10 24 6 23 2 24-2 23 4 24-9 23 8 24 2 23-5 24 18 24 13 23-4 24-10 23-4 24 7 23 4 24 8 23-7 24-8 23 0 24 11 23-1 24-9 23-7 24-3 23 9 24-4 24-6 23-4 24 5 23-2 24 6 23 8 24 5 23-3 24-5 23-7 24 8 23 1 24-10 23-14 24 9 23 6 24 14 24-9 23 7 24-3 23 6 24 2 23 2 24-8 23-2 24 9 23-11 24-4 23 10 24 4 23-11 24-2 23 6 24 8 24-4 23-6 24 0 23 7 24 4 23 2 24 2 23-7 24-4 23 10 24 1 23-4 24 3 23 1 24-3 23-2 24 0 24 7 23 5 24-7 23-5 24-4 23-10 24 11 23 6 24-3 23-1 24 5 23 2 24-5 23 4 24-1 23-2 12 0 0 1478 90 0 0-878 4-24 4-21 4-20 4-18 5-17 4-14 4-13 4-12 4-10 4-9 4-9 4-8 4-9 5-7 4-7 4-6 4-6 4-5 4-5 4-4 4-3 5-4 4-3 4-4 4-3 4-3 4-4 4-3 4-2 4-1 5-1 4-1 4-1 4-1 4-1 4-3 4-2 4-3 5-2 4-2 4 0 4 0 4 0 4 0 4 0 4 0 4 2 5 1 4 2 4 1 4 2 4 0 4 0 4 1 4 0 5 0 4 0 4-1 4-1 4-1 4-1 4-1 4-1 4 0 5-1 4 0 4 0 4 0 4 0 4 0 4 1 2 0 24 2 23 5 24 6 23 3 24-5 23-10 24-5 23 0 24 4 23-1 24-3 23 1 24 1 23-2 24-3 24-1 23 3 24 1 23 0 24 6 23 5 24-5 23-6 24 0 23 1 24 2 23 2 24 3 23 2 24 0 23-2 24-4 24 0 23 7 24 0 23-4 24 0 23-1 24 2 23 1 24 0 23 3 24 3 23-6 24-8 23 0 24 5 23-2 24-6 24 0 23 3 24 4 23 2 24 1 23-2 24-5 23-4 24 2 23 2 24-1 23 1 24 2 23-2 24-3 23 2 24 4 24 0 23-3 24 2 23 6 24 5 23 1 24-3 23 1 24 5 23 2 24-2 23-3 24-4 23-2 24-1 23-4 24-9 24 0 23 1 24-3 23 3 24 4 23 7 24 6 23-5 24-3 23 4 24 0 23 1 24-2 23 0 24 5 23-4 24-4 24 1 23 0 24 2 23 3 24-1 23 1 24 1 23-1 24 1 23 2 24 1 23 4 24 2 23-2 24-4 23-3 24 0 24-3 23-2 24 3 23 2 24-1 23 2 24 0 23-3 24 2 23 4 24 1 23-3 24-5 23 3 24 7 23-1 24-3 24-3 23 1 24 6 23 2 24 1 23 0 24-3 23-2 24-3 23-1 24 1 23 0 24 1 23-3 24-2 23 0 24 3 24 2 23 1 24-7 23-3 24 2 23 0 24 2"/>
<path stroke="#800080" d="M6224 26896l18 1 19-6 19 0 19-3 19-2 18 3 19 1 19-1 19 8 19 3 19-7 18 3 19-1 19 0 19 2 19 1 19-3 18-6 19-2 24 6 0-9321 3 0 4 2295 4 2298 5 1388 4 839 4 506 4 305 4 184 4 111 4 67 4 40 5 25 4 15 4 9 4 5 4 3 4 2 4 1 4 1 4 0 5 0 4-1 4-1 4-10 4-8 4-6 4-4 4-4 5-3 4-3 4-1 4-1 4-1 4 0 4 1 4 0 4 1 5 1 4 1 4 1 19 3 19 5 19 11 19 5 19 0 18 6 19 7 19 9 19 15 19 12 18 8 19 4 19 6 19 7 19 9 19 7 18 4 19 7 19 6 19-2 19 0 19 14 18 13 19 7 19 5 19 9 19 16 18 17 19 0 19-4 19 7 19 11 19 10 18 2 19-5 19 0 19 7 19 11 19 9 18 8 19 4 19-2 19 2 19 7 18 11 19 6 19 4 19 3 19 0 19 3 18 2 19 1 19 0 19 2 19 3 19 4 18 10 19 12 19 2 19-3 19-3 18 6 19 8 19 9 19 8 19 7 19 5 18-1 19-2 19-1 19 3 19 15 19 11 18 2 19 4 19 4 19 2 19 6 18 4 19 7 19 7 19-8 19-5 19 10 18 7 19-3 19-3 19 2 19 1 19 4 18 3 19 1 19-1 19 1 19 8 18 4 19 0 19-1 19 0 19 5 19 14 18 6 19-3 19 6 19 11 19 11 19 6 18-8 19-1 19 4 19 1 19 2 18 6 19 6 19 6 19 1 19 0 19 2 18 4 19 5 19 2 19 5 19 5 19 6 18-1 19-10 19-4 19 8 19 7 18 7 19 7 19-3 19-5 19-1 19 3 18 7 19 1 19-2 19 7 19 6 19-1 18 4 19 3 19-2 19 1 19-1 18-1 19 8 19 8 19 2 19 0 19-4 18 4 19 11 19 4 19-9 19-2 19 0 18-3 19 2 19 8 19 7 19-3 18 3 19 7 19 1 19-1 19 3 19 3 18 1 19-1 19 6 19 12 19 0 19-9 18-2 19 4 19 4 19 1 19-2 18-1 19 7 19 6 19-8 19-3 19 5 18 3 19 2 19 0 19 4 19 7 19 3 18-2 19-1 19-2 19 0 19 6 18 7 19 7 19-2 19-5 19 2 19-4 18-8 19 5 19 14 19 2 19 2 19 2 18 0 19 4 19 2 19 1 19 4 18 2 19 1 19 1 19 0 19-1 19-5 18-1 19 5 19 9 19 3 19-7 19-3 18 10 19 10 19-1 19-5 19-2 18 1 19 8 19 4 19-5 19 2 19 8 18 2 19 1 19 1 19 0 19 0 19-2 18-5 19-3 19 6 19 6 19-2 18-6 19 5 19 13 19 3 19-8 19-4 18 1 19-3 19-3 19 3 19 1 19-3 18 6 19 11 19 1 19-1 19-1 18-3 19 5 19 1 19 0 19 11 19 6 18-4 19-8 19-1 19 4 19 7 19 4 18 3 19-5 19-5 19-5 19-4 18-1 19 2 19 4 19-2 19 3 19 7 18-1 19-4 19 0 19 7 19 4 19 1 18 3 19-3 19 3 19 3 19-4 18-5 19-2 19 8 19 5 19-1 19-1 18 3 19 2 19-1 19-4 19-3 19 2 18 1 19 1 19 8 19 4 19-3 18-6 19-4 19 0 19 3 19 5 19 6 18-2 19-5 19 1 19 1 19-1 19-6 18-4 19 5 19 2 19-7 19-6 18 5 19-1 19-8 19-6 19 6 19 15 18 8 19-4 19-3 19 6 19 3 19-7 18-9 19 2 19 14 19 7 19-2 18-3 19 1 19-1 19-4 19 6 19 5 18-3 19-10 19-1 19 10 19-1 19-14 18-10 19 6 19 8 19 5 19 2 18-4 19-5 19 6 19 8 19 1 19-2 18 1 19 5 19 2 19 2 19 5 19 0 18-8 19-10 19-2 19-1 19-2 18 5 19 4 19 2 19-4 19-4 19-5 18-4 19 3 19-1 19-3 19 3 19 8 18 7 19 2 19 8 19 6 19-3 18-1 19 1 19-1 19-7 19-4 19 4 18 4 19 2 19 2 19 3 19 3 19 6 18 2 19-1 19 2 19-2 19-6 18 0 19 2 19-4 19-6 19 0 19 9 18 5 19-7 19-3 19 9 19 7 19-3 18-2 19 4 19-3 19-10 19-2 18 1 19-2 19-2 19-3 19-9 19 2 18 13 19 9 19 0 19 1 19 1 19 0 18 1 19 5 19 4 19-5 19-3 18 4 19 8 19-1 19-7 19 5 19 6 18-2 19-2 19-2 19-2 19-3 19-1 18 5 19 2 19 2 19 4 19-4 18-3 19 6 19-3 19-4 19 3 19 3 18-1 19-2 19-2 19 1 19 2 19-5 18-5 19 5 19 10 19 0 19-1 18 6 19-2 19-6 19-8 19-4 19 0 18 2 19 1 19-3 19 6 19 0 19-4 18 0 19 0 19-3 19 1 19 2 18-1 19-6 19-3 19 7 19 7 19 2 18 4 19 2 19-4 19 4 19 9 19 2 18-8 19-7 19 0 19 2 19-3 18-6 19 5 19 5 19-10 19 1 19 8 18 0 19-4 19-4 19 3 19 4 19-2 18 0 19-2 19-1 19 5 19 4 18-4 19-3 19 1 19-2 19-2 19 5 18 5 19-2 19 1 19-1 19 0 19 0 18-2 19-2 19-1 19 1 19 10 18 8 19-2 19-1 19-2 19 1 19 2 18-2 19 0 19 1 19 1 19-6 19-8 18 9 19 7 19-9 19-13 19-5 18 2 19-3 19-3 19 4 19 5 19 4 18-7 19-5 19 1 19 6 19 15 19 15 18-4 19-10 19 2 19 5 19-5 18-3 19 6 19 0 19-5 19-1 19 4 18 4 19 0 19-4 19-3 19 5 19 5 18-6 19-7 19 0 19-1 19 2 18 3 19-2 19-1 19 5 19 5 19 1 18 0 19 3 19-6 19-10 19-8 19-2 18 5 19 4 19 0 19-6 19 1 18 4 19-3 19 0 19 8 19 1 19 2 18 1 19-2 19 2 19 0 19-6 19-2 18 6 19 6 19 5 19 4 19 4 18 2 12 0 0 1509 94 0 0-884 4-22 4-19 4-18 4-17 5-15 4-15 4-13 4-12 4-12 4-9 4-8 4-7 5-7 4-6 4-7 4-6 4-5 4-5 4-4 4-4 4-4 5-4 4-3 4-2 4-2 4-2 4-2 4-2 4-2 5-2 4-2 4-2 4 0 4 1 4 0 4 1 4-1 4 0 5-1 4-1 4 0 4-1 4 0 4-1 4 0 4-1 5 0 4-1 4-1 4 0 4-1 4 0 4 0 4 0 4 0 5 0 4 0 4 0 4 1 4-1 4 0 4-1 4-1 5 0 4 2 4 2 4 2 4 2 4 1 4 1 4 2 2 0 19-6 19-11 19 4 18 10 19-5 19-5 19 2 19 6 19 7 18-2 19-2 19-3 19-1 19-6 18-2 19 2 19 8 19 1 19-6 19-2 18 2 19 4 19 0 19-1 19 2 19 0 18-3 19-3 19-1 19 6 19 0 18-2 19 0 19 2 19 2 19-2 19 0 18 0 19 1 19 1 19-1 19 0 19 2 18 2 19-4 19-9 19-5 19 5 18 6 19 2 19-1 19-2 19-1 19-2 18 1 19 6 19 0 19-5 19 0 19 5 18-1 19-3 19 4 19 3 19-2 18-2 19-1 19 0 19-6 19-5 19-3 18-1 19 7 19 6 19 5 19 2 19-5 18-2 19 1 19 2 19 6 19 6 18-2 19-5 19-4 19-1 19-2 19-3 18 1 19 4 19 1 19-3 19-3 19-2 18 1 19 2 19 2 19 3 19 3 18 1 19-2 19-3 19-1 19 0 19 4 18 1 19 2 19 2 19-8 19-9 19 4 18 1 19-1 19 1 19 4 19 1 18-2 19-4 19 2 19 6 19-2 19-1 18 2 19 3 19-2 19-5 19-6 19-4 18 2 19 3 19-1 19 5 19 6 18-4 19-4 19-1 19-2 19-1 19 4 18 4 19 1 19-2 19-2 19 4 19 3 18 3 19-2 19-1 19 2 19 4 18 0 19 0 19-2 19-5 19-3 19 1 18 3 19 1 19-6 19-6 19-1 19-2 18 1 19 9 19 3 19-9 19-7 18 3 19 0 19-3 19 4 19 7 19 3 18 1 19 1 19 1 19 1 19-2 19-3 18 2 19 0 19-4 19 0 19 0 18 5 19 5 19 3 19 0 19-6 19-3 18-1 19 1 19-1 19 0 19 1 19 1 18 1 19 4"/>
<path stroke="#800000" d="M6224 26891l23-6 24 3 23 0 24 5 23 5 24-8 23-1 24 4 23 5 24-2 23 4 24-6 23-6 24-2 23 5 29 2 0-9321 3 0 4 2103 4 2297 5 1386 4 836 4 505 4 306 4 186 4 113 4 69 4 42 5 27 4 16 4 9 4 6 4 4 4 3 4 2 4 0 4 0 5 0 4 0 4 0 4-6 4-5 4-4 4-3 4-3 5-1 4-1 4 2 4 2 4 3 4 2 4 3 4 2 4 2 5 1 4 2 4 2 24-3 23 18 24 20 24 15 23 18 24 11 23 11 24 17 23 12 24 26 23 5 24 14 23 17 24 18 23 2 24 5 23-1 24 7 23 10 24 12 24 8 23 9 24 16 23 6 24 10 23 13 24 4 23 0 24 9 23 4 24 8 23 4 24 5 23 15 24 13 23 7 24 9 24 8 23 4 24 11 23 3 24 9 23 2 24 2 23-1 24 13 23 7 24-2 23-6 24-3 23 14 24 17 23 4 24-4 24 10 23 8 24 5 23 15 24 8 23-5 24-4 23 12 24 7 23 1 24-2 23 16 24 1 23 9 24 3 23 4 24 14 24-9 23 2 24 10 23 5 24-4 23 6 24 2 23 6 24 2 23-17 24 21 23 18 24-1 23-5 24 6 23 8 24 7 24 7 23 5 24-9 23-5 24 5 23 7 24-8 23 5 24 9 23-10 24 5 23 4 24 1 23 11 24 17 23-2 24 4 24 2 23-6 24 8 23 17 24-7 23-3 24 0 23 2 24-2 23 1 24 15 23 1 24 6 23 14 24-11 23 2 24 0 24 4 23 3 24 3 23 3 24 0 23 4 24 4 23-1 24 5 23 3 24 11 23-1 24-6 23-1 24 6 23 2 24 6 24 3 23-6 24 0 23 4 24 0 23-3 24 5 23 7 24 9 23-2 24 10 23 4 24-4 23-5 24 0 23 11 24-6 24-9 23 0 24 2 23 12 24 1 23 2 24 11 23 5 24-4 23 1 24 7 23 8 24 3 23-2 24 9 23-1 24-6 24-7 23 9 24 5 23 14 24-6 23-8 24 0 23 17 24-4 23 0 24 3 23 0 24 1 23 1 24-11 23 3 24 3 24 5 23-1 24-3 23 9 24 6 23 1 24-3 23-5 24 5 23-3 24 0 23-6 24 5 23 5 24-5 23 5 24 9 24-7 23 2 24 0 23-8 24-13 23 15 24 16 23 3 24-3 23 0 24-4 23 3 24-2 23 7 24 5 23-9 24 5 24 8 23-5 24-4 23-10 24 0 23 5 24 1 23-5 24 14 23 6 24 10 23-3 24 4 23 6 24-1 23 1 24-6 24-6 23-8 24-1 23-7 24 10 23 5 24 1 23 3 24-3 23 3 24 0 23-4 24-6 23-11 24 4 23 9 24 2 24 6 23-2 24 2 23 4 24-3 23 1 24 9 23 1 24-5 23-5 24-2 23 5 24 0 23 5 24 10 23-4 24 7 24 3 23 1 24-6 23 1 24 3 23 9 24-5 23 2 24-5 23-10 24 18 23-2 24-10 23-3 24-1 23-7 24 2 24 6 23-3 24 4 23-6 24-3 23 9 24 9 23 4 24 4 23-14 24 5 23-6 24-9 23 4 24 10 23 7 24-5 24-4 23 0 24 9 23-6 24 9 23 2 24 6 23 1 24-12 23 8 24 10 23 2 24-7 23 13 24-4 23 5 24-3 24 4 23 4 24-6 23-4 24-2 23 4 24-7 23-3 24 9 23 0 24 1 23-7 24 3 23-1 24-2 23 0 24-8 24-2 23-7 24 5 23 14 24-1 23 0 24 5 23-1 24-1 23-2 24 4 23-2 24 5 23-2 24-4 23-9 24 1 24 9 23 8 24 4 23 1 24-10 23 6 24 0 23 7 24 1 23 7 24-4 23-2 24-5 23-8 24-4 23 10 24 6 24-8 23 0 24 10 23-13 24-6 23-12 24 12 23 4 24 0 23 1 24-2 23 7 24 5 23 2 24 12 23 3 24-10 24-2 23-3 24-1 23 4 24-1 23-4 24 2 23 9 24 2 23-8 24-8 23 4 24-8 23 7 24 7 23 6 24-2 24-13 23 9 24-1 23-2 24-2 23-7 24-7 23-3 24 10 23 5 24 3 23-7 24 1 23 7 24-2 23 0 24-4 24 0 23 6 24-7 23-3 24 6 23 6 24 0 23-13 24 5 23 6 24 14 23-4 24-7 23-9 24 5 23-10 24 1 24 8 23 1 24-6 23 8 24-6 23 0 24 4 23-1 24 3 23 5 24-4 23-3 24 8 23 7 24-5 23 1 24 4 24 0 23-4 24-1 23 5 24 7 23-3 24 13 23-7 24 1 23-8 24 5 23-11 24-3 23 5 24-5 23 3 24-5 24 0 23-6 24 11 23 7 24-9 23-3 24 0 23 7 24 4 23 3 24-4 23-2 24-3 23 0 24-7 23 6 24 2 24-1 23-2 24 3 23-1 24 2 23 4 24-5 23 11 24-2 23-4 24-8 23 9 24-1 23-3 24-4 23 1 12 0 0 1584 98 0 0-883 4-21 4-19 4-18 5-16 4-15 4-13 4-11 4-10 4-10 4-8 4-7 4-8 5-7 4-7 4-6 4-5 4-5 4-4 4-2 4-3 5-2 4-2 4-1 4-2 4-2 4-1 4-1 4-1 4-2 5-3 4-3 4-3 4-3 4-2 4-2 4-1 4-1 5-1 4-1 4-1 4 1 4 1 4 1 4 2 4 1 4 0 5-1 4-1 4-2 4-1 4-2 4 0 4 1 4 0 5 1 4 0 4 1 4-1 4-1 4-1 4-1 4-1 4-1 5 1 4 1 4 0 4 1 4 1 4 0 4 0 4 0 2 0 24 2 23 3 24-2 23-4 24 4 23-2 24-4 23-1 24 3 23 7 24 4 24-2 23-1 24 6 23 1 24-2 23-5 24-8 23 1 24 6 23 1 24-7 23-7 24 4 23 2 24-3 23-5 24-5 24 4 23 4 24 0 23-1 24 2 23 2 24-1 23-3 24 1 23 6 24-1 23-2 24 2 23-1 24-3 23 1 24 2 24 1 23-2 24-4 23-2 24-1 23 4 24 6 23 1 24-3 23 2 24-2 23-5 24-2 23 5 24 2 23 0 24-1 24-4 23 1 24 4 23 1 24 2 23-1 24-2 23-1 24 2 23 3 24-1 23-3 24 1 23 1 24 1 23 0 24-2 24 2 23-1 24-2 23 2 24 1 23 1 24 1 23-1 24 2 23 1 24-3 23-2 24-1 23 0 24-2 23-2 24 2 24 0 23-3 24-1 23-2 24 3 23 3 24 0 23-2 24 0 23 4 24 1 23-4 24 2 23 2 24-2 23-1 24 2 24 3 23-1 24 2 23 1 24 0 23 0 24 2 23 2 24-7 23-2 24 4 23-4 24-2 23 3 24-1 23-1 24 0 24-2 23-4 24 1 23 1 24-2 23 6 24 1 23-2 24 1 23 0 24 3 23 1 24-1 23-1 24-2 23 1 24-1 24-6 23-3 24 4 23 4 24 0 23 0 24 1 23 0 24 5 23 1 24-4"/>
<path stroke="#008000" stroke-width="114" d="M6224 26907l18 6 19-1 19-2 19-5 19-4 18 11 19 4 19-2 19 0 19-1 19 4 18 2 19 1 19-7 19 4 19-3 19 0 18 0 19-4 24 2 0-9340 3 0 4 0 4 626 5 2020 4 1446 4 1033 4 738 4 527 4 378 4 270 4 195 5 140 4 100 4 73 4 53 4 38 4 27 4 21 4 15 4 13 5 11 4 9 4 7 4 7 4 6 4 7 4 6 4 5 5 4 4 3 4 2 4 3 4 2 4 1 4 2 4 2 4 2 5 1 4 2 4 2 19 8 19 6 19 11 19 8 19 7 18 21 19 20 19 11 19 11 19 17 18 22 19 19 19 12 19 2 19 1 19 7 18 10 19 11 19 14 19 15 19 9 19 0 18 6 19 12 19 7 19 4 19 5 18 8 19 8 19 4 19 4 19 13 19 17 18 11 19 6 19 2 19 5 19 4 19 3 18 12 19 12 19 8 19 7 19 6 18 13 19 9 19-2 19-1 19 7 19 9 18 6 19 4 19 2 19-2 19 6 19 15 18 6 19-4 19-1 19 8 19 10 18 2 19-1 19 1 19 3 19 7 19 8 18 6 19 0 19 1 19 5 19 6 19 6 18 3 19 5 19 10 19 13 19 7 18 2 19 3 19 1 19-3 19-2 19-1 18 1 19 5 19 7 19 9 19 3 19 1 18 5 19 6 19 5 19 5 19 8 18 10 19 2 19-8 19-1 19 5 19 4 18 2 19-7 19-10 19 15 19 18 19 1 18 1 19 6 19 5 19 1 19 1 18 8 19 5 19 4 19 1 19-6 19 3 18 10 19 4 19 3 19 4 19 2 19 0 18 1 19 5 19 7 19 5 19 0 18 3 19 6 19 7 19 3 19 0 19 1 18 0 19-3 19-3 19 2 19 5 19-1 18-4 19-3 19-5 19 0 19 5 18 4 19 7 19 3 19 7 19 9 19-7 18-10 19-2 19 3 19 3 19 7 19 4 18-1 19 3 19 4 19-3 19-1 18 3 19 4 19-1 19-2 19 5 19 3 18-1 19 4 19 7 19 0 19 5 19 6 18 0 19 6 19 5 19-5 19-7 18 0 19 3 19 2 19 3 19-2 19-2 18 7 19 5 19-2 19-2 19 0 19-1 18 14 19 13 19-1 19-6 19-10 18-1 19 12 19 4 19 1 19 5 19 3 18 5 19 5 19 3 19 6 19 6 19-4 18-8 19-4 19 5 19 7 19 3 18-1 19 1 19 2 19-5 19-9 19 4 18 11 19 1 19-10 19-4 19 6 19 6 18 8 19 7 19-2 19 3 19 2 18-6 19-9 19 1 19 11 19-1 19-6 18 6 19 8 19-2 19-3 19 7 19 0 18-9 19 3 19 8 19 3 19-2 18-6 19-5 19 1 19 5 19 5 19 2 18 0 19-2 19 1 19-2 19 0 19 5 18 3 19 3 19 2 19-3 19 1 18 6 19 4 19 2 19-2 19-3 19 0 18 0 19-3 19-1 19 4 19 5 19 4 18-4 19-7 19-6 19 4 19 8 18 2 19-5 19-6 19 4 19 2 19 2 18 3 19-2 19-1 19 5 19 6 19 2 18 0 19-11 19-9 19 2 19 8 18 9 19-2 19-4 19-2 19 0 19 2 18 5 19 4 19 2 19-3 19 2 19 7 18-4 19-3 19 6 19 8 19 10 18 3 19-6 19-7 19 2 19 3 19 0 18-3 19-6 19 3 19 7 19-3 19-5 18-2 19-5 19 0 19 2 19 1 18 6 19 3 19 3 19 6 19 7 19-1 18-6 19 2 19 4 19-1 19 0 19-1 18 4 19 13 19 8 19-5 19-3 18 2 19-1 19-8 19 0 19 10 19 0 18-9 19 2 19 3 19-4 19-3 19-4 18-7 19 0 19 4 19 1 19 2 18 7 19 2 19-2 19-4 19-2 19 4 18 5 19 1 19 1 19 1 19-6 19-6 18 0 19 4 19 6 19 4 19 1 18-1 19 0 19 8 19 5 19-4 19-7 18-2 19 2 19-2 19-2 19 1 19 7 18 11 19 1 19-11 19-5 19 0 18-1 19 3 19 3 19-1 19 6 19 8 18-1 19 4 19-2 19-4 19-1 19-7 18-2 19 8 19 5 19-4 19-2 18 3 19-2 19-4 19 6 19 7 19-7 18-9 19-2 19 3 19-2 19-4 19-1 18 6 19 4 19-3 19 0 19 9 18 0 19-7 19-4 19-3 19 1 19 8 18 7 19-2 19-9 19-4 19 10 19 7 18-9 19-10 19 0 19 6 19 4 18-4 19-6 19 1 19 5 19 9 19 5 18-1 19-2 19 0 19 4 19 3 19 7 18 6 19 0 19-3 19 2 19-1 18 0 19 4 19-5 19-9 19-1 19 4 18 8 19 3 19 0 19-4 19-2 19 4 18-10 19-7 19 7 19 4 19 0 18 1 19-8 19-4 19 6 19 2 19 3 18 0 19-10 19-3 19 0 19 0 19 6 18 3 19-3 19 4 19 2 19-5 18-5 19 8 19 5 19-1 19 0 19-5 18-3 19 6 19 8 19 4 19-2 19-6 18-4 19-2 19 1 19 4 19 1 18 1 19 0 19 0 19 4 19 9 19 0 18-9 19-4 19 1 19-2 19 1 19 4 18 8 19 7 19 0 19-7 19-7 18-2 19 2 19 3 19-2 19-1 19 2 18 1 19 0 19 2 19 6 19 1 19-3 18-3 19-4 19-4 19 2 19 8 18 1 19-6 19 5 19 6 19-4 19-5 18-1 19 2 19 1 19 3 19 0 19-1 18 3 19 3 19-3 19-6 19-10 18-10 19-1 19 3 19 7 19 6 19 5 18 2 19-2 19 1 19 9 19 4 19-7 18-1 19 1 19-4 19-12 19-6 18 3 19 0 19 0 19 1 19-2 19 0 18 5 19 7 19 3 19 3 19 2 19 3 18 3 19 1 19 6 19 0 19-6 18 2 19 4 19 3 19-7 19-4 19 5 18-3 19-9 19 3 19 7 19 0 19-6 18-1 19 11 19 5 19-5 19-3 18-3 19 0 19 4 19-1 19-5 19-1 18-5 19-5 19 2 19 3 19-3 19-5 18 3 19 3 19 2 19 1 19-3 21 0 0 1619 105 0 0-846 4-14 4-13 4-12 4-12 4-11 4-12 4-11 5-10 4-10 4-9 4-9 4-8 4-8 4-7 4-6 4-6 5-6 4-5 4-5 4-4 4-5 4-4 4-3 4-4 5-4 4-3 4-3 4-3 4-1 4-2 4-1 4-1 4-3 5-3 4-2 4-3 4-2 4-1 4-1 4-1 4-1 5-1 4-1 4-2 4-1 4-1 4-1 4-1 4-1 4-1 5-1 4-2 4-2 4-2 4-2 4 1 4 0 4 1 5 1 4 0 4 0 4 1 4 0 4 1 4-2 4-1 4-1 5-1 4-1 4-1 4-1 2-1 19 0 18 3 19 2 19 3 19-2 19-4 18-5 19 2 19 7 19 5 19-4 19-5 18 3 19 3 19-1 19-4 19-2 19 2 18 4 19 0 19 0 19-1 19-3 18-2 19 0 19-2 19 0 19 3 19 5 18 2 19-3 19-4 19 3 19 2 19-2 18 2 19 2 19 2 19-3 19-6 18-3 19 3 19 2 19 2 19 11 19 8 18-4 19-8 19-8 19-1 19 7 19 0 18-6 19-3 19 6 19 2 19-4 18-2 19 0 19 1 19 4 19 6 19-1 18-7 19-3 19 0 19 3 19-2 19 0 18 1 19-1 19 0 19-3 19-5 18 2 19 4 19-3 19-3 19 8 19 6 18-1 19-1 19 1 19-5 19-7 19-1 18 0 19 0 19 3 19 3 19 3 18 1 19-1 19 4 19-1 19-4 19 0 18 2 19 3 19 3 19 1 19 3 19 1 18 2 19-1 19-7 19-1 19 1 18-5 19-3 19 6 19 2 19-7 19-4 18 3 19-1 19-5 19 1 19 3 19-2 18-3 19 2 19 2 19 2 19 0 18 1 19 3 19 6 19 0 19-5 19 0 18 6 19-2 19-1 19 4 19-4 19-2 18 0 19 0 19-1 19 0 19 6 18 4 19-1 19-8 19-4 19-2 19 1 18 4 19 1 19 2 19 1 19-1 19-4 18-3 19 3 19 0 19-2 19-1 18-2 19 0 19 4 19 2 19-5 19-3 18 4 19 6 19-2 19-6 19 0 19 7 18 5 19-1 19 1 19-3 19-5 18-1 19 4 19 2 19 1 19 1 19 1 18-1 19 3 19 0 19 2 19 0 19-4 18-3 19-2 19-3 19-5 19-3 18-2 19-2 19 0 19 5 19 7"/>
</g></g>
<g fill="#000"><rect x="385.2" y="1797.2" width="6.9" height="968.6"/><rect x="385.2" y="2759.8" width="1565.3" height="6.0"/><rect x="558.5" y="2760.8" width="6.5" height="22.8" rx="2.2"/><rect x="905.0" y="2760.8" width="6.5" height="22.8" rx="2.2"/><rect x="1251.5" y="2760.8" width="6.5" height="22.8" rx="2.2"/><rect x="1598.0" y="2760.8" width="6.5" height="22.8" rx="2.2"/><rect x="1944.5" y="2760.8" width="6.5" height="22.8" rx="2.2"/><rect x="385.2" y="2760.8" width="6.5" height="13.8" rx="2.2"/><rect x="731.7" y="2760.8" width="6.5" height="13.8" rx="2.2"/><rect x="1078.2" y="2760.8" width="6.5" height="13.8" rx="2.2"/><rect x="1424.7" y="2760.8" width="6.5" height="13.8" rx="2.2"/><rect x="1771.2" y="2760.8" width="6.5" height="13.8" rx="2.2"/><rect x="367.6" y="2684.8" width="23.0" height="6.8" rx="2.2"/><rect x="367.6" y="2388.9" width="23.0" height="6.8" rx="2.2"/><rect x="367.6" y="2093.0" width="23.0" height="6.8" rx="2.2"/><rect x="367.6" y="1797.2" width="23.0" height="6.8" rx="2.2"/><rect x="377.1" y="2536.9" width="13.5" height="6.8" rx="2.2"/><rect x="377.1" y="2241.0" width="13.5" height="6.8" rx="2.2"/><rect x="377.1" y="1945.1" width="13.5" height="6.8" rx="2.2"/></g>
<g class="tk"><text transform="translate(359.3 2705.3) scale(0.942 1)" text-anchor="end">0</text><text transform="translate(359.3 2409.4) scale(0.942 1)" text-anchor="end">40</text><text transform="translate(359.3 2113.5) scale(0.942 1)" text-anchor="end">80</text><text transform="translate(359.3 1817.7) scale(0.942 1)" text-anchor="end">120</text><g transform="translate(359.3 1817.7) scale(0.942 1)" fill="#fff"><rect x="-116.72" y="-8.35" width="13.58" height="9.25"/><rect x="-92.85" y="-8.35" width="12.63" height="9.25"/></g><text transform="translate(562.1 2845.5) scale(0.942 1)" text-anchor="middle">0</text><text transform="translate(908.6 2845.5) scale(0.942 1)" text-anchor="middle">100</text><g transform="translate(908.6 2845.5) scale(0.942 1)" fill="#fff"><rect x="-56.40" y="-8.35" width="13.58" height="9.25"/><rect x="-32.53" y="-8.35" width="12.63" height="9.25"/></g><text transform="translate(1255.1 2845.5) scale(0.942 1)" text-anchor="middle">200</text><text transform="translate(1601.6 2845.5) scale(0.942 1)" text-anchor="middle">300</text><text transform="translate(1948.1 2845.5) scale(0.942 1)" text-anchor="middle">400</text></g>
<text class="ti" transform="translate(964.5 2973.9) scale(1 1.04)">Time, msec</text>
<g id="yt3" transform="translate(169.3 2555.0) rotate(-90) scale(1 1.04)"><text class="tr" transform="skewX(-19)" x="0" y="0">I</text><text class="tr" style="font-size:60.5px" x="22.5" y="28.5">K(DR)</text><text class="tr" x="213.7" y="0">density, pA/pF</text></g>
<text id="lg3" class="lg" font-size="55.6" x="1511.5" y="2279.6" textLength="137.5" lengthAdjust="spacingAndGlyphs">MDZ</text>
</svg></body></html>
